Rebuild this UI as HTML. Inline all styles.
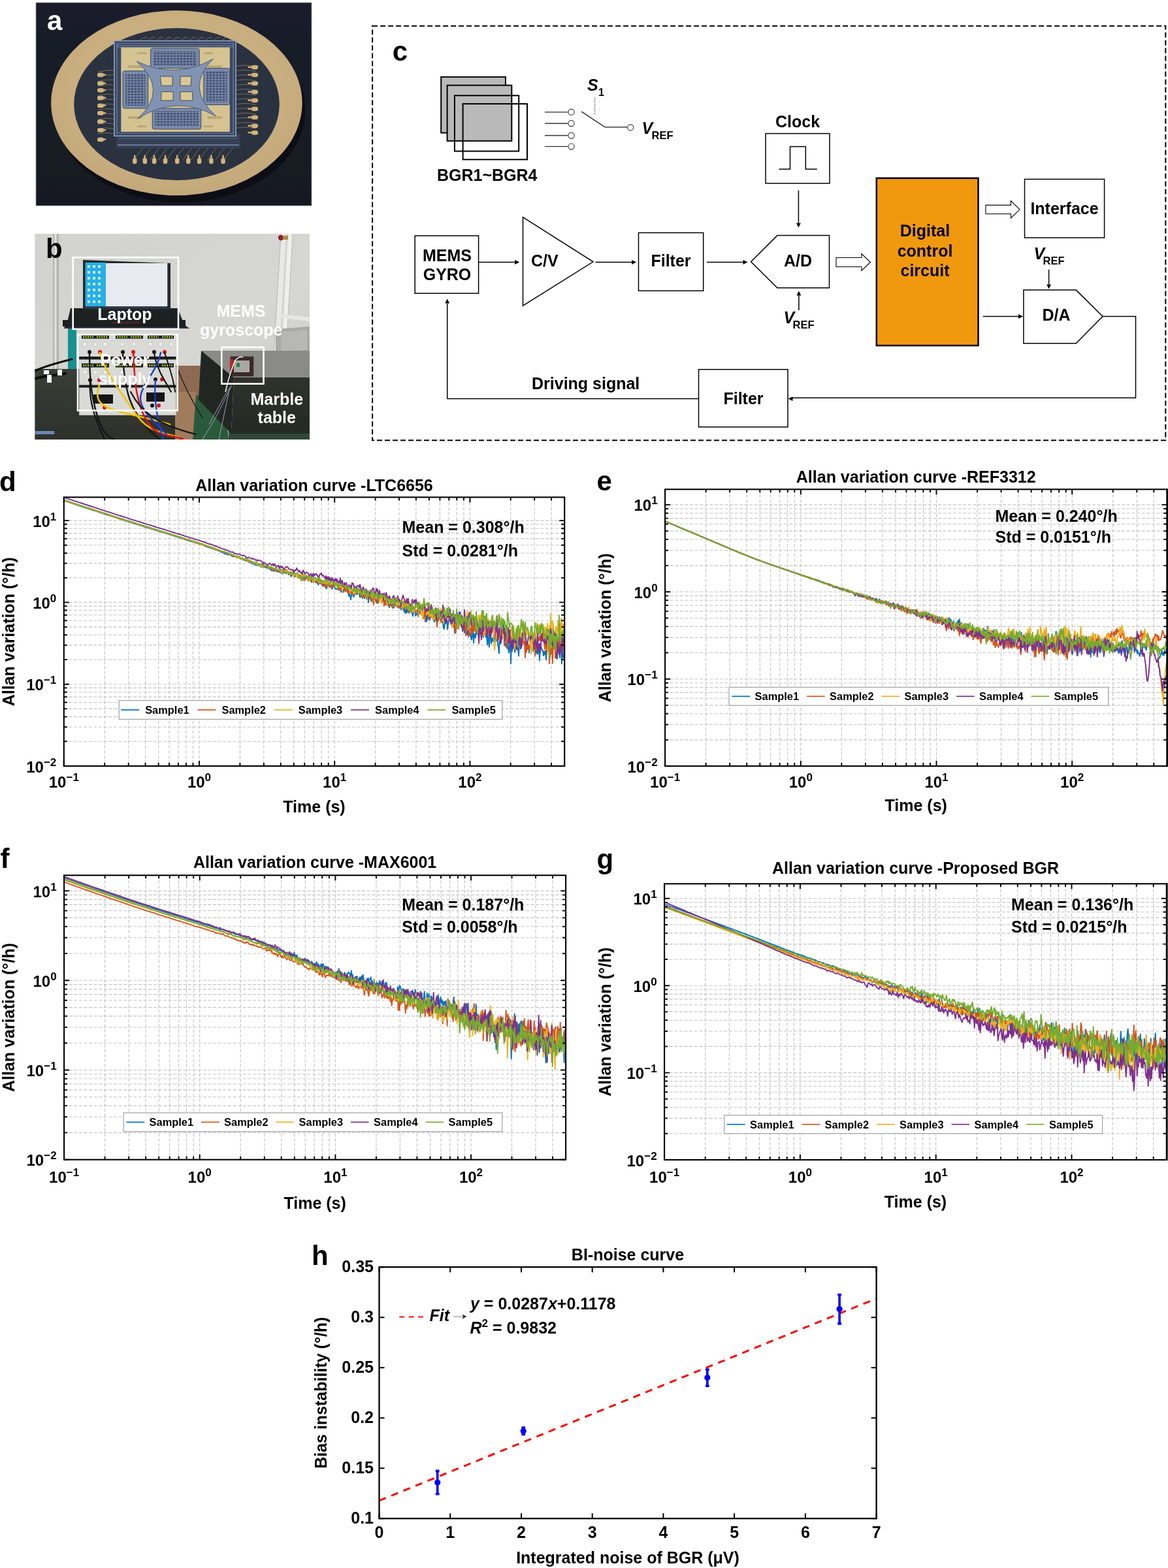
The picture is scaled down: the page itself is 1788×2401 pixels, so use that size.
<!DOCTYPE html>
<html><head><meta charset="utf-8"><title>Figure</title>
<style>html,body{margin:0;padding:0;background:#fff;}svg{display:block;}</style>
</head><body>
<svg width="1788" height="2401" viewBox="0 0 1788 2401" font-family="'Liberation Sans', Arial, Helvetica, sans-serif" font-weight="bold">
<rect width="1788" height="2401" fill="#fff"/>
<defs><clipPath id="clipA"><rect x="55" y="4" width="422" height="311"/></clipPath><clipPath id="clipB"><rect x="53.2" y="357.9" width="420.8" height="315.1"/></clipPath><linearGradient id="bgA" x1="0" y1="0" x2="0" y2="1"><stop offset="0" stop-color="#1a1f2a"/><stop offset="1" stop-color="#151921"/></linearGradient><radialGradient id="ringA" cx="0.5" cy="0.45" r="0.6"><stop offset="0.7" stop-color="#c9ae80"/><stop offset="1" stop-color="#c2a679"/></radialGradient><linearGradient id="wallB" x1="0" y1="0" x2="1" y2="1"><stop offset="0" stop-color="#d2d2ce"/><stop offset="0.6" stop-color="#d6d6d2"/><stop offset="1" stop-color="#cacac6"/></linearGradient><linearGradient id="tableB" x1="0" y1="0" x2="0" y2="1"><stop offset="0" stop-color="#3a3d36"/><stop offset="1" stop-color="#2d312b"/></linearGradient><linearGradient id="marbleF" x1="0" y1="0" x2="0" y2="1"><stop offset="0" stop-color="#2e322d"/><stop offset="1" stop-color="#262a25"/></linearGradient><pattern id="comb" width="5" height="4.2" patternUnits="userSpaceOnUse"><rect width="5" height="4.2" fill="#7788a8"/><rect x="0.6" y="0.6" width="3.6" height="2.6" fill="#3f4e6d"/></pattern><filter id="soft" x="-2%" y="-2%" width="104%" height="104%"><feGaussianBlur stdDeviation="0.55"/></filter></defs>
<g clip-path="url(#clipA)"><g filter="url(#soft)">
<rect x="55" y="4" width="422" height="311" fill="url(#bgA)"/>
<ellipse cx="276" cy="168" rx="191.5" ry="142" fill="#0e1116"/>
<ellipse cx="270.4" cy="157.7" rx="192.2" ry="141.6" fill="url(#ringA)"/>
<ellipse cx="270.5" cy="159.4" rx="157.3" ry="116.5" fill="#2a313f"/>
<g fill="#d4b47c"><rect x="149" y="111.5" width="10" height="6.5" rx="3"/><rect x="156" y="113.3" width="6" height="2.4"/><rect x="149" y="124.5" width="10" height="6.5" rx="3"/><rect x="156" y="126.3" width="6" height="2.4"/><rect x="149" y="135" width="10" height="6.5" rx="3"/><rect x="156" y="136.8" width="6" height="2.4"/><rect x="149" y="146.7" width="10" height="6.5" rx="3"/><rect x="156" y="148.5" width="6" height="2.4"/><rect x="149" y="158.4" width="10" height="6.5" rx="3"/><rect x="156" y="160.20000000000002" width="6" height="2.4"/><rect x="149" y="170.1" width="10" height="6.5" rx="3"/><rect x="156" y="171.9" width="6" height="2.4"/><rect x="149" y="183.1" width="10" height="6.5" rx="3"/><rect x="156" y="184.9" width="6" height="2.4"/><rect x="149" y="196.1" width="10" height="6.5" rx="3"/><rect x="156" y="197.9" width="6" height="2.4"/><rect x="149" y="210.4" width="10" height="6.5" rx="3"/><rect x="156" y="212.20000000000002" width="6" height="2.4"/><rect x="385" y="99.8" width="10" height="6.5" rx="3"/><rect x="379.5" y="101.6" width="6" height="2.4"/><rect x="385" y="111.5" width="10" height="6.5" rx="3"/><rect x="379.5" y="113.3" width="6" height="2.4"/><rect x="385" y="124.5" width="10" height="6.5" rx="3"/><rect x="379.5" y="126.3" width="6" height="2.4"/><rect x="385" y="137.6" width="10" height="6.5" rx="3"/><rect x="379.5" y="139.4" width="6" height="2.4"/><rect x="385" y="150.6" width="10" height="6.5" rx="3"/><rect x="379.5" y="152.4" width="6" height="2.4"/><rect x="385" y="163.6" width="10" height="6.5" rx="3"/><rect x="379.5" y="165.4" width="6" height="2.4"/><rect x="385" y="176.6" width="10" height="6.5" rx="3"/><rect x="379.5" y="178.4" width="6" height="2.4"/><rect x="385" y="189.6" width="10" height="6.5" rx="3"/><rect x="379.5" y="191.4" width="6" height="2.4"/><rect x="385" y="200" width="10" height="6.5" rx="3"/><rect x="379.5" y="201.8" width="6" height="2.4"/><rect x="203.0" y="242" width="6.5" height="9" rx="3"/><rect x="205.0" y="237.5" width="2.4" height="6"/><rect x="218.60000000000002" y="242" width="6.5" height="9" rx="3"/><rect x="220.60000000000002" y="237.5" width="2.4" height="6"/><rect x="232.9" y="242" width="6.5" height="9" rx="3"/><rect x="234.9" y="237.5" width="2.4" height="6"/><rect x="249.8" y="242" width="6.5" height="9" rx="3"/><rect x="251.8" y="237.5" width="2.4" height="6"/><rect x="268.0" y="242" width="6.5" height="9" rx="3"/><rect x="270.0" y="237.5" width="2.4" height="6"/><rect x="285.0" y="242" width="6.5" height="9" rx="3"/><rect x="287.0" y="237.5" width="2.4" height="6"/><rect x="301.90000000000003" y="242" width="6.5" height="9" rx="3"/><rect x="303.90000000000003" y="237.5" width="2.4" height="6"/><rect x="320.1" y="242" width="6.5" height="9" rx="3"/><rect x="322.1" y="237.5" width="2.4" height="6"/><rect x="338.3" y="242" width="6.5" height="9" rx="3"/><rect x="340.3" y="237.5" width="2.4" height="6"/></g>
<path d="M150 110Q165 106 180 108M392 102Q375 98 358 102M150 117.3Q165 113.3 180 115.6M392 109.3Q375 105.3 358 109.3M150 124.6Q165 120.6 180 123.2M392 116.6Q375 112.6 358 116.6M150 131.9Q165 127.9 180 130.8M392 123.9Q375 119.9 358 123.9M150 139.2Q165 135.2 180 138.4M392 131.2Q375 127.2 358 131.2M150 146.5Q165 142.5 180 146M392 138.5Q375 134.5 358 138.5M150 153.8Q165 149.8 180 153.6M392 145.8Q375 141.8 358 145.8M150 161.1Q165 157.1 180 161.2M392 153.1Q375 149.1 358 153.1M150 168.4Q165 164.4 180 168.8M392 160.4Q375 156.4 358 160.4M150 175.7Q165 171.7 180 176.4M392 167.7Q375 163.7 358 167.7M150 183Q165 179 180 184M392 175Q375 171 358 175M150 190.3Q165 186.3 180 191.6M392 182.3Q375 178.3 358 182.3M150 197.6Q165 193.6 180 199.2M392 189.6Q375 185.6 358 189.6M150 204.9Q165 200.9 180 206.8M392 196.9Q375 192.9 358 196.9M205 245Q213 232 225 220M213 64Q219 55 225 58M217.5 245Q225.5 232 237.5 220M225.5 64Q231.5 55 237.5 58M230 245Q238 232 250 220M238 64Q244 55 250 58M242.5 245Q250.5 232 262.5 220M250.5 64Q256.5 55 262.5 58M255 245Q263 232 275 220M263 64Q269 55 275 58M267.5 245Q275.5 232 287.5 220M275.5 64Q281.5 55 287.5 58M280 245Q288 232 300 220M288 64Q294 55 300 58M292.5 245Q300.5 232 312.5 220M300.5 64Q306.5 55 312.5 58M305 245Q313 232 325 220M313 64Q319 55 325 58M317.5 245Q325.5 232 337.5 220M325.5 64Q331.5 55 337.5 58M330 245Q338 232 350 220M338 64Q344 55 350 58M342.5 245Q350.5 232 362.5 220M350.5 64Q356.5 55 362.5 58" stroke="#b89e6a" stroke-width="0.7" fill="none" opacity="0.8"/>
<path d="M177.5 205H367.5L368 227H178Z" fill="#363f54"/>
<path d="M180 222H366" stroke="#6a7a96" stroke-width="2"/><path d="M182 212H364" stroke="#4a5870" stroke-width="1.5"/>
<rect x="174.9" y="62.5" width="186.1" height="145.7" fill="#3a4660" stroke="#8fa3c4" stroke-width="1.6"/>
<path d="M178 66.5H358M178 69.5H358M178 72H358M178 204H358" stroke="#7d90b0" stroke-width="0.8"/><path d="M179 66V205M357 66V205" stroke="#6f82a2" stroke-width="1.2"/>
<rect x="185.3" y="72.6" width="166.5" height="129.2" fill="#d5c492"/>
<g fill="#b9a878"><rect x="196" y="100" width="22" height="4"/><rect x="196" y="178" width="22" height="4"/><rect x="318" y="100" width="22" height="4"/><rect x="318" y="178" width="22" height="4"/><rect x="210" y="80" width="14" height="3"/><rect x="312" y="80" width="14" height="3"/><rect x="210" y="192" width="14" height="3"/><rect x="312" y="192" width="14" height="3"/></g>
<rect x="230.6" y="74" width="74.6" height="30.6" rx="3" fill="#7a8cac" stroke="#3c4760" stroke-width="1"/>
<rect x="234.6" y="78" width="66.6" height="22.6" fill="url(#comb)"/>
<rect x="233.2" y="165.9" width="74.6" height="31.9" rx="3" fill="#7a8cac" stroke="#3c4760" stroke-width="1"/>
<rect x="237.2" y="169.9" width="66.6" height="23.9" fill="url(#comb)"/>
<rect x="188" y="108.6" width="38.6" height="57.3" rx="3" fill="#7a8cac" stroke="#3c4760" stroke-width="1"/>
<rect x="192" y="112.6" width="30.6" height="49.3" fill="url(#comb)"/>
<rect x="311.8" y="104.6" width="40" height="55.9" rx="3" fill="#7a8cac" stroke="#3c4760" stroke-width="1"/>
<rect x="315.8" y="108.6" width="32" height="47.9" fill="url(#comb)"/>
<path d="M209.3 94Q270 122.6 326.5 90Q281.9 134 330.5 177.8Q270 144 210.6 181.8Q259.2 138 209.3 94Z" fill="#8193b2" stroke="#4d5a74" stroke-width="1"/>
<g fill="#d9c894" stroke="#2d3446" stroke-width="0.8"><path d="M245.2 117H264V131.2H247Z"/><path d="M276 117H293.2L292 131.2H276Z"/><path d="M247 140.6H265.2V153.9H246.6Z"/><path d="M276 140.6H294.5L295 153.9H276Z"/></g>
<path d="M185 72L209 94M351 72L326.5 90M185 201L210.6 181.8M351 201L330.5 177.8" stroke="#c9b486" stroke-width="0.8"/>
<circle cx="140" cy="10" r="0" fill="none"/>
</g></g>
<rect x="55" y="4" width="422" height="311" fill="none" stroke="#9a9a9a" stroke-width="0.8"/>
<text x="72" y="46.2" font-size="42" fill="#fff">a</text>
<g clip-path="url(#clipB)"><g filter="url(#soft)">
<rect x="53.2" y="357.9" width="420.8" height="315.1" fill="url(#wallB)"/>
<rect x="81.2" y="357.9" width="9" height="212" fill="#b4b4b2"/><rect x="83.5" y="357.9" width="3" height="212" fill="#e2e2e0"/>
<path d="M430 358L418 560H426L438 358Z" fill="#e9e9e7"/><path d="M441 358L430 560H437L448 358Z" fill="#efefed"/>
<path d="M430 358L418 560" stroke="#b4b4b0" stroke-width="1"/><path d="M448 358L437 560" stroke="#b8b8b4" stroke-width="1"/>
<path d="M423 480L474 486V492L423 486Z" fill="#e6e6e4"/>
<circle cx="430" cy="364" r="4.2" fill="#8a2030"/><rect x="433" y="361" width="8" height="6" fill="#b08a40"/>
<path d="M422 504L474 500V540L422 542Z" fill="#a9a9a5"/><path d="M430 508L470 505V536L430 538Z" fill="#b7b7b3"/>
<rect x="104" y="495" width="13" height="72" fill="#16918f"/>
<path d="M53.2 565H305V673H53.2Z" fill="url(#tableB)"/>
<path d="M268 560H310V640H268Z" fill="#8e6b52"/><path d="M268 600H300V673H268Z" fill="#a07c5c"/>
<path d="M300 605L345 620L350 673H295Z" fill="#2c5a3a"/>
<path d="M350 655H474V673H350Z" fill="#2f4a38"/>
<path d="M308 537H474V578H358Z" fill="#8a8a86"/>
<path d="M308 537L358 578L354 664L304 612Z" fill="#222520"/>
<path d="M358 578H474V664H354Z" fill="url(#marbleF)"/>
<rect x="352.6" y="545.8" width="35.6" height="30.5" fill="#3a2c26"/><rect x="358" y="552" width="24" height="18" fill="#a8a8a4"/>
<rect x="352" y="550" width="5" height="16" fill="#c02020"/><rect x="362" y="556" width="5" height="6" fill="#208040"/>
<path d="M345 600Q352 570 360 552Q366 545 372 547" stroke="#f0f0f0" stroke-width="1.6" fill="none"/>
<path d="M355 590L330 640L310 673M350 595L320 650M352 592L335 673" stroke="#9aa0b8" stroke-width="1" fill="none"/>
<path d="M100 497H282L290 503H98Z" fill="#2a2b2e"/>
<path d="M96 490H284V500H96Z" fill="#1c1d20"/>
<path d="M108 472H272L282 497H102Z" fill="#1f2023"/>
<path d="M172 494H214" stroke="#a02020" stroke-width="1.2"/>
<path d="M127 398L261 403V474H127Z" fill="#26292f"/>
<rect x="130.6" y="402" width="31.3" height="67" fill="#26b0e6"/>
<rect x="161.9" y="403" width="94.4" height="66" fill="#e7ebf1"/>
<rect x="130.6" y="469" width="125.7" height="3" fill="#2e3d58"/>
<g fill="#f4f4f4" opacity="0.8"><rect x="134" y="406" width="4" height="4"/><rect x="142" y="406" width="4" height="4"/><rect x="150" y="406" width="4" height="4"/><rect x="134" y="415" width="4" height="4"/><rect x="142" y="415" width="4" height="4"/><rect x="150" y="415" width="4" height="4"/><rect x="134" y="424" width="4" height="4"/><rect x="142" y="424" width="4" height="4"/><rect x="150" y="424" width="4" height="4"/><rect x="134" y="433" width="4" height="4"/><rect x="142" y="433" width="4" height="4"/><rect x="150" y="433" width="4" height="4"/><rect x="134" y="442" width="4" height="4"/><rect x="142" y="442" width="4" height="4"/><rect x="150" y="442" width="4" height="4"/><rect x="134" y="451" width="4" height="4"/><rect x="142" y="451" width="4" height="4"/><rect x="150" y="451" width="4" height="4"/><rect x="134" y="460" width="4" height="4"/><rect x="142" y="460" width="4" height="4"/><rect x="150" y="460" width="4" height="4"/></g>
<rect x="121.2" y="507.3" width="148.2" height="128.5" fill="#d9d9d5"/>
<rect x="121.2" y="546" width="148.2" height="4.5" fill="#1e1e1e"/><rect x="121.2" y="589.5" width="148.2" height="4" fill="#1e1e1e"/>
<g fill="#141414"><rect x="125" y="513.5" width="42" height="5"/><rect x="177" y="513.5" width="42" height="5"/><rect x="226" y="513.5" width="40" height="5"/><rect x="125" y="556.5" width="42" height="6"/><rect x="177" y="556.5" width="42" height="6"/><rect x="226" y="556.5" width="40" height="6"/><rect x="143" y="604" width="30" height="14"/><rect x="224" y="601" width="28" height="14"/></g>
<g stroke="#a8d82a" stroke-width="2.6" stroke-dasharray="2.2 1.3" fill="none"><path d="M127 516h16"/><path d="M148 516h17"/><path d="M179 516h16"/><path d="M200 516h17"/><path d="M228 516h15"/><path d="M248 516h16"/><path d="M127 559.5h16"/><path d="M148 559.5h17"/><path d="M179 559.5h16"/><path d="M200 559.5h17"/><path d="M228 559.5h15"/><path d="M248 559.5h16"/></g>
<g fill="#f0f0ee" stroke="#b0b0ac" stroke-width="0.6"><circle cx="130" cy="527" r="3.2"/><circle cx="146" cy="527" r="3.2"/><circle cx="161" cy="527" r="3.2"/><circle cx="187" cy="527" r="3.2"/><circle cx="205" cy="527" r="3.2"/><circle cx="230" cy="527" r="3.2"/><circle cx="246" cy="527" r="3.2"/><circle cx="262" cy="527" r="3.2"/><circle cx="130" cy="570" r="3.2"/><circle cx="146" cy="570" r="3.2"/><circle cx="161" cy="570" r="3.2"/><circle cx="187" cy="570" r="3.2"/><circle cx="205" cy="570" r="3.2"/><circle cx="230" cy="570" r="3.2"/><circle cx="246" cy="570" r="3.2"/><circle cx="262" cy="570" r="3.2"/></g>
<g fill="#111"><circle cx="137" cy="539" r="3"/><circle cx="188" cy="539" r="3"/><circle cx="236" cy="539" r="3"/><circle cx="138" cy="582" r="3"/><circle cx="238" cy="581" r="3"/><circle cx="233" cy="621" r="3"/></g>
<g fill="#d01818"><circle cx="153" cy="539" r="3"/><circle cx="204" cy="539" r="3"/><circle cx="252" cy="539" r="3"/><circle cx="152" cy="582" r="3"/><circle cx="248" cy="581" r="3"/><circle cx="243" cy="621" r="3"/><circle cx="160" cy="624" r="3"/></g>
<g fill="none" stroke-linecap="round"><path d="M137 540C137 580 140 610 150 640S170 670 175 673" stroke="#151515" stroke-width="2.4"/><path d="M188 540C190 600 200 630 230 660S265 673 280 673" stroke="#151515" stroke-width="2.4"/><path d="M138 582C135 620 150 650 160 673" stroke="#151515" stroke-width="2.2"/><path d="M236 540C238 560 250 580 262 600" stroke="#151515" stroke-width="2.2"/><path d="M153 540C160 570 185 600 205 630S240 660 275 670" stroke="#f0c400" stroke-width="2.6"/><path d="M152 590C145 610 150 620 175 628S230 640 260 650" stroke="#f0c400" stroke-width="2.6"/><path d="M204 540C206 590 210 620 225 645S260 665 280 672" stroke="#dd1515" stroke-width="2.6"/><path d="M246 540C240 570 215 590 215 610S240 650 255 665" stroke="#1c3cc8" stroke-width="2.4"/><path d="M238 582C235 610 240 640 250 673" stroke="#1c3cc8" stroke-width="2.2"/><path d="M252 540C258 560 265 575 268 600" stroke="#151515" stroke-width="2"/><path d="M200 600C215 630 240 650 300 665" stroke="#151515" stroke-width="2.2"/><path d="M53 568C70 560 90 555 110 550" stroke="#111" stroke-width="3"/><path d="M53 580C70 575 85 575 100 572" stroke="#111" stroke-width="4"/><path d="M270 560Q285 600 310 640" stroke="#222" stroke-width="1.5"/></g>
<rect x="67" y="567" width="8" height="6" fill="#f2f2f2"/><rect x="72" y="574" width="7" height="12" fill="#f2f2f2"/><rect x="88" y="566" width="7" height="9" fill="#f2f2f2"/>
<rect x="53.2" y="660" width="30" height="5" fill="#6a86b8"/>
</g></g>
<g fill="none" stroke="#fff" stroke-width="2.6"><rect x="111.7" y="394.2" width="161.3" height="109.7"/><rect x="119" y="512.3" width="152.6" height="116.3"/><rect x="339.3" y="531.8" width="64.2" height="55.9"/></g>
<text x="191" y="490" font-size="25" text-anchor="middle" fill="#fff">Laptop</text>
<text x="190.9" y="559.6" font-size="25" text-anchor="middle" fill="#fff">Power</text>
<text x="191" y="589.4" font-size="25" text-anchor="middle" fill="#fff">supply</text>
<text x="368.9" y="485.3" font-size="25" text-anchor="middle" fill="#fff">MEMS</text>
<text x="369.2" y="513.9" font-size="25" text-anchor="middle" fill="#fff">gyroscope</text>
<text x="423.8" y="619.5" font-size="25" text-anchor="middle" fill="#fff">Marble</text>
<text x="423.8" y="648.1" font-size="25" text-anchor="middle" fill="#fff">table</text>
<text x="70" y="395" font-size="42">b</text>
<rect x="570.1" y="39.8" width="1214.2" height="634.5" fill="none" stroke="#000" stroke-width="2" stroke-dasharray="8 4"/>
<text x="600.8" y="92.6" font-size="42">c</text>
<rect x="675.2" y="117.8" width="98.7" height="85.6" fill="#b9b9b9" stroke="#000" stroke-width="2"/>
<rect x="684.6" y="130.6" width="98.7" height="85.2" fill="#b9b9b9" stroke="#000" stroke-width="2"/>
<rect x="695.9" y="146.3" width="98.3" height="85.2" fill="none" stroke="#000" stroke-width="2"/>
<rect x="708.6" y="159" width="98.4" height="85.3" fill="none" stroke="#000" stroke-width="2"/>
<text x="669" y="277" font-size="25">BGR1~BGR4</text>
<path d="M834 171.7H869.7" stroke="#333" stroke-width="1.3"/>
<circle cx="874.6" cy="171.7" r="4.6" fill="#fff" stroke="#333" stroke-width="1.1"/>
<path d="M834 189H869.7" stroke="#333" stroke-width="1.3"/>
<circle cx="874.6" cy="189" r="4.6" fill="#fff" stroke="#333" stroke-width="1.1"/>
<path d="M834 207.5H869.7" stroke="#333" stroke-width="1.3"/>
<circle cx="874.6" cy="207.5" r="4.6" fill="#fff" stroke="#333" stroke-width="1.1"/>
<path d="M834 224.3H869.7" stroke="#333" stroke-width="1.3"/>
<circle cx="874.6" cy="224.3" r="4.6" fill="#fff" stroke="#333" stroke-width="1.1"/>
<path d="M890.2 170.9L925.9 194.6H960.5" stroke="#222" stroke-width="1.3" fill="none"/>
<circle cx="965.2" cy="195.2" r="4.6" fill="#fff" stroke="#333" stroke-width="1.1"/>
<path d="M910.6 149.3V175.3" stroke="#555" stroke-width="1" stroke-dasharray="2.2 1.2"/>
<text x="899" y="138.6" font-size="25" font-style="italic">S</text>
<text x="916" y="146.6" font-size="16">1</text>
<text x="982.5" y="204.8" font-size="25" font-style="italic">V</text>
<text x="997.5" y="212.8" font-size="16.5">REF</text>
<text x="1221" y="194.5" font-size="25" text-anchor="middle">Clock</text>
<rect x="1172" y="204.5" width="98" height="76.2" fill="none" stroke="#000" stroke-width="1.5"/>
<path d="M1192.5 259H1209.5V224.5H1233.3V259H1250.8" stroke="#000" stroke-width="1.5" fill="none"/>
<path d="M1222.4 291.5L1222.4 341.6" stroke="#000" stroke-width="1.5" fill="none"/>
<path d="M1222.4 348.6L1219 341.6L1225.8 341.6Z" fill="#000"/>
<rect x="635.2" y="361" width="97.4" height="88.2" fill="none" stroke="#000" stroke-width="1.5"/>
<text x="684.5" y="399.6" font-size="25" text-anchor="middle">MEMS</text>
<text x="684.5" y="429.2" font-size="25" text-anchor="middle">GYRO</text>
<path d="M732.6 401.5L788.1 401.5" stroke="#000" stroke-width="1.5" fill="none"/>
<path d="M795.1 401.5L788.1 404.9L788.1 398.1Z" fill="#000"/>
<path d="M800.5 332.6L908 400.8L800.5 468.2Z" fill="none" stroke="#000" stroke-width="1.5"/>
<text x="813" y="408" font-size="25">C/V</text>
<path d="M911.4 401.5L967.2 401.5" stroke="#000" stroke-width="1.5" fill="none"/>
<path d="M974.2 401.5L967.2 404.9L967.2 398.1Z" fill="#000"/>
<rect x="977.5" y="356.4" width="99.2" height="88.9" fill="none" stroke="#000" stroke-width="1.5"/>
<text x="1027" y="408" font-size="25" text-anchor="middle">Filter</text>
<path d="M1082 401.5L1137.5 401.5" stroke="#000" stroke-width="1.5" fill="none"/>
<path d="M1144.5 401.5L1137.5 404.9L1137.5 398.1Z" fill="#000"/>
<path d="M1149.6 400.8L1189.8 360.6H1269.5V440.7H1189.8Z" fill="none" stroke="#000" stroke-width="1.5"/>
<text x="1221.5" y="408" font-size="25" text-anchor="middle">A/D</text>
<path d="M1222.9 475L1222.9 452.5" stroke="#000" stroke-width="1.5" fill="none"/>
<path d="M1222.9 445.5L1226.3 452.5L1219.5 452.5Z" fill="#000"/>
<text x="1199.5" y="494.9" font-size="25" font-style="italic">V</text>
<text x="1213.5" y="502.7" font-size="16.5">REF</text>
<path d="M1280 394.5H1318.9V388.5L1332.4 401.5L1318.9 414.5V408.5H1280Z" fill="#fff" stroke="#000" stroke-width="1.1"/>
<path d="M1508.9 314.1H1547.5V307.6L1561 320.8L1547.5 334V327.5H1508.9Z" fill="#fff" stroke="#000" stroke-width="1.1"/>
<rect x="1341.8" y="272.8" width="155.7" height="256.3" fill="#f0990f" stroke="#000" stroke-width="2.5"/>
<text x="1416" y="362.4" font-size="25" text-anchor="middle">Digital</text>
<text x="1416" y="392.6" font-size="25" text-anchor="middle">control</text>
<text x="1416" y="422.6" font-size="25" text-anchor="middle">circuit</text>
<rect x="1568.5" y="274.4" width="122.1" height="89.6" fill="none" stroke="#000" stroke-width="1.5"/>
<text x="1629.5" y="328" font-size="25" text-anchor="middle">Interface</text>
<text x="1582.5" y="396.5" font-size="25" font-style="italic">V</text>
<text x="1596.5" y="404.7" font-size="16.5">REF</text>
<path d="M1605.6 412.8L1605.6 435.5" stroke="#000" stroke-width="1.5" fill="none"/>
<path d="M1605.6 442.5L1602.2 435.5L1609 435.5Z" fill="#000"/>
<path d="M1566.9 444.1H1647.3L1688 484.5L1647.3 525.8H1566.9Z" fill="none" stroke="#000" stroke-width="1.5"/>
<text x="1617" y="491" font-size="25" text-anchor="middle">D/A</text>
<path d="M1504.7 484.5L1559 484.5" stroke="#000" stroke-width="1.5" fill="none"/>
<path d="M1566 484.5L1559 487.9L1559 481.1Z" fill="#000"/>
<path d="M1688 484.5H1738.5V609.2H1212" stroke="#000" stroke-width="1.5" fill="none"/>
<path d="M1206.5 610.6L1213.5 607.2L1213.5 614Z" fill="#000"/>
<rect x="1069.5" y="565.7" width="136.5" height="88.1" fill="none" stroke="#000" stroke-width="1.5"/>
<text x="1138" y="618.6" font-size="25" text-anchor="middle">Filter</text>
<path d="M1069.5 610.6H684.7V465" stroke="#000" stroke-width="1.5" fill="none"/>
<path d="M684.7 457.6L681.3 464.6H688.1Z" fill="#000"/>
<text x="814" y="595.8" font-size="25">Driving signal</text>
<clipPath id="clipd"><rect x="97.8" y="761.4" width="766.4" height="411.6"/></clipPath>
<path d="M160.2 761.4V1173M196.7 761.4V1173M222.5 761.4V1173M242.6 761.4V1173M259 761.4V1173M272.9 761.4V1173M284.9 761.4V1173M295.5 761.4V1173M305 761.4V1173M367.4 761.4V1173M403.8 761.4V1173M429.7 761.4V1173M449.8 761.4V1173M466.2 761.4V1173M480.1 761.4V1173M492.1 761.4V1173M502.7 761.4V1173M512.2 761.4V1173M574.6 761.4V1173M611 761.4V1173M636.9 761.4V1173M657 761.4V1173M673.4 761.4V1173M687.3 761.4V1173M699.3 761.4V1173M709.9 761.4V1173M719.4 761.4V1173M781.7 761.4V1173M818.2 761.4V1173M844.1 761.4V1173M97.8 1135.3H864.2M97.8 1113.2H864.2M97.8 1097.6H864.2M97.8 1085.4H864.2M97.8 1075.5H864.2M97.8 1067.1H864.2M97.8 1059.8H864.2M97.8 1053.4H864.2M97.8 1047.7H864.2M97.8 1010H864.2M97.8 987.9H864.2M97.8 972.3H864.2M97.8 960.1H864.2M97.8 950.2H864.2M97.8 941.8H864.2M97.8 934.5H864.2M97.8 928.1H864.2M97.8 922.4H864.2M97.8 884.7H864.2M97.8 862.6H864.2M97.8 847H864.2M97.8 834.8H864.2M97.8 824.9H864.2M97.8 816.5H864.2M97.8 809.2H864.2M97.8 802.8H864.2M97.8 797.1H864.2" stroke="#c4c4c4" stroke-width="1.1" stroke-dasharray="5 2.6" fill="none"/>
<g clip-path="url(#clipd)" fill="none" stroke-width="1.9" stroke-linejoin="round">
<path d="M97.8 766.7L100.8 767.6L103.8 768.6L106.8 769.6L109.8 770.6L112.8 771.6L115.8 772.6L118.8 773.6L121.8 774.6L124.8 775.6L127.8 776.5L130.8 777.5L133.8 778.5L136.8 779.5L139.8 780.5L142.8 781.5L145.8 782.4L148.8 783.4L151.8 784.4L154.8 785.4L157.8 786.3L160.8 787.3L163.8 788.3L166.8 789.3L169.8 790.2L172.8 791.2L175.8 792.2L178.8 793.1L181.8 794.1L184.8 795.1L187.8 796L190.8 797L193.8 798L196.8 798.9L199.8 799.9L202.8 800.9L205.8 801.8L208.8 802.8L211.8 803.7L214.8 804.6L217.8 805.6L220.8 806.5L223.8 807.5L226.8 808.4L229.8 809.3L232.8 810.3L235.8 811.2L238.8 812.1L241.8 813L244.8 814L246.8 814.6L248.8 815.2L250.8 815.8L252.8 816.4L254.8 817.1L256.8 817.7L258.8 818.3L260.8 818.9L262.8 819.5L264.8 820.2L266.8 820.8L268.8 821.5L270.8 822L272.8 822.8L274.8 823.4L276.8 824L278.8 824.5L280.8 825.1L282.8 826.1L284.8 826.7L286.8 827.1L288.8 828.2L290.8 828.5L292.8 829.1L294.8 829.5L296.8 830.2L298.8 831L300.8 831.7L302.8 832.2L304.8 832.5L306.8 833.6L308.8 834.2L310.8 834.8L312.8 835.6L314.8 836.4L316.8 837.5L318.8 837.9L320.8 838.8L322.8 839.1L324.8 839.9L326.8 840.9L328.8 841.3L330.8 842.4L332.8 842.5L334.8 843.5L336.8 844L338.8 845.6L340.8 845.6L342.8 847.4L344.8 848.4L346.8 848.2L348.8 849.3L350.8 849.4L352.8 849.1L354.8 851.5L356.8 852.1L358.8 852.4L360.8 852.9L362.8 853.9L364.8 854.4L366.8 854.4L368.8 855.1L370.2 856.6L371.6 856.3L373 856.8L374.4 858.2L375.8 857.7L377.2 859.1L378.6 858.2L380 859.1L381.4 859.6L382.8 860.6L384.2 860.8L385.6 863.2L387 863L388.4 862.2L389.8 865.2L391.2 862.9L392.6 866L394 864L395.4 866.1L396.8 865.1L398.2 866.2L399.6 868.6L401 866.2L402.4 866.4L403.8 868.1L405.2 868.6L406.6 868.6L408 869.8L409.4 867.9L410.8 870.2L412.2 870.2L413.6 872L415 872.5L416.4 874.1L417.8 871.5L419.2 873.5L420.6 872.5L422 873.8L423.4 875.2L424.8 874.9L426.2 875.6L427.6 875.2L429 876.2L430.4 876.4L431.8 878.4L433.2 877.5L434.6 873.9L436 877.2L437.4 877.9L438.8 875.8L440.2 874.8L441.6 880.1L443 878.5L444.4 880.1L445.8 882.9L447.2 879L448.6 880.7L450 881L451.4 882.9L452.8 880.9L454.2 882.8L455.6 882.2L457 884.5L458.4 885.1L459.8 880.8L461.2 884.6L462.6 883.4L464 884.3L465.4 885.4L466.8 885.8L468.2 884L469.6 886.1L471 886.4L472 886.6L473 885.1L474 886.5L475 887.4L476 889.5L477 891.5L478 886.6L479 886.7L480 888.9L481 887.9L482 888L483 888.6L484 889.1L485 892.6L486 889.3L487 895.7L488 891.2L489 891.8L490 890.9L491 888.7L492 889.5L493 895.6L494 897.6L495 892.3L496 897.3L497 895.3L498 894L499 900.2L500 901.4L501 895.2L502 895.5L503 896.1L504 895.2L505 897.5L506 899.3L507 895.8L508 898.4L509 900.8L510 895.8L511 897.8L512 897.4L513 901.6L514 901L515 902.3L516 902.3L517 899.7L518 903L519 900.5L520 901L521 897.5L522 906.6L523 900.4L524 902.7L525 902.4L526 906.7L527 903.5L528 900.3L529 902.5L530 902.5L531 904.2L532 901.3L533 905L534 912.8L535 908.7L536 913.4L537 918.2L538 910.2L539 905.8L540 909.6L541 913.9L542 913.4L543 907.4L544 909.8L545 909.9L546 910L547 909.7L548 907.7L549 908.5L550 909.7L551 914.4L552 909.9L553 914.1L554 908.8L555 916.2L556 912L557 911.4L558 916.3L559 906.6L560 907.5L561 913.6L562 909.9L563 911.3L564 922.6L565 912.5L566 914.3L567 914.7L568 920.1L569 917.7L570 917.7L571 913.5L572 916L573 916.9L574 911.9L575 918.6L576 917.8L577 923.7L578 911.4L579 913.5L580 913.9L581 915.1L582 917.6L583 918L584 920.6L585 921L586 920.5L587 916.2L588 919.9L589 922.5L590 925.4L591 926.3L592 918.6L593 922.7L594 924.5L595 926.6L596 930.3L597 926L598 922.8L599 927.5L600 926.2L601 925.4L602 923.2L603 930.7L604 924.3L605 927.7L606 921.2L607 929.2L608 924.3L609 921.3L610 928.8L611 930.5L612 927.2L613 928.3L614 933.7L615 927.3L616 921.9L617 931.9L618 932.4L619 937.4L620 931.2L621 939.2L622 938.5L623 927.5L624 937.4L625 928.3L626 926.9L627 932.7L628 932.1L629 926.8L630 936.5L631 939L632 943.5L633 936.3L634 930.6L635 933.2L636 942.7L637 942.2L638 940L639 935.6L640 938L641 935.9L642 935.9L643 939.7L644 939.1L645 938.8L646 941L647 938.8L648 932.9L649 939.1L650 941.5L651 951.7L652 938.9L653 951.9L654 947.7L655 934.2L656 934.6L657 939.2L658 949.5L659 941.5L660 944.3L661 937.9L662 930.9L663 942L664 949L665 952.1L666 945L667 945.7L668 952L669 943.5L670 952.4L671 939.8L672 941.2L673 942.1L674 952.1L675 946.7L676 950.9L677 953.1L678 953.3L679 961L680 963.1L681 949L682 955L683 951.9L684 946.4L685 963.7L686 955.7L687 948.2L688 946.7L689 952L690 943.8L691 949.3L692 960.7L693 959.5L694 948.3L695 951L696 969.3L697 946.5L698 951.1L699 946.6L700 957.9L701 957L702 963.1L703 937L704 953.3L705 941L706 956.4L707 950.6L708 966.9L709 957.6L710 949.8L711 968.7L712 952.7L713 959.3L714 972.2L715 969L716 969.8L717 966.6L718 970.8L719 973.2L720 968.6L721 975.9L722 979.7L723 969.9L724 964.3L725 984.8L726 970.1L727 975L728 976.7L729 960.1L730 970.5L731 954L732 972L733 960.8L734 964.9L735 969.5L736 957.6L737 964.1L738 958.8L739 964.7L740 975.7L741 966.3L742 965.2L743 958.5L744 976.1L745 968.4L746 987.3L747 965.6L748 983.2L749 990.9L750 971.5L751 960.7L752 985.5L753 980.5L754 977L755 982.2L756 968.2L757 981.6L758 981.3L759 968.2L760 981.4L761 970L762 986.2L763 991.2L764 1000.4L765 966L766 985.9L767 979L768 978.8L769 974.1L770 972.4L771 954.9L772 982.2L773 988.9L774 984.8L775 990.8L776 972L777 973.6L778 993.2L779 999.6L780 989.2L781 973.5L782 1016.1L783 979.3L784 994.4L785 972.7L786 993L787 984.5L788 998.9L789 994L790 972.3L791 977.6L792 989.1L793 993.8L794 1004.4L795 986.5L796 980.8L797 979.8L798 978.5L799 988.5L800 975.9L801 975.4L802 964.4L803 960.7L804 980L805 989.1L806 983.2L807 991.1L808 994.4L809 988L810 999.7L811 983.8L812 990.8L813 987.7L814 991.4L815 996.4L816 997.3L817 987.8L818 990.3L819 982.1L820 984.6L821 1000.5L822 985.6L823 1001.6L824 994L825 991L826 1011.4L827 988.6L828 989L829 992.6L830 996.1L831 996.3L832 1004.1L833 997.7L834 1002.3L835 996.3L836 1010.4L837 994.3L838 993.6L839 994.3L840 995.5L841 984.3L842 1006L843 982L844 981.8L845 979.5L846 977.1L847 987.3L848 983.9L849 977.7L850 982.2L851 987.2L852 1008.4L853 988.4L854 983L855 983.5L856 988.9L857 1007L858 980.7L859 989.9L860 1016.4L861 985.9L862 1007.2L863 1006.7L864 1000.9L865 984.2" stroke="#0072BD"/>
<path d="M97.8 766L100.8 767L103.8 768L106.8 769L109.8 770L112.8 771L115.8 772L118.8 773L121.8 773.9L124.8 774.9L127.8 775.9L130.8 776.9L133.8 777.9L136.8 778.9L139.8 779.9L142.8 780.8L145.8 781.8L148.8 782.8L151.8 783.8L154.8 784.7L157.8 785.7L160.8 786.7L163.8 787.7L166.8 788.6L169.8 789.6L172.8 790.6L175.8 791.6L178.8 792.5L181.8 793.5L184.8 794.5L187.8 795.4L190.8 796.4L193.8 797.4L196.8 798.3L199.8 799.3L202.8 800.2L205.8 801.2L208.8 802.1L211.8 803.1L214.8 804L217.8 805L220.8 805.9L223.8 806.9L226.8 807.8L229.8 808.7L232.8 809.6L235.8 810.6L238.8 811.5L241.8 812.4L244.8 813.4L246.8 814L248.8 814.6L250.8 815.2L252.8 815.9L254.8 816.4L256.8 817L258.8 817.7L260.8 818.4L262.8 819L264.8 819.5L266.8 820.1L268.8 820.7L270.8 821.3L272.8 822L274.8 822.6L276.8 823.3L278.8 824.2L280.8 824.6L282.8 825.2L284.8 826L286.8 826.4L288.8 827.3L290.8 828.1L292.8 828.3L294.8 829.1L296.8 829.9L298.8 830.4L300.8 831L302.8 831.8L304.8 833.2L306.8 833.4L308.8 834L310.8 834.9L312.8 835.2L314.8 835.7L316.8 836.8L318.8 837.7L320.8 837.4L322.8 838.7L324.8 839.7L326.8 839.8L328.8 840.4L330.8 841.6L332.8 841.7L334.8 843L336.8 843.9L338.8 844L340.8 844.5L342.8 845.8L344.8 846.1L346.8 847L348.8 846.4L350.8 848.9L352.8 848.5L354.8 850L356.8 850.7L358.8 851L360.8 851.6L362.8 852.1L364.8 853.3L366.8 854.7L368.8 855.5L370.2 855.3L371.6 855.8L373 855.8L374.4 856.9L375.8 856.9L377.2 857L378.6 858.3L380 860.2L381.4 860.4L382.8 861.1L384.2 859.1L385.6 861.6L387 860.4L388.4 861.4L389.8 861.2L391.2 862.4L392.6 863.9L394 864.5L395.4 864.7L396.8 865L398.2 866.1L399.6 865.8L401 864.5L402.4 868.2L403.8 866.2L405.2 867.9L406.6 867.1L408 866.9L409.4 868.4L410.8 868L412.2 871.4L413.6 868.6L415 870.9L416.4 869.9L417.8 870.8L419.2 875.2L420.6 873.1L422 872.3L423.4 871.3L424.8 873.2L426.2 873.6L427.6 876.3L429 872.4L430.4 871.9L431.8 874.2L433.2 874.7L434.6 877.3L436 873.8L437.4 871.8L438.8 874.9L440.2 874.6L441.6 875.9L443 878.9L444.4 875.5L445.8 880.2L447.2 878.7L448.6 878.3L450 877.9L451.4 879.1L452.8 879.5L454.2 882L455.6 883.5L457 881.3L458.4 883.6L459.8 885.5L461.2 886.1L462.6 885L464 888.5L465.4 887.9L466.8 888.8L468.2 885.1L469.6 884.9L471 882.4L472 889.5L473 887.9L474 885L475 887.5L476 888.2L477 884.7L478 888.8L479 890.9L480 891.4L481 887.8L482 888.1L483 892.2L484 891.6L485 888.5L486 888.6L487 891.3L488 888.6L489 888.8L490 894.4L491 890.9L492 889.6L493 892.2L494 896.7L495 892.6L496 891.1L497 890.2L498 899.9L499 889.5L500 898.2L501 893.5L502 892.9L503 893.3L504 894.9L505 898.2L506 893.6L507 897L508 902.1L509 889.2L510 894L511 891.9L512 898.8L513 893.2L514 893L515 893L516 896.5L517 900.1L518 897.5L519 904L520 903.2L521 898.5L522 902.1L523 900L524 900.2L525 895.8L526 897.9L527 902L528 899.9L529 905.9L530 905L531 901.8L532 907.9L533 904.9L534 908.4L535 904.2L536 900.9L537 908L538 905.6L539 909.6L540 910.7L541 911.2L542 903.3L543 901L544 905.7L545 909.4L546 905.1L547 908.2L548 905.4L549 907.2L550 907.6L551 906.9L552 910.6L553 910L554 914.7L555 910.3L556 914.2L557 910.3L558 914.1L559 910.9L560 910.4L561 917.4L562 915.6L563 916.7L564 911.8L565 909.7L566 912.9L567 917.1L568 911.3L569 921.2L570 910.4L571 917.3L572 925.8L573 907.2L574 911.3L575 921.2L576 917.2L577 918.9L578 917.6L579 923.5L580 919.7L581 914.9L582 915.3L583 912L584 915.7L585 908.7L586 920.1L587 917.2L588 927.5L589 925.8L590 916.7L591 925.9L592 920.2L593 922.4L594 927L595 924.3L596 925.9L597 926.8L598 922.9L599 924L600 929.4L601 931.2L602 926.2L603 927.8L604 923.6L605 917.5L606 923.7L607 926.6L608 927.1L609 930.3L610 930.5L611 931.2L612 928.5L613 929L614 924.1L615 928.9L616 927.8L617 933.1L618 920.8L619 925.6L620 921.1L621 926L622 924.5L623 932.9L624 929.4L625 921.5L626 939L627 927.3L628 924.6L629 929.2L630 927.3L631 925L632 934.3L633 929.3L634 936.7L635 936.5L636 937.2L637 935.5L638 934.6L639 933.5L640 944L641 926.6L642 930.5L643 932.7L644 938.5L645 937.1L646 934.1L647 934.8L648 947.3L649 933.7L650 923.8L651 950.2L652 934.6L653 938.1L654 940.8L655 933.6L656 948.5L657 940.8L658 935L659 944L660 945.5L661 941.6L662 944.6L663 933L664 946.7L665 936L666 949.5L667 937.8L668 942.5L669 959.9L670 942.1L671 949.8L672 946L673 935.1L674 952.5L675 953L676 938.2L677 946.3L678 938.8L679 945.7L680 953.7L681 947L682 938.6L683 939.4L684 944.2L685 943.3L686 944.1L687 947.8L688 932.6L689 945L690 955.3L691 951.9L692 945.8L693 948.3L694 955.1L695 960.7L696 955.9L697 969.7L698 966.1L699 949.4L700 957.5L701 951L702 946.1L703 950.8L704 956.1L705 943.4L706 953.9L707 961.9L708 954.2L709 956.2L710 965.7L711 956.7L712 957.7L713 973.1L714 957.5L715 959.6L716 962.9L717 975.8L718 965.6L719 963.5L720 962L721 971.9L722 955.5L723 970.5L724 961L725 949.5L726 966.3L727 965.7L728 954.5L729 968L730 968.5L731 964.1L732 957.1L733 985.6L734 970.3L735 970.7L736 970.9L737 969.2L738 970.3L739 960.8L740 973.5L741 963.8L742 961.7L743 972.5L744 963.6L745 951.2L746 961.6L747 970.7L748 964.2L749 973.3L750 961L751 955.7L752 971.1L753 963.5L754 951.1L755 966.3L756 960.2L757 975.4L758 975.5L759 974.6L760 952.4L761 976.8L762 979L763 979.9L764 976.1L765 969.1L766 973L767 956.8L768 972.1L769 961.3L770 970.9L771 967.4L772 987.5L773 971.8L774 970.3L775 971.8L776 992.9L777 961.7L778 973.8L779 974.5L780 972.1L781 970.7L782 963.7L783 980.9L784 977.5L785 965.7L786 968.6L787 975.9L788 980L789 985L790 978.8L791 970.1L792 992.9L793 967.9L794 972L795 981.7L796 967.6L797 988.6L798 990.8L799 986.9L800 979.5L801 981.5L802 986.3L803 981.6L804 1007.1L805 979.4L806 998.8L807 989.4L808 985.6L809 993L810 995L811 991.2L812 980.8L813 976.3L814 976.8L815 992.4L816 989.7L817 991L818 977.3L819 1004.4L820 972.4L821 989.5L822 993.6L823 982.2L824 975.9L825 980.9L826 973.8L827 980.8L828 970.8L829 970.2L830 981.7L831 968.5L832 980L833 981.8L834 994.2L835 988.5L836 979.5L837 1001.2L838 981.7L839 985.4L840 987.4L841 1016L842 994.2L843 988.2L844 1001.7L845 990.8L846 1015.7L847 981.4L848 993.2L849 978.4L850 1007.1L851 981.7L852 990.6L853 980.6L854 996.6L855 992.1L856 965.2L857 992.8L858 991L859 986.2L860 994.8L861 973.8L862 969.4L863 992.1L864 1003.5L865 974.2" stroke="#D95319"/>
<path d="M97.8 766L100.8 767L103.8 768L106.8 769L109.8 770L112.8 771L115.8 772L118.8 773L121.8 773.9L124.8 774.9L127.8 775.9L130.8 776.9L133.8 777.9L136.8 778.9L139.8 779.8L142.8 780.8L145.8 781.8L148.8 782.8L151.8 783.7L154.8 784.7L157.8 785.7L160.8 786.7L163.8 787.6L166.8 788.6L169.8 789.6L172.8 790.5L175.8 791.5L178.8 792.5L181.8 793.4L184.8 794.4L187.8 795.4L190.8 796.3L193.8 797.3L196.8 798.2L199.8 799.2L202.8 800.2L205.8 801.1L208.8 802L211.8 803L214.8 803.9L217.8 804.9L220.8 805.8L223.8 806.7L226.8 807.6L229.8 808.6L232.8 809.5L235.8 810.4L238.8 811.3L241.8 812.3L244.8 813.2L246.8 813.8L248.8 814.5L250.8 815L252.8 815.7L254.8 816.3L256.8 816.9L258.8 817.6L260.8 818.2L262.8 818.8L264.8 819.5L266.8 820.1L268.8 820.6L270.8 821.3L272.8 821.9L274.8 822.6L276.8 823.2L278.8 823.9L280.8 824.5L282.8 825L284.8 825.7L286.8 826.4L288.8 827.2L290.8 827.6L292.8 828.2L294.8 828.9L296.8 829.7L298.8 830.1L300.8 830.4L302.8 831.6L304.8 832.1L306.8 832.8L308.8 834.3L310.8 834.1L312.8 835L314.8 835.1L316.8 836.2L318.8 837L320.8 837.5L322.8 838.2L324.8 839.2L326.8 839.8L328.8 841.1L330.8 841.4L332.8 841.7L334.8 842L336.8 843.1L338.8 844L340.8 844.3L342.8 845L344.8 845.3L346.8 846.2L348.8 847.4L350.8 847.9L352.8 848.6L354.8 849.3L356.8 850.1L358.8 851.5L360.8 853.2L362.8 853L364.8 854.7L366.8 853.9L368.8 854.7L370.2 856.6L371.6 855.4L373 855.9L374.4 856.9L375.8 856.3L377.2 856.6L378.6 859.4L380 858L381.4 858.9L382.8 859.3L384.2 859.4L385.6 861.2L387 861.6L388.4 862.2L389.8 862.6L391.2 862.4L392.6 864.3L394 864.4L395.4 863.3L396.8 864.4L398.2 864.5L399.6 867.4L401 866.5L402.4 866.5L403.8 866L405.2 866.9L406.6 865.6L408 866.9L409.4 867.2L410.8 867.6L412.2 867.4L413.6 869.1L415 867.7L416.4 868.8L417.8 869.7L419.2 870.4L420.6 870.4L422 870.5L423.4 871.1L424.8 872.4L426.2 872.3L427.6 873.5L429 872.3L430.4 874L431.8 877.4L433.2 872.2L434.6 873.7L436 875.8L437.4 874.4L438.8 876.2L440.2 872.6L441.6 875.7L443 880.2L444.4 877.2L445.8 879.2L447.2 875.7L448.6 880.7L450 883.3L451.4 879.1L452.8 880.5L454.2 881.3L455.6 885.4L457 880.7L458.4 879L459.8 886L461.2 880L462.6 883.2L464 878.1L465.4 881.4L466.8 882.9L468.2 881.1L469.6 882.7L471 885.6L472 883.5L473 886.2L474 889.4L475 881.9L476 886.5L477 887.4L478 885.6L479 890.1L480 889.9L481 888.1L482 888.5L483 887.5L484 886L485 889.5L486 887.7L487 887.8L488 891.8L489 888.8L490 891.7L491 887.3L492 888.6L493 889.4L494 892.9L495 889.4L496 892.1L497 889.4L498 891.9L499 894.5L500 890.9L501 891.5L502 894.6L503 890.4L504 893.4L505 893.4L506 892.4L507 895L508 894.5L509 894.1L510 890.8L511 891.3L512 895.9L513 892.3L514 896.5L515 895.8L516 894.8L517 895.9L518 890.7L519 895.3L520 899.3L521 893L522 897.8L523 898.3L524 907.2L525 896.4L526 897.3L527 897.6L528 897.2L529 895.5L530 899.8L531 897.8L532 902.9L533 902.3L534 898.9L535 900.7L536 906L537 900.8L538 902.4L539 905L540 901.9L541 905.1L542 909.7L543 908.5L544 900.1L545 909.5L546 903.3L547 902.1L548 902L549 908.2L550 905.6L551 904.6L552 903.1L553 907.8L554 909.9L555 903.4L556 903.7L557 906.6L558 910.6L559 907.8L560 908.8L561 906.5L562 913.1L563 907.5L564 908.1L565 911.8L566 907.4L567 908.5L568 910.8L569 908.5L570 915.5L571 910.2L572 908.8L573 909.3L574 907L575 915.3L576 916.8L577 910.4L578 910.3L579 905.9L580 911.8L581 918.5L582 913.4L583 920.5L584 924L585 909.6L586 917.2L587 915.9L588 916.3L589 912.1L590 917.3L591 914.6L592 923.8L593 925.9L594 915L595 914.8L596 918L597 919L598 919.4L599 923.8L600 916.2L601 920.4L602 921.7L603 922.4L604 919.9L605 921.6L606 920.7L607 929.3L608 922L609 916L610 926.7L611 924.7L612 920.2L613 919.3L614 920.1L615 930.5L616 920.6L617 929.2L618 928.4L619 923.2L620 928.1L621 924.5L622 916L623 925.9L624 926L625 933.4L626 931.7L627 933.5L628 930.3L629 933.2L630 931L631 929L632 934L633 937L634 937.3L635 928.2L636 930.3L637 926.2L638 926L639 932.3L640 927.4L641 939L642 921L643 926.8L644 934.6L645 941.6L646 934L647 947.3L648 940.6L649 931.7L650 934.2L651 937.2L652 929.6L653 940.8L654 933.2L655 938.1L656 940.9L657 934.1L658 943.8L659 929.4L660 943.8L661 930.9L662 948.1L663 937.5L664 947.8L665 948.4L666 938.7L667 936.6L668 949.3L669 934.9L670 946.6L671 940.5L672 939L673 937.6L674 953.3L675 932.3L676 938.4L677 944.8L678 949.4L679 954.3L680 951.9L681 939.1L682 944.8L683 950.7L684 946.3L685 933.5L686 945L687 947.2L688 935.9L689 942.2L690 946L691 952.3L692 960.7L693 958.4L694 953.2L695 951L696 946.5L697 944.7L698 945.9L699 945.2L700 954L701 962.8L702 949.3L703 952.9L704 950.6L705 948.1L706 956.9L707 956.7L708 948.9L709 947.5L710 953.7L711 944.7L712 949.5L713 956.3L714 947.7L715 936.1L716 955.7L717 942.7L718 941.4L719 939.9L720 956.7L721 934.5L722 947.5L723 951L724 952L725 947.2L726 952.7L727 956L728 945.4L729 960.9L730 962.8L731 945.8L732 945.6L733 942.2L734 960.6L735 942.5L736 947.9L737 939.5L738 966.6L739 953.7L740 959.3L741 973.7L742 965.5L743 949.4L744 962.4L745 964.3L746 949.3L747 948.1L748 948.4L749 965.4L750 958.5L751 950.3L752 966.8L753 969L754 955.1L755 950.2L756 977.5L757 995.4L758 984.4L759 980.6L760 971.4L761 964.6L762 971.3L763 977.4L764 968.3L765 980.2L766 969.8L767 975.9L768 945.3L769 960.2L770 975.4L771 976.3L772 969.4L773 982.1L774 971.6L775 971.5L776 956L777 968.9L778 974.1L779 982L780 982.1L781 971.2L782 973.5L783 961.8L784 978.4L785 962.4L786 969.4L787 971.8L788 994.2L789 986.2L790 965.6L791 960.1L792 970L793 964.9L794 975.9L795 975.7L796 979.3L797 964L798 969.5L799 974.7L800 975.7L801 967.5L802 969.2L803 980.6L804 956.8L805 969.8L806 972.6L807 960.7L808 965.3L809 975.8L810 971L811 987.9L812 983.2L813 1001L814 965.4L815 996.7L816 969.6L817 984.1L818 985.3L819 975.8L820 970.1L821 965.5L822 954L823 964.4L824 958.4L825 970.9L826 956.6L827 959.8L828 965L829 960.1L830 959.4L831 957.4L832 956.7L833 967.6L834 972.5L835 960.1L836 986.6L837 975L838 954.6L839 996.8L840 973L841 957.8L842 980.6L843 939.7L844 991L845 951.4L846 952L847 959.4L848 971.3L849 966.4L850 978.6L851 959.7L852 976.2L853 964L854 950.3L855 969.6L856 960.6L857 955.2L858 971.7L859 947L860 953.9L861 972.9L862 955.6L863 962.3L864 959.9L865 951.6" stroke="#EDB120"/>
<path d="M97.8 761.6L100.8 762.6L103.8 763.6L106.8 764.6L109.8 765.6L112.8 766.6L115.8 767.6L118.8 768.6L121.8 769.6L124.8 770.5L127.8 771.5L130.8 772.5L133.8 773.5L136.8 774.5L139.8 775.5L142.8 776.4L145.8 777.4L148.8 778.4L151.8 779.4L154.8 780.3L157.8 781.3L160.8 782.3L163.8 783.3L166.8 784.2L169.8 785.2L172.8 786.2L175.8 787.1L178.8 788.1L181.8 789.1L184.8 790L187.8 791L190.8 791.9L193.8 792.9L196.8 793.9L199.8 794.8L202.8 795.8L205.8 796.7L208.8 797.7L211.8 798.6L214.8 799.5L217.8 800.5L220.8 801.4L223.8 802.3L226.8 803.3L229.8 804.2L232.8 805.1L235.8 806L238.8 807L241.8 807.9L244.8 808.8L246.8 809.4L248.8 810L250.8 810.6L252.8 811.3L254.8 811.9L256.8 812.6L258.8 813.2L260.8 813.7L262.8 814.4L264.8 815L266.8 815.6L268.8 816.3L270.8 816.9L272.8 817.5L274.8 818.1L276.8 818.7L278.8 819.3L280.8 820L282.8 820.8L284.8 821.3L286.8 822.1L288.8 822.4L290.8 823.6L292.8 823.9L294.8 824.1L296.8 825.2L298.8 826L300.8 826.4L302.8 826.7L304.8 827.7L306.8 828.2L308.8 828.9L310.8 829.7L312.8 829.5L314.8 830.9L316.8 831.8L318.8 832.5L320.8 832.9L322.8 833.5L324.8 834L326.8 834.9L328.8 836.2L330.8 836.1L332.8 837.2L334.8 837.9L336.8 839.2L338.8 839.6L340.8 840.4L342.8 840.8L344.8 842.3L346.8 842.2L348.8 842.9L350.8 844.4L352.8 844.8L354.8 845.6L356.8 845.2L358.8 848L360.8 847.1L362.8 848.8L364.8 848.6L366.8 848.4L368.8 850.1L370.2 850.1L371.6 851.4L373 850.1L374.4 851.4L375.8 851.8L377.2 854.3L378.6 854.5L380 853.1L381.4 854.3L382.8 854.6L384.2 854.4L385.6 856.2L387 854.9L388.4 856L389.8 856.2L391.2 857.8L392.6 857.2L394 858.8L395.4 857.7L396.8 857.9L398.2 858.4L399.6 859.2L401 859.6L402.4 864L403.8 860.8L405.2 862.6L406.6 862.8L408 863.7L409.4 865.5L410.8 864.5L412.2 863.2L413.6 862.5L415 865L416.4 865.7L417.8 863.3L419.2 866.7L420.6 863.7L422 866.6L423.4 868.5L424.8 866.5L426.2 866L427.6 870.6L429 866.6L430.4 869.2L431.8 867L433.2 869.8L434.6 872.2L436 869.1L437.4 868.9L438.8 867.6L440.2 868.4L441.6 870L443 871.5L444.4 872.1L445.8 871.8L447.2 873.1L448.6 872.5L450 877.6L451.4 872.8L452.8 873.6L454.2 869.8L455.6 872.8L457 875.1L458.4 873.3L459.8 877L461.2 876L462.6 879.2L464 873.2L465.4 875.1L466.8 879.2L468.2 877.3L469.6 876.2L471 877.5L472 878.1L473 881.1L474 880.9L475 879.5L476 878.3L477 882.1L478 883L479 878.4L480 882.9L481 878.8L482 880.6L483 879.7L484 878.4L485 880.7L486 880.8L487 884.7L488 884.1L489 880.9L490 879L491 879.2L492 877.4L493 881.5L494 882L495 880.8L496 883.1L497 883.7L498 886.5L499 881.9L500 887L501 883.5L502 888.8L503 883.2L504 888.6L505 884.5L506 890.8L507 887.9L508 884.2L509 889L510 886.7L511 888.1L512 893.3L513 886.1L514 886.1L515 890.7L516 886.8L517 891.1L518 892.4L519 890L520 892.4L521 885.3L522 895.3L523 889.2L524 889.1L525 898L526 898.2L527 892.3L528 895.8L529 893.9L530 892.2L531 896.1L532 898.4L533 904L534 895.4L535 899.6L536 896.3L537 896.7L538 901.6L539 892.3L540 893.6L541 894L542 900.3L543 898.1L544 899L545 898.9L546 901.6L547 896.6L548 897.1L549 896.7L550 899.7L551 895L552 898.7L553 909.7L554 903L555 901.4L556 898.8L557 902.9L558 903.1L559 905.2L560 901.7L561 906.3L562 908L563 909.4L564 905.5L565 909.1L566 912.9L567 903.9L568 907.6L569 903.1L570 902.8L571 900.4L572 901.4L573 907.6L574 906.5L575 911.4L576 901.2L577 905.1L578 902.3L579 908.5L580 916.4L581 904.1L582 909.7L583 910.3L584 911L585 909.2L586 909.6L587 918.2L588 908.1L589 914.4L590 914.7L591 907.5L592 910.8L593 915.8L594 922.7L595 913.9L596 912.7L597 914.9L598 920.4L599 918.4L600 920.8L601 914.5L602 912.7L603 912.3L604 919.9L605 916.2L606 915.8L607 921.2L608 920.3L609 912.5L610 920.2L611 917.7L612 922.8L613 919.8L614 928.1L615 919.5L616 914.8L617 911.4L618 915.5L619 918L620 920.7L621 923.7L622 921.1L623 917.5L624 924.1L625 916.5L626 925.9L627 930.5L628 926.8L629 930.8L630 929.7L631 918L632 924.5L633 923L634 919.2L635 918.7L636 926.9L637 918.2L638 922.5L639 924.6L640 923.4L641 934.5L642 931.8L643 929L644 926.9L645 933.3L646 933.1L647 928.9L648 927.5L649 930.9L650 928.9L651 937.4L652 936.4L653 932.3L654 934.8L655 935.3L656 923.7L657 933.2L658 938.9L659 931.5L660 926L661 935.6L662 930.4L663 939.8L664 940.6L665 942.8L666 940.2L667 930.9L668 948.9L669 933L670 948.2L671 942.2L672 935.3L673 935.4L674 936.5L675 949.4L676 936.4L677 946.7L678 926.8L679 943.9L680 942.4L681 952.3L682 947.5L683 953.3L684 937.9L685 944.9L686 939L687 946.4L688 944.3L689 932.8L690 948L691 955.2L692 940L693 952.6L694 948.5L695 940.4L696 952.9L697 941.6L698 952.4L699 937.5L700 937.8L701 948.5L702 945.1L703 949.7L704 942.3L705 937.8L706 959.2L707 942.9L708 960.5L709 956.3L710 963.6L711 934L712 947.3L713 946.8L714 955.9L715 944.4L716 971.2L717 952.9L718 938L719 956.1L720 952L721 946.7L722 957.7L723 949.6L724 943L725 949.3L726 949.8L727 958.2L728 955.1L729 958.9L730 949.7L731 955.3L732 962.8L733 983.8L734 954.7L735 954.3L736 969.1L737 979.5L738 970L739 950L740 966.6L741 960.5L742 955.3L743 949.4L744 961.3L745 964L746 970L747 951.8L748 955.7L749 963.9L750 976.5L751 969.4L752 956.1L753 968.7L754 953.4L755 957.6L756 957.7L757 953.9L758 954.7L759 968.6L760 964.2L761 943.3L762 979.6L763 974L764 961.4L765 972.7L766 979.6L767 984.4L768 964.7L769 960.8L770 958.2L771 970.2L772 961.9L773 981.7L774 967.8L775 975.6L776 966.2L777 962.2L778 961.4L779 984.1L780 964.8L781 982.8L782 990.4L783 982.1L784 997.2L785 981.4L786 979.2L787 984.1L788 977.1L789 984.4L790 979.8L791 994.7L792 978L793 987.8L794 983.2L795 978.6L796 974.8L797 993.6L798 991.7L799 976.9L800 969.2L801 970.4L802 966.8L803 964.5L804 972.2L805 977L806 988.1L807 986.7L808 981.1L809 973.6L810 973.9L811 976.3L812 979.1L813 973.1L814 977.6L815 977.5L816 977.8L817 987L818 993.5L819 979.2L820 981.3L821 988.7L822 992.3L823 969.3L824 997.4L825 991.1L826 985.5L827 999.5L828 985.2L829 970.8L830 978.5L831 981.1L832 981.2L833 984.6L834 976.3L835 984.9L836 986.7L837 980.6L838 973.6L839 978.8L840 976.2L841 1004.4L842 972L843 962.7L844 971.3L845 985.2L846 989.3L847 975.5L848 987.2L849 969.5L850 982.4L851 970.9L852 970.9L853 1008.3L854 985.2L855 995.5L856 1002.3L857 992.5L858 987.7L859 977L860 1003.7L861 979.1L862 971.4L863 983.3L864 982.8L865 986.3" stroke="#7E2F8E"/>
<path d="M97.8 765.4L100.8 766.4L103.8 767.4L106.8 768.4L109.8 769.4L112.8 770.4L115.8 771.3L118.8 772.3L121.8 773.3L124.8 774.3L127.8 775.3L130.8 776.3L133.8 777.3L136.8 778.2L139.8 779.2L142.8 780.2L145.8 781.2L148.8 782.1L151.8 783.1L154.8 784.1L157.8 785.1L160.8 786L163.8 787L166.8 788L169.8 788.9L172.8 789.9L175.8 790.9L178.8 791.8L181.8 792.8L184.8 793.8L187.8 794.7L190.8 795.7L193.8 796.7L196.8 797.6L199.8 798.6L202.8 799.5L205.8 800.5L208.8 801.4L211.8 802.4L214.8 803.3L217.8 804.2L220.8 805.2L223.8 806.1L226.8 807L229.8 807.9L232.8 808.9L235.8 809.8L238.8 810.7L241.8 811.6L244.8 812.6L246.8 813.2L248.8 813.8L250.8 814.4L252.8 815.1L254.8 815.7L256.8 816.3L258.8 816.9L260.8 817.6L262.8 818.2L264.8 818.7L266.8 819.4L268.8 820.1L270.8 820.6L272.8 821.3L274.8 821.8L276.8 822.5L278.8 823.3L280.8 823.9L282.8 824.5L284.8 825.4L286.8 826L288.8 826.3L290.8 827.4L292.8 827.5L294.8 828.2L296.8 828.9L298.8 829.4L300.8 830.1L302.8 830.5L304.8 831.5L306.8 832.1L308.8 832.8L310.8 833L312.8 833.9L314.8 835.2L316.8 835.7L318.8 836.5L320.8 836.9L322.8 837.5L324.8 837.6L326.8 839.7L328.8 839.4L330.8 840.3L332.8 841.6L334.8 842.1L336.8 843L338.8 843.4L340.8 843.7L342.8 845.7L344.8 845L346.8 846.5L348.8 846.4L350.8 847.7L352.8 848L354.8 849.1L356.8 849.5L358.8 850.7L360.8 851.9L362.8 851.6L364.8 852.2L366.8 852L368.8 855.6L370.2 854.8L371.6 854.5L373 856.7L374.4 856.2L375.8 855L377.2 855.8L378.6 858L380 856.9L381.4 857.7L382.8 858.7L384.2 859.6L385.6 860.2L387 861.6L388.4 861.5L389.8 860.7L391.2 861.5L392.6 860.5L394 862.8L395.4 865.6L396.8 863.9L398.2 863.7L399.6 864.1L401 864.8L402.4 866.3L403.8 864.4L405.2 867L406.6 865.8L408 867.1L409.4 868.4L410.8 865.7L412.2 870.9L413.6 869.2L415 868.2L416.4 869.9L417.8 869.3L419.2 870.8L420.6 871.6L422 868.6L423.4 871.6L424.8 871.8L426.2 873.5L427.6 873.4L429 871.9L430.4 872.5L431.8 873.7L433.2 875.2L434.6 873.4L436 877.6L437.4 875.6L438.8 875.9L440.2 877.6L441.6 876.4L443 878.4L444.4 879.3L445.8 875.7L447.2 877.7L448.6 877.3L450 879.4L451.4 878.2L452.8 878.7L454.2 878.2L455.6 876.7L457 881.3L458.4 880.8L459.8 881.8L461.2 889.5L462.6 885.3L464 882.3L465.4 881.5L466.8 884.2L468.2 881.4L469.6 881.7L471 885.5L472 882.5L473 882.3L474 884.7L475 887.8L476 883L477 886.1L478 886.8L479 885.9L480 887.6L481 884.5L482 885.2L483 884.4L484 885.7L485 889L486 888L487 886.5L488 889.7L489 883.6L490 890.2L491 891.4L492 887.9L493 888.8L494 890.5L495 891.1L496 889.6L497 888.7L498 888.8L499 891.1L500 889.4L501 888.5L502 888.6L503 898.6L504 892.7L505 892.6L506 891.3L507 890.7L508 889.9L509 891.4L510 894L511 894.5L512 891.4L513 897.4L514 895.2L515 892.3L516 894.9L517 901.5L518 894.8L519 897.1L520 896.6L521 894.1L522 895.6L523 897.5L524 894.7L525 896L526 897.3L527 897.4L528 898.1L529 900.1L530 900.6L531 899.1L532 902L533 903.1L534 896.4L535 901L536 900.9L537 901.8L538 901.7L539 902L540 902.1L541 905.3L542 900.4L543 905.3L544 900.4L545 909.6L546 906.6L547 900.2L548 903.2L549 905L550 901.8L551 907L552 903.8L553 912.7L554 907.3L555 908.7L556 905.3L557 904.5L558 910.1L559 902.5L560 909.3L561 915L562 916.7L563 903.8L564 909L565 911.4L566 911.9L567 913.3L568 905.2L569 909.7L570 904.3L571 911L572 920.2L573 909L574 913.5L575 913.1L576 907.5L577 913.7L578 909.3L579 913.3L580 916.7L581 912.1L582 916.2L583 909.6L584 910.2L585 913L586 911.2L587 911.6L588 915.1L589 911.6L590 916.4L591 914.1L592 921L593 917.1L594 916.6L595 922.2L596 921.3L597 922.4L598 918L599 924.2L600 919.5L601 915.8L602 920L603 928.6L604 920.4L605 916.8L606 921.8L607 916.2L608 917.9L609 918.7L610 921.8L611 923.6L612 922.8L613 921.5L614 919.7L615 920.1L616 923.3L617 921.9L618 921.2L619 931.8L620 928.6L621 930L622 928L623 928.9L624 929.1L625 932.4L626 925.2L627 927.1L628 937.4L629 929.1L630 935.9L631 923.3L632 933.5L633 933.3L634 930.5L635 931.5L636 930.4L637 923.1L638 928.9L639 926.4L640 925.5L641 936.5L642 923.5L643 927.9L644 926.2L645 934.8L646 925.1L647 926.2L648 930.8L649 916.5L650 924.4L651 928.8L652 927L653 924L654 923.3L655 926.3L656 923.8L657 923.2L658 939.2L659 935.7L660 940.1L661 935.3L662 930.1L663 935.1L664 945.6L665 940.4L666 932.1L667 939.4L668 935.2L669 932.3L670 946.6L671 931.3L672 935.4L673 936.1L674 947.3L675 946.5L676 945.1L677 939L678 939.4L679 938.9L680 930L681 933.3L682 946.2L683 945.9L684 931.2L685 942.6L686 931.6L687 929.7L688 942.6L689 940.8L690 938.8L691 946.4L692 947.6L693 943.4L694 935.3L695 944L696 942.3L697 944.6L698 952.2L699 932.7L700 961.6L701 949.2L702 941.7L703 957.9L704 943.6L705 939.9L706 955.1L707 946.5L708 957.3L709 945.3L710 949.1L711 950L712 944.4L713 951.8L714 946.5L715 950.9L716 964.4L717 950.2L718 946.6L719 961L720 937.2L721 944.8L722 942.2L723 952.6L724 943.7L725 942.1L726 947.5L727 944.5L728 965.6L729 936.8L730 958.5L731 969.9L732 959.4L733 959.1L734 947.5L735 960.5L736 949.3L737 960.9L738 934.6L739 947.1L740 935.8L741 960.3L742 943.7L743 957.2L744 941.5L745 939.6L746 960.8L747 955.8L748 956L749 959.2L750 950.7L751 953.4L752 959.4L753 944.4L754 942.3L755 962.9L756 956L757 950.6L758 953.8L759 959.3L760 945.2L761 945.8L762 948.6L763 958.3L764 940.8L765 944.2L766 963.8L767 959.9L768 946.7L769 963.2L770 948.3L771 949L772 956.1L773 951.1L774 967.2L775 957.9L776 976.4L777 937.4L778 946.5L779 951.1L780 960.8L781 955.9L782 954L783 955.8L784 955.8L785 972.7L786 958.5L787 968.7L788 977.8L789 980.1L790 966.6L791 963.5L792 988.4L793 957.7L794 957.9L795 971.4L796 968.6L797 960.6L798 948.4L799 958.9L800 965.9L801 951.1L802 978.8L803 957.9L804 952.8L805 963.2L806 961.3L807 964.7L808 962.8L809 967.4L810 977.5L811 970.9L812 970L813 960.1L814 958.8L815 970L816 981.6L817 979.6L818 970.7L819 953.3L820 959.4L821 961.3L822 969.8L823 956.4L824 964.9L825 970.8L826 970.8L827 956.9L828 971.8L829 954.2L830 957.4L831 967.7L832 961.1L833 970.3L834 978L835 971.3L836 977.6L837 962.9L838 967.8L839 964.5L840 963.8L841 1006.5L842 969.8L843 992.4L844 971.2L845 982.6L846 972.5L847 962.3L848 993.5L849 973.4L850 976.3L851 996.7L852 970.2L853 975.1L854 979.8L855 980L856 942.1L857 971.3L858 985L859 974.1L860 967.5L861 968.1L862 965.5L863 976.9L864 961.4L865 972.5" stroke="#77AC30"/>
</g>
<path d="M97.8 1173v-8M97.8 761.4v8M160.2 1173v-5M160.2 761.4v5M196.7 1173v-5M196.7 761.4v5M222.5 1173v-5M222.5 761.4v5M242.6 1173v-5M242.6 761.4v5M259 1173v-5M259 761.4v5M272.9 1173v-5M272.9 761.4v5M284.9 1173v-5M284.9 761.4v5M295.5 1173v-5M295.5 761.4v5M305 1173v-8M305 761.4v8M367.4 1173v-5M367.4 761.4v5M403.8 1173v-5M403.8 761.4v5M429.7 1173v-5M429.7 761.4v5M449.8 1173v-5M449.8 761.4v5M466.2 1173v-5M466.2 761.4v5M480.1 1173v-5M480.1 761.4v5M492.1 1173v-5M492.1 761.4v5M502.7 1173v-5M502.7 761.4v5M512.2 1173v-8M512.2 761.4v8M574.6 1173v-5M574.6 761.4v5M611 1173v-5M611 761.4v5M636.9 1173v-5M636.9 761.4v5M657 1173v-5M657 761.4v5M673.4 1173v-5M673.4 761.4v5M687.3 1173v-5M687.3 761.4v5M699.3 1173v-5M699.3 761.4v5M709.9 1173v-5M709.9 761.4v5M719.4 1173v-8M719.4 761.4v8M781.7 1173v-5M781.7 761.4v5M818.2 1173v-5M818.2 761.4v5M844.1 1173v-5M844.1 761.4v5M864.2 1173v-5M864.2 761.4v5M97.8 1173h8M864.2 1173h-8M97.8 1135.3h5M864.2 1135.3h-5M97.8 1113.2h5M864.2 1113.2h-5M97.8 1097.6h5M864.2 1097.6h-5M97.8 1085.4h5M864.2 1085.4h-5M97.8 1075.5h5M864.2 1075.5h-5M97.8 1067.1h5M864.2 1067.1h-5M97.8 1059.8h5M864.2 1059.8h-5M97.8 1053.4h5M864.2 1053.4h-5M97.8 1047.7h8M864.2 1047.7h-8M97.8 1010h5M864.2 1010h-5M97.8 987.9h5M864.2 987.9h-5M97.8 972.3h5M864.2 972.3h-5M97.8 960.1h5M864.2 960.1h-5M97.8 950.2h5M864.2 950.2h-5M97.8 941.8h5M864.2 941.8h-5M97.8 934.5h5M864.2 934.5h-5M97.8 928.1h5M864.2 928.1h-5M97.8 922.4h8M864.2 922.4h-8M97.8 884.7h5M864.2 884.7h-5M97.8 862.6h5M864.2 862.6h-5M97.8 847h5M864.2 847h-5M97.8 834.8h5M864.2 834.8h-5M97.8 824.9h5M864.2 824.9h-5M97.8 816.5h5M864.2 816.5h-5M97.8 809.2h5M864.2 809.2h-5M97.8 802.8h5M864.2 802.8h-5M97.8 797.1h8M864.2 797.1h-8" stroke="#000" stroke-width="1.9" fill="none"/>
<rect x="97.8" y="761.4" width="766.4" height="411.6" fill="none" stroke="#000" stroke-width="2.1"/>
<text x="97.8" y="1205.7" font-size="24" text-anchor="middle">10<tspan font-size="17" dy="-10">−1</tspan></text>
<text x="305" y="1205.7" font-size="24" text-anchor="middle">10<tspan font-size="17" dy="-10">0</tspan></text>
<text x="512.2" y="1205.7" font-size="24" text-anchor="middle">10<tspan font-size="17" dy="-10">1</tspan></text>
<text x="719.4" y="1205.7" font-size="24" text-anchor="middle">10<tspan font-size="17" dy="-10">2</tspan></text>
<text x="86.3" y="1182.5" font-size="24" text-anchor="end">10<tspan font-size="17" dy="-10">−2</tspan></text>
<text x="86.3" y="1057.2" font-size="24" text-anchor="end">10<tspan font-size="17" dy="-10">−1</tspan></text>
<text x="86.3" y="931.9" font-size="24" text-anchor="end">10<tspan font-size="17" dy="-10">0</tspan></text>
<text x="86.3" y="806.6" font-size="24" text-anchor="end">10<tspan font-size="17" dy="-10">1</tspan></text>
<text x="481" y="752" font-size="25" text-anchor="middle">Allan variation curve -LTC6656</text>
<text x="481" y="1243.7" font-size="25" text-anchor="middle">Time (s)</text>
<text transform="translate(21.8 967.2) rotate(-90)" font-size="25" text-anchor="middle">Allan variation (°/h)</text>
<text x="615.5" y="816.2" font-size="25">Mean = 0.308°/h</text>
<text x="615.5" y="851.9" font-size="25">Std = 0.0281°/h</text>
<rect x="182.2" y="1072.6" width="586.6" height="28.8" fill="#fff" stroke="#a0a0a0" stroke-width="1.2"/>
<path d="M185.2 1087h28" stroke="#0072BD" stroke-width="1.7"/>
<text x="222.2" y="1092.8" font-size="16.4">Sample1</text>
<path d="M302.5 1087h28" stroke="#D95319" stroke-width="1.7"/>
<text x="339.5" y="1092.8" font-size="16.4">Sample2</text>
<path d="M419.8 1087h28" stroke="#EDB120" stroke-width="1.7"/>
<text x="456.8" y="1092.8" font-size="16.4">Sample3</text>
<path d="M537.1 1087h28" stroke="#7E2F8E" stroke-width="1.7"/>
<text x="574.1" y="1092.8" font-size="16.4">Sample4</text>
<path d="M654.4 1087h28" stroke="#77AC30" stroke-width="1.7"/>
<text x="691.4" y="1092.8" font-size="16.4">Sample5</text>
<text x="-1" y="752" font-size="42">d</text>
<clipPath id="clipe"><rect x="1018.1" y="749.3" width="768.3" height="423.8"/></clipPath>
<path d="M1080.6 749.3V1173.1M1117.2 749.3V1173.1M1143.2 749.3V1173.1M1163.3 749.3V1173.1M1179.7 749.3V1173.1M1193.6 749.3V1173.1M1205.7 749.3V1173.1M1216.3 749.3V1173.1M1225.8 749.3V1173.1M1288.3 749.3V1173.1M1324.9 749.3V1173.1M1350.9 749.3V1173.1M1371 749.3V1173.1M1387.4 749.3V1173.1M1401.3 749.3V1173.1M1413.4 749.3V1173.1M1424 749.3V1173.1M1433.5 749.3V1173.1M1496 749.3V1173.1M1532.6 749.3V1173.1M1558.6 749.3V1173.1M1578.7 749.3V1173.1M1595.1 749.3V1173.1M1609 749.3V1173.1M1621.1 749.3V1173.1M1631.7 749.3V1173.1M1641.2 749.3V1173.1M1703.7 749.3V1173.1M1740.3 749.3V1173.1M1766.3 749.3V1173.1M1018.1 1132.9H1786.4M1018.1 1109.5H1786.4M1018.1 1092.8H1786.4M1018.1 1079.9H1786.4M1018.1 1069.3H1786.4M1018.1 1060.4H1786.4M1018.1 1052.6H1786.4M1018.1 1045.8H1786.4M1018.1 1039.7H1786.4M1018.1 999.5H1786.4M1018.1 976.1H1786.4M1018.1 959.4H1786.4M1018.1 946.5H1786.4M1018.1 935.9H1786.4M1018.1 927H1786.4M1018.1 919.2H1786.4M1018.1 912.4H1786.4M1018.1 906.3H1786.4M1018.1 866.1H1786.4M1018.1 842.7H1786.4M1018.1 826H1786.4M1018.1 813.1H1786.4M1018.1 802.5H1786.4M1018.1 793.6H1786.4M1018.1 785.8H1786.4M1018.1 779H1786.4M1018.1 772.9H1786.4" stroke="#c4c4c4" stroke-width="1.1" stroke-dasharray="5 2.6" fill="none"/>
<g clip-path="url(#clipe)" fill="none" stroke-width="1.9" stroke-linejoin="round">
<path d="M1018.1 798.1L1021.1 799.4L1024.1 800.7L1027.1 802L1030.1 803.2L1033.1 804.5L1036.1 805.8L1039.1 807.1L1042.1 808.3L1045.1 809.6L1048.1 810.9L1051.1 812.1L1054.1 813.4L1057.1 814.7L1060.1 815.9L1063.1 817.2L1066.1 818.5L1069.1 819.7L1072.1 821L1075.1 822.2L1078.1 823.5L1081.1 824.8L1084.1 826L1087.1 827.3L1090.1 828.5L1093.1 829.8L1096.1 831.1L1099.1 832.4L1102.1 833.6L1105.1 834.9L1108.1 836.2L1111.1 837.5L1114.1 838.7L1117.1 840L1120.1 841.3L1123.1 842.5L1126.1 843.8L1129.1 845L1132.1 846.3L1135.1 847.5L1138.1 848.7L1141.1 849.9L1144.1 851.1L1147.1 852.3L1150.1 853.5L1153.1 854.7L1156.1 855.8L1159.1 857L1162.1 858.1L1165.1 859.2L1167.1 859.9L1169.1 860.7L1171.1 861.4L1173.1 862.1L1175.1 862.9L1177.1 863.5L1179.1 864.2L1181.1 865L1183.1 865.6L1185.1 866.3L1187.1 866.9L1189.1 867.6L1191.1 868.3L1193.1 869.1L1195.1 869.9L1197.1 870.5L1199.1 871.1L1201.1 871.8L1203.1 872.5L1205.1 873L1207.1 873.7L1209.1 874.4L1211.1 875.1L1213.1 875.8L1215.1 876.6L1217.1 877.1L1219.1 878.3L1221.1 878.3L1223.1 879.6L1225.1 879.7L1227.1 880.6L1229.1 881L1231.1 882L1233.1 883L1235.1 883L1237.1 883.9L1239.1 884.7L1241.1 885.5L1243.1 885.9L1245.1 886.7L1247.1 887.6L1249.1 889.1L1251.1 889.2L1253.1 889.5L1255.1 889.5L1257.1 890.8L1259.1 891.7L1261.1 891.9L1263.1 893.1L1265.1 893.7L1267.1 894.2L1269.1 895.9L1271.1 895.1L1273.1 896L1275.1 897.2L1277.1 898.7L1279.1 898.4L1281.1 898.4L1283.1 900.4L1285.1 901.4L1287.1 900.9L1289.1 903.3L1290.5 904.4L1291.9 903.4L1293.3 904.1L1294.7 904.2L1296.1 904.8L1297.5 904.5L1298.9 905.5L1300.3 906.4L1301.7 906.8L1303.1 906.5L1304.5 906.7L1305.9 907.3L1307.3 907.8L1308.7 912.5L1310.1 910.1L1311.5 909.6L1312.9 909.5L1314.3 912.1L1315.7 909.3L1317.1 911L1318.5 912.6L1319.9 912.2L1321.3 913.2L1322.7 914.1L1324.1 912.9L1325.5 914.4L1326.9 916.3L1328.3 915.6L1329.7 915.5L1331.1 917.6L1332.5 915.2L1333.9 919L1335.3 915.6L1336.7 916.8L1338.1 919.4L1339.5 917.6L1340.9 916.3L1342.3 918.3L1343.7 920.6L1345.1 919.1L1346.5 917.3L1347.9 923.5L1349.3 920.6L1350.7 921.8L1352.1 922.2L1353.5 922.8L1354.9 922.5L1356.3 920.4L1357.7 921.4L1359.1 925.2L1360.5 921.7L1361.9 928L1363.3 925L1364.7 926.3L1366.1 924.8L1367.5 926.2L1368.9 925.1L1370.3 927.3L1371.7 925.9L1373.1 927.5L1374.5 924.8L1375.9 930.9L1377.3 927.5L1378.7 929.3L1380.1 930.2L1381.5 932.2L1382.9 930.3L1384.3 935.2L1385.7 935.5L1387.1 931.5L1388.5 937.9L1389.9 931.9L1391.3 935.9L1392.7 934.7L1393.7 934.8L1394.7 933.8L1395.7 935.5L1396.7 936.4L1397.7 936.6L1398.7 934.9L1399.7 935.2L1400.7 935.2L1401.7 937.2L1402.7 938.8L1403.7 943.6L1404.7 938.2L1405.7 938.3L1406.7 941.5L1407.7 938.9L1408.7 938.1L1409.7 940.9L1410.7 939L1411.7 940.7L1412.7 946.4L1413.7 942.4L1414.7 942L1415.7 939.5L1416.7 943.2L1417.7 941.9L1418.7 943.5L1419.7 940.8L1420.7 940.8L1421.7 939.1L1422.7 940.1L1423.7 942.4L1424.7 943L1425.7 944.1L1426.7 944.6L1427.7 941.3L1428.7 953L1429.7 945.7L1430.7 944.6L1431.7 942.9L1432.7 949.6L1433.7 945.3L1434.7 944L1435.7 947.6L1436.7 952.8L1437.7 948.2L1438.7 952L1439.7 947.4L1440.7 952.7L1441.7 945.5L1442.7 949.7L1443.7 952.7L1444.7 951.6L1445.7 953.8L1446.7 949.4L1447.7 947.1L1448.7 952.5L1449.7 949.7L1450.7 955.8L1451.7 951.6L1452.7 945.8L1453.7 957.2L1454.7 948.5L1455.7 948.6L1456.7 959.1L1457.7 957.7L1458.7 956.6L1459.7 951L1460.7 956.6L1461.7 956.8L1462.7 955L1463.7 956.7L1464.7 955.5L1465.7 956L1466.7 950.2L1467.7 956.2L1468.7 948.3L1469.7 955.6L1470.7 958.4L1471.7 953.9L1472.7 955.2L1473.7 965.6L1474.7 957.9L1475.7 965.2L1476.7 963.9L1477.7 958.5L1478.7 964.9L1479.7 960.4L1480.7 963.2L1481.7 955.4L1482.7 962.2L1483.7 966.9L1484.7 966.9L1485.7 966.7L1486.7 963.2L1487.7 964.6L1488.7 962L1489.7 965.2L1490.7 965.4L1491.7 964.7L1492.7 966.4L1493.7 965L1494.7 963.5L1495.7 963.6L1496.7 968.7L1497.7 974.2L1498.7 969.7L1499.7 964.9L1500.7 977.9L1501.7 968.8L1502.7 965.6L1503.7 970.6L1504.7 973.8L1505.7 962.3L1506.7 964.3L1507.7 971.4L1508.7 965.5L1509.7 965.6L1510.7 976L1511.7 959.3L1512.7 973.8L1513.7 970L1514.7 974.3L1515.7 968.7L1516.7 976.1L1517.7 969.7L1518.7 965.5L1519.7 969.3L1520.7 971.8L1521.7 964.4L1522.7 975.6L1523.7 966.7L1524.7 972L1525.7 969.2L1526.7 969.9L1527.7 969.7L1528.7 970.8L1529.7 975.4L1530.7 974.9L1531.7 970.2L1532.7 972.7L1533.7 978.5L1534.7 975.7L1535.7 975.8L1536.7 972.4L1537.7 972L1538.7 973.4L1539.7 978.2L1540.7 974.2L1541.7 981.8L1542.7 990.3L1543.7 972.8L1544.7 982.6L1545.7 978.7L1546.7 981.1L1547.7 971.5L1548.7 982.5L1549.7 973.9L1550.7 978.4L1551.7 983.2L1552.7 985.5L1553.7 973.5L1554.7 974.2L1555.7 972.9L1556.7 968.5L1557.7 977.2L1558.7 977.9L1559.7 980.8L1560.7 979.7L1561.7 982.6L1562.7 986.1L1563.7 969L1564.7 990.7L1565.7 975.1L1566.7 972.9L1567.7 973.7L1568.7 981.1L1569.7 976.3L1570.7 979.3L1571.7 984.8L1572.7 977.8L1573.7 980.2L1574.7 981.2L1575.7 973.7L1576.7 985.6L1577.7 975.8L1578.7 983L1579.7 976.1L1580.7 978L1581.7 977L1582.7 986.3L1583.7 985.6L1584.7 987L1585.7 980.1L1586.7 977L1587.7 975L1588.7 985.1L1589.7 980.2L1590.7 992.9L1591.7 997.3L1592.7 986.6L1593.7 985.6L1594.7 993.8L1595.7 996.5L1596.7 979.1L1597.7 988.9L1598.7 995.6L1599.7 966.3L1600.7 979.4L1601.7 983L1602.7 976.2L1603.7 987.2L1604.7 970.8L1605.7 994.2L1606.7 993L1607.7 983.8L1608.7 989.4L1609.7 974.1L1610.7 995.7L1611.7 987.2L1612.7 978.5L1613.7 976.1L1614.7 973.8L1615.7 978.4L1616.7 966.9L1617.7 985.3L1618.7 980.6L1619.7 976.7L1620.7 985.5L1621.7 986.3L1622.7 988.8L1623.7 991.3L1624.7 995.6L1625.7 990.6L1626.7 998.6L1627.7 982.7L1628.7 997.4L1629.7 969.6L1630.7 970.8L1631.7 974.3L1632.7 983.6L1633.7 987.8L1634.7 976.5L1635.7 984.3L1636.7 981.9L1637.7 990.6L1638.7 977.2L1639.7 991.2L1640.7 985.2L1641.7 1001.9L1642.7 994.2L1643.7 985.7L1644.7 992L1645.7 990.6L1646.7 980.1L1647.7 984.6L1648.7 975.7L1649.7 1003.9L1650.7 980.5L1651.7 981.4L1652.7 998.1L1653.7 996.3L1654.7 979.8L1655.7 994.4L1656.7 991.5L1657.7 982.9L1658.7 989.4L1659.7 982.6L1660.7 991.2L1661.7 980.6L1662.7 974.7L1663.7 979.2L1664.7 999.3L1665.7 980.3L1666.7 986.2L1667.7 995.9L1668.7 983.1L1669.7 1006L1670.7 983.6L1671.7 999.3L1672.7 985.4L1673.7 993.5L1674.7 1001.7L1675.7 990.8L1676.7 988.7L1677.7 986.5L1678.7 983.2L1679.7 994.7L1680.7 986.7L1681.7 986.7L1682.7 993.7L1683.7 998.9L1684.7 998.6L1685.7 987.3L1686.7 985L1687.7 992.4L1688.7 994.2L1689.7 978.8L1690.7 991.9L1691.7 980L1692.7 984L1693.7 989.2L1694.7 980.1L1695.7 984.6L1696.7 980.6L1697.7 980L1698.7 992.2L1699.7 987.7L1700.7 988.1L1701.7 995.8L1702.7 998L1703.7 987.1L1704.7 994.4L1705.7 992.1L1706.7 993.3L1707.7 992.5L1708.7 995.6L1709.7 991.5L1710.7 991L1711.7 997L1712.7 1000.5L1713.7 992.2L1714.7 998.6L1715.7 993.5L1716.7 985L1717.7 981.3L1718.7 989.9L1719.7 997.9L1720.7 991.1L1721.7 1005.6L1722.7 997.9L1723.7 987.9L1724.7 990L1725.7 999.4L1726.7 1001.4L1727.7 990.6L1728.7 993.7L1729.7 995.5L1730.7 990.1L1731.7 992.8L1732.7 996.8L1733.7 981.8L1734.7 984.9L1735.7 985.4L1736.7 988.7L1737.7 985.9L1738.7 995.8L1739.7 994.3L1740.7 1000.4L1741.7 996.1L1742.7 1001.1L1743.7 1000.7L1744.7 1004.8L1745.7 998.6L1746.7 988.5L1747.7 978.1L1748.7 993L1749.7 991.5L1750.7 985.9L1751.7 986.3L1752.7 992.3L1753.7 989.3L1754.7 995.6L1755.7 987.6L1756.7 981.8L1757.7 980L1758.7 988.9L1759.7 992.5L1760.7 992.3L1761.7 991.2L1762.7 992.3L1763.7 994.9L1764.7 988.3L1765.7 984.8L1766.7 990.6L1767.7 993.4L1768.7 986.7L1769.7 989.1L1770.7 990.1L1771.7 996.9L1772.7 1003.7L1773.7 1005.2L1774.7 1008L1775.7 1006.4L1776.7 1002.8L1777.7 1000.2L1778.7 993.3L1779.7 1002.9L1780.7 999.9L1781.7 1003.6L1782.7 996.5L1783.7 999.5L1784.7 1000.2L1785.7 993.1L1786.7 992.1" stroke="#0072BD"/>
<path d="M1018.1 798.1L1021.1 799.4L1024.1 800.7L1027.1 802L1030.1 803.2L1033.1 804.5L1036.1 805.8L1039.1 807.1L1042.1 808.3L1045.1 809.6L1048.1 810.9L1051.1 812.1L1054.1 813.4L1057.1 814.7L1060.1 815.9L1063.1 817.2L1066.1 818.5L1069.1 819.7L1072.1 821L1075.1 822.2L1078.1 823.5L1081.1 824.8L1084.1 826L1087.1 827.3L1090.1 828.5L1093.1 829.8L1096.1 831.1L1099.1 832.4L1102.1 833.6L1105.1 834.9L1108.1 836.2L1111.1 837.5L1114.1 838.7L1117.1 840L1120.1 841.3L1123.1 842.5L1126.1 843.8L1129.1 845L1132.1 846.3L1135.1 847.5L1138.1 848.7L1141.1 849.9L1144.1 851.1L1147.1 852.3L1150.1 853.5L1153.1 854.7L1156.1 855.8L1159.1 857L1162.1 858.1L1165.1 859.2L1167.1 859.9L1169.1 860.7L1171.1 861.4L1173.1 862.2L1175.1 862.8L1177.1 863.5L1179.1 864.3L1181.1 864.9L1183.1 865.7L1185.1 866.5L1187.1 867L1189.1 867.7L1191.1 868.3L1193.1 869.1L1195.1 869.6L1197.1 870.3L1199.1 871L1201.1 871.7L1203.1 872.4L1205.1 873.2L1207.1 873.7L1209.1 874.3L1211.1 875.1L1213.1 875.9L1215.1 876.9L1217.1 877.1L1219.1 877.8L1221.1 878.9L1223.1 879.2L1225.1 879.7L1227.1 880.7L1229.1 881.2L1231.1 881.9L1233.1 883.3L1235.1 883.5L1237.1 883.8L1239.1 884.2L1241.1 884.7L1243.1 886.6L1245.1 886.6L1247.1 887.1L1249.1 887.7L1251.1 888.3L1253.1 890.2L1255.1 890.7L1257.1 891.7L1259.1 891.5L1261.1 893.3L1263.1 892.6L1265.1 893.4L1267.1 894.3L1269.1 896.6L1271.1 896.3L1273.1 896L1275.1 898.2L1277.1 898.1L1279.1 898.7L1281.1 898.8L1283.1 899.9L1285.1 900.5L1287.1 901.7L1289.1 901.9L1290.5 902.5L1291.9 902.3L1293.3 903.6L1294.7 903.2L1296.1 906.1L1297.5 903.9L1298.9 905.3L1300.3 904.6L1301.7 905.7L1303.1 905.6L1304.5 905.7L1305.9 908.2L1307.3 908L1308.7 908.8L1310.1 908.8L1311.5 911.3L1312.9 910L1314.3 910.4L1315.7 911.4L1317.1 910.9L1318.5 913L1319.9 910.2L1321.3 911.8L1322.7 911L1324.1 914.9L1325.5 915.9L1326.9 914.6L1328.3 917.9L1329.7 915.8L1331.1 917.7L1332.5 917.7L1333.9 917.4L1335.3 917.9L1336.7 915.9L1338.1 917.6L1339.5 920.7L1340.9 917.7L1342.3 921.7L1343.7 919.7L1345.1 922.5L1346.5 922.2L1347.9 919.3L1349.3 922.5L1350.7 923.1L1352.1 923.3L1353.5 923.2L1354.9 920.8L1356.3 925.7L1357.7 926.3L1359.1 923.4L1360.5 927.9L1361.9 925.9L1363.3 923.9L1364.7 926.4L1366.1 928L1367.5 929L1368.9 929.8L1370.3 929.2L1371.7 927.6L1373.1 925.6L1374.5 926.1L1375.9 929.4L1377.3 930.3L1378.7 928.3L1380.1 935.2L1381.5 933.1L1382.9 933.9L1384.3 936.6L1385.7 936.8L1387.1 933.9L1388.5 939.4L1389.9 938.1L1391.3 938L1392.7 936.5L1393.7 940.3L1394.7 934.5L1395.7 937.6L1396.7 937.6L1397.7 938.1L1398.7 939L1399.7 939.9L1400.7 935L1401.7 937.2L1402.7 938.3L1403.7 936.3L1404.7 941L1405.7 938.4L1406.7 940.6L1407.7 944.2L1408.7 940.8L1409.7 947.2L1410.7 941.6L1411.7 945.4L1412.7 941.5L1413.7 938.9L1414.7 940.7L1415.7 944.2L1416.7 943.2L1417.7 945.3L1418.7 948.8L1419.7 949.2L1420.7 945.6L1421.7 943.9L1422.7 950.2L1423.7 945L1424.7 943.9L1425.7 945.9L1426.7 950.5L1427.7 945.6L1428.7 952.4L1429.7 946.9L1430.7 944.3L1431.7 954.5L1432.7 947.2L1433.7 947.3L1434.7 947.9L1435.7 951.6L1436.7 950.5L1437.7 954.5L1438.7 950.2L1439.7 950.1L1440.7 954.7L1441.7 956.3L1442.7 955.1L1443.7 953.7L1444.7 953.5L1445.7 954.2L1446.7 954.2L1447.7 959.9L1448.7 965.9L1449.7 955.1L1450.7 953.3L1451.7 962.8L1452.7 960.6L1453.7 957.7L1454.7 956.3L1455.7 957.4L1456.7 955.7L1457.7 959.5L1458.7 958.2L1459.7 958.7L1460.7 962.6L1461.7 958.3L1462.7 960.6L1463.7 959.8L1464.7 964.3L1465.7 959.6L1466.7 966.7L1467.7 961.5L1468.7 973.3L1469.7 967.4L1470.7 961.4L1471.7 966L1472.7 964L1473.7 971.5L1474.7 960.4L1475.7 963.9L1476.7 966.8L1477.7 966.2L1478.7 967.3L1479.7 964.6L1480.7 968.8L1481.7 975.6L1482.7 970.1L1483.7 964.8L1484.7 967.9L1485.7 972.8L1486.7 969.8L1487.7 972L1488.7 970.4L1489.7 979.4L1490.7 976.4L1491.7 970.9L1492.7 975.7L1493.7 974.6L1494.7 969.9L1495.7 978.5L1496.7 975.7L1497.7 978.3L1498.7 977.8L1499.7 975.1L1500.7 981.7L1501.7 985L1502.7 970.3L1503.7 976.1L1504.7 971.2L1505.7 974.5L1506.7 974.3L1507.7 972.6L1508.7 972.9L1509.7 982L1510.7 971.7L1511.7 981.7L1512.7 976.5L1513.7 968.2L1514.7 978.7L1515.7 973.3L1516.7 982.3L1517.7 978.6L1518.7 981.3L1519.7 980.3L1520.7 987L1521.7 987.7L1522.7 981.5L1523.7 991.4L1524.7 988L1525.7 981.2L1526.7 987.8L1527.7 989.7L1528.7 991.1L1529.7 984.2L1530.7 986.9L1531.7 983.8L1532.7 985.2L1533.7 975.1L1534.7 984.5L1535.7 992.3L1536.7 980.4L1537.7 981.4L1538.7 981.1L1539.7 991.7L1540.7 977.5L1541.7 982.9L1542.7 983.2L1543.7 992.7L1544.7 981.6L1545.7 984.9L1546.7 978.5L1547.7 987.5L1548.7 992.5L1549.7 984.2L1550.7 990.5L1551.7 982.3L1552.7 990.9L1553.7 985.2L1554.7 986.4L1555.7 986.2L1556.7 990.4L1557.7 993.4L1558.7 989.4L1559.7 993L1560.7 987.9L1561.7 990L1562.7 1002.1L1563.7 987L1564.7 979.1L1565.7 984.9L1566.7 984.2L1567.7 985.7L1568.7 991.8L1569.7 997.7L1570.7 983.8L1571.7 981.9L1572.7 983.8L1573.7 984L1574.7 983.9L1575.7 986.1L1576.7 984.3L1577.7 986.2L1578.7 985L1579.7 994.3L1580.7 992.4L1581.7 984.6L1582.7 990.3L1583.7 1005.4L1584.7 987.2L1585.7 1005.5L1586.7 978.1L1587.7 985.6L1588.7 986.6L1589.7 996.5L1590.7 1000.7L1591.7 993.8L1592.7 991.7L1593.7 997.1L1594.7 989.3L1595.7 985.9L1596.7 987.1L1597.7 1000.2L1598.7 1010.3L1599.7 993.8L1600.7 999L1601.7 990.6L1602.7 983L1603.7 983.1L1604.7 991.7L1605.7 987L1606.7 984L1607.7 993.9L1608.7 992.2L1609.7 987.9L1610.7 992.8L1611.7 996.3L1612.7 998.5L1613.7 992.7L1614.7 997.9L1615.7 988L1616.7 995.8L1617.7 984.1L1618.7 985.4L1619.7 1002.5L1620.7 985.5L1621.7 994.7L1622.7 981.5L1623.7 985.3L1624.7 987.9L1625.7 983L1626.7 992.4L1627.7 987.3L1628.7 988.9L1629.7 994.9L1630.7 993.5L1631.7 1006L1632.7 996L1633.7 1009.6L1634.7 995L1635.7 994L1636.7 990.1L1637.7 996.5L1638.7 971.5L1639.7 991.1L1640.7 987.7L1641.7 994.1L1642.7 978.6L1643.7 991.3L1644.7 982.4L1645.7 997.5L1646.7 988.9L1647.7 993.8L1648.7 984L1649.7 989.9L1650.7 991.8L1651.7 980.1L1652.7 991.5L1653.7 989.4L1654.7 977.3L1655.7 997.5L1656.7 979.1L1657.7 988.3L1658.7 993.8L1659.7 986.8L1660.7 986L1661.7 995L1662.7 991.7L1663.7 984.5L1664.7 982.4L1665.7 984.2L1666.7 986.7L1667.7 985.9L1668.7 982.5L1669.7 974.8L1670.7 976.9L1671.7 980.2L1672.7 975.4L1673.7 984.7L1674.7 984.9L1675.7 984.3L1676.7 971.7L1677.7 995L1678.7 980.8L1679.7 981L1680.7 983.7L1681.7 973.3L1682.7 979.5L1683.7 981.5L1684.7 990.3L1685.7 982.2L1686.7 986.6L1687.7 984.3L1688.7 983.8L1689.7 987.3L1690.7 981.4L1691.7 976.3L1692.7 977.2L1693.7 978.7L1694.7 987.7L1695.7 971L1696.7 969.6L1697.7 974.4L1698.7 975.9L1699.7 970.6L1700.7 975.8L1701.7 967L1702.7 973.9L1703.7 972.3L1704.7 967.7L1705.7 974.8L1706.7 968L1707.7 965.3L1708.7 972.2L1709.7 962.1L1710.7 968.2L1711.7 964.8L1712.7 967.3L1713.7 971L1714.7 971.8L1715.7 977.1L1716.7 972.2L1717.7 972.6L1718.7 964.5L1719.7 969.1L1720.7 981.9L1721.7 975.1L1722.7 978.2L1723.7 981.1L1724.7 977.5L1725.7 976.2L1726.7 981.6L1727.7 980.6L1728.7 978.5L1729.7 982.2L1730.7 975.7L1731.7 975.6L1732.7 978.3L1733.7 980.3L1734.7 977.3L1735.7 976.9L1736.7 979.6L1737.7 984.8L1738.7 978.4L1739.7 979.4L1740.7 976.5L1741.7 972.8L1742.7 978.4L1743.7 973L1744.7 973.6L1745.7 975.3L1746.7 966L1747.7 969.7L1748.7 979.8L1749.7 970.4L1750.7 973.5L1751.7 967L1752.7 971.1L1753.7 973.8L1754.7 974.5L1755.7 974.2L1756.7 975.1L1757.7 976.2L1758.7 977L1759.7 977.1L1760.7 986.1L1761.7 984.1L1762.7 985.6L1763.7 985.8L1764.7 978.5L1765.7 982.7L1766.7 976.1L1767.7 976.4L1768.7 970.7L1769.7 974.4L1770.7 972.8L1771.7 972.2L1772.7 980.8L1773.7 974.5L1774.7 980.4L1775.7 979.7L1776.7 979.3L1777.7 974.9L1778.7 972L1779.7 965.5L1780.7 968.6L1781.7 971.7L1782.7 974.2L1783.7 973.5L1784.7 973.2L1785.7 977.9L1786.7 980.6" stroke="#D95319"/>
<path d="M1018.1 798.1L1021.1 799.4L1024.1 800.7L1027.1 802L1030.1 803.2L1033.1 804.5L1036.1 805.8L1039.1 807.1L1042.1 808.3L1045.1 809.6L1048.1 810.9L1051.1 812.1L1054.1 813.4L1057.1 814.7L1060.1 815.9L1063.1 817.2L1066.1 818.5L1069.1 819.7L1072.1 821L1075.1 822.2L1078.1 823.5L1081.1 824.8L1084.1 826L1087.1 827.3L1090.1 828.5L1093.1 829.8L1096.1 831.1L1099.1 832.4L1102.1 833.6L1105.1 834.9L1108.1 836.2L1111.1 837.5L1114.1 838.7L1117.1 840L1120.1 841.3L1123.1 842.5L1126.1 843.8L1129.1 845L1132.1 846.3L1135.1 847.5L1138.1 848.7L1141.1 849.9L1144.1 851.1L1147.1 852.3L1150.1 853.5L1153.1 854.7L1156.1 855.8L1159.1 857L1162.1 858.1L1165.1 859.2L1167.1 859.9L1169.1 860.7L1171.1 861.4L1173.1 862.1L1175.1 862.9L1177.1 863.5L1179.1 864.3L1181.1 864.9L1183.1 865.6L1185.1 866.3L1187.1 867L1189.1 867.7L1191.1 868.5L1193.1 869.1L1195.1 869.7L1197.1 870.5L1199.1 871.1L1201.1 872L1203.1 872.3L1205.1 873.2L1207.1 873.9L1209.1 874.5L1211.1 875.3L1213.1 875.9L1215.1 876.3L1217.1 877.1L1219.1 877.6L1221.1 878.3L1223.1 879.6L1225.1 880L1227.1 880.4L1229.1 880.9L1231.1 882.6L1233.1 883.4L1235.1 883.4L1237.1 884.4L1239.1 885.3L1241.1 885.4L1243.1 886.5L1245.1 887.8L1247.1 887.5L1249.1 888.1L1251.1 888.6L1253.1 889.3L1255.1 890.4L1257.1 891.5L1259.1 892.5L1261.1 893.7L1263.1 893.6L1265.1 893.4L1267.1 894L1269.1 893.8L1271.1 895.6L1273.1 897.4L1275.1 896.4L1277.1 897L1279.1 899.2L1281.1 900.3L1283.1 899.7L1285.1 900.1L1287.1 902.2L1289.1 902.2L1290.5 903.1L1291.9 903.9L1293.3 904.5L1294.7 903.6L1296.1 904.5L1297.5 905.2L1298.9 907.4L1300.3 903.8L1301.7 906.4L1303.1 906L1304.5 907.5L1305.9 906.6L1307.3 909.1L1308.7 907.9L1310.1 908.6L1311.5 908L1312.9 910.5L1314.3 910.6L1315.7 910.9L1317.1 909.4L1318.5 914L1319.9 912.5L1321.3 914.1L1322.7 913.2L1324.1 913L1325.5 913.7L1326.9 914L1328.3 914.4L1329.7 916.1L1331.1 916.2L1332.5 918.8L1333.9 917.4L1335.3 918.5L1336.7 918.3L1338.1 917.6L1339.5 918.6L1340.9 919L1342.3 918.6L1343.7 924.2L1345.1 919.9L1346.5 920.7L1347.9 921L1349.3 923.6L1350.7 920.9L1352.1 920.5L1353.5 921.1L1354.9 923.2L1356.3 922.6L1357.7 922.9L1359.1 922.3L1360.5 924L1361.9 926.4L1363.3 927L1364.7 927.2L1366.1 927.5L1367.5 929.4L1368.9 927.6L1370.3 931L1371.7 931.6L1373.1 929.2L1374.5 931L1375.9 929.9L1377.3 934L1378.7 927.8L1380.1 929.6L1381.5 930.4L1382.9 930.2L1384.3 931.6L1385.7 934.5L1387.1 929.4L1388.5 934.3L1389.9 931.3L1391.3 929.9L1392.7 935.4L1393.7 934.3L1394.7 937.1L1395.7 933.3L1396.7 936.5L1397.7 938.7L1398.7 933.7L1399.7 934.9L1400.7 939.5L1401.7 935L1402.7 937.4L1403.7 932.6L1404.7 935.2L1405.7 940.7L1406.7 940L1407.7 941.5L1408.7 938.6L1409.7 938.6L1410.7 937.1L1411.7 938.8L1412.7 943.3L1413.7 941.8L1414.7 936.7L1415.7 937.7L1416.7 941.4L1417.7 942L1418.7 942.8L1419.7 942.8L1420.7 948.2L1421.7 941.5L1422.7 945.7L1423.7 943.5L1424.7 951.5L1425.7 943.4L1426.7 940.9L1427.7 950.9L1428.7 940.8L1429.7 943.5L1430.7 947.3L1431.7 950.5L1432.7 943.2L1433.7 945.7L1434.7 945L1435.7 947.6L1436.7 949.7L1437.7 945.7L1438.7 952L1439.7 947.5L1440.7 955.6L1441.7 953L1442.7 954.1L1443.7 945L1444.7 953.7L1445.7 951.9L1446.7 947.2L1447.7 949.6L1448.7 945.6L1449.7 947.2L1450.7 950.6L1451.7 950.1L1452.7 957.9L1453.7 954.4L1454.7 952.8L1455.7 953.2L1456.7 958.8L1457.7 958.6L1458.7 959.3L1459.7 953.8L1460.7 955.7L1461.7 957.8L1462.7 957.3L1463.7 955.2L1464.7 958.7L1465.7 957.4L1466.7 963.3L1467.7 955.3L1468.7 955L1469.7 957.3L1470.7 957.4L1471.7 958L1472.7 953L1473.7 958.4L1474.7 964L1475.7 962.6L1476.7 956L1477.7 955L1478.7 956.3L1479.7 956.6L1480.7 959.1L1481.7 966.2L1482.7 963.4L1483.7 968.2L1484.7 962.7L1485.7 967.4L1486.7 962.1L1487.7 963.9L1488.7 972.1L1489.7 961.6L1490.7 961.7L1491.7 970.4L1492.7 964L1493.7 961.8L1494.7 965.4L1495.7 961L1496.7 963L1497.7 960L1498.7 963.5L1499.7 965.5L1500.7 963.4L1501.7 962.8L1502.7 964.9L1503.7 968.3L1504.7 970.3L1505.7 968.8L1506.7 970.4L1507.7 967.5L1508.7 967.6L1509.7 968.5L1510.7 967.7L1511.7 966.6L1512.7 961L1513.7 962.1L1514.7 969.4L1515.7 964.9L1516.7 968.2L1517.7 967.3L1518.7 968.5L1519.7 970.9L1520.7 974.9L1521.7 980.7L1522.7 967.4L1523.7 963.8L1524.7 973.7L1525.7 967L1526.7 971.2L1527.7 968L1528.7 973.5L1529.7 970.7L1530.7 970.5L1531.7 983.6L1532.7 970.3L1533.7 972.5L1534.7 985.9L1535.7 969.7L1536.7 972.8L1537.7 971.4L1538.7 970L1539.7 973.3L1540.7 976.7L1541.7 973.1L1542.7 973.6L1543.7 962L1544.7 964.2L1545.7 975.3L1546.7 974.2L1547.7 969.5L1548.7 967.8L1549.7 974.7L1550.7 977.2L1551.7 963L1552.7 968.1L1553.7 983.5L1554.7 985.5L1555.7 980.1L1556.7 974L1557.7 972.6L1558.7 977.4L1559.7 985.8L1560.7 974.8L1561.7 973.3L1562.7 976.6L1563.7 980L1564.7 973.6L1565.7 976.3L1566.7 982.5L1567.7 973.7L1568.7 982.9L1569.7 969.1L1570.7 971.4L1571.7 979.8L1572.7 970.4L1573.7 963.2L1574.7 983.8L1575.7 969.5L1576.7 960.3L1577.7 981.8L1578.7 973.5L1579.7 983.6L1580.7 974.1L1581.7 990.9L1582.7 985.1L1583.7 977.3L1584.7 973L1585.7 972.7L1586.7 973.8L1587.7 970.5L1588.7 973.4L1589.7 973.2L1590.7 985.3L1591.7 979.3L1592.7 958.9L1593.7 964L1594.7 972.1L1595.7 971.8L1596.7 969.2L1597.7 977.9L1598.7 962.1L1599.7 977L1600.7 974.3L1601.7 960L1602.7 991.2L1603.7 972.8L1604.7 990.1L1605.7 982.2L1606.7 978.2L1607.7 980.5L1608.7 976.3L1609.7 983.6L1610.7 978.4L1611.7 987.3L1612.7 980.5L1613.7 988.3L1614.7 972.4L1615.7 987.2L1616.7 972.2L1617.7 980L1618.7 978.9L1619.7 968.5L1620.7 974.8L1621.7 991.4L1622.7 973.5L1623.7 1001.4L1624.7 975.9L1625.7 979.7L1626.7 985.6L1627.7 971.6L1628.7 973.9L1629.7 958.9L1630.7 976.1L1631.7 960.5L1632.7 963.9L1633.7 977L1634.7 978L1635.7 962.9L1636.7 973.1L1637.7 971.9L1638.7 976.3L1639.7 985.7L1640.7 980.3L1641.7 986.2L1642.7 991.2L1643.7 980.6L1644.7 966.2L1645.7 966.4L1646.7 976.7L1647.7 975.3L1648.7 973.4L1649.7 968.9L1650.7 976L1651.7 981.9L1652.7 980.9L1653.7 969.7L1654.7 959.4L1655.7 980.8L1656.7 993.3L1657.7 972.8L1658.7 980.7L1659.7 980.4L1660.7 974.1L1661.7 980.8L1662.7 990L1663.7 993.1L1664.7 977L1665.7 984.9L1666.7 974L1667.7 985.1L1668.7 977.3L1669.7 984.6L1670.7 975.4L1671.7 975.7L1672.7 970.5L1673.7 969L1674.7 980.6L1675.7 988L1676.7 973L1677.7 981L1678.7 978.1L1679.7 976.4L1680.7 971.4L1681.7 973.7L1682.7 975.2L1683.7 974.8L1684.7 984.3L1685.7 983.4L1686.7 981.5L1687.7 982.6L1688.7 985.7L1689.7 985.7L1690.7 986.2L1691.7 986.5L1692.7 989.9L1693.7 973L1694.7 971.2L1695.7 977.3L1696.7 970.9L1697.7 973.3L1698.7 976.7L1699.7 988.5L1700.7 986.3L1701.7 982.9L1702.7 972L1703.7 981L1704.7 977.7L1705.7 981.6L1706.7 979.2L1707.7 976.6L1708.7 989.1L1709.7 992.8L1710.7 974.7L1711.7 974.2L1712.7 973.9L1713.7 963.8L1714.7 960.7L1715.7 972.1L1716.7 961.7L1717.7 957.6L1718.7 967.6L1719.7 969.5L1720.7 968.5L1721.7 977.2L1722.7 984.4L1723.7 983L1724.7 985.9L1725.7 977.6L1726.7 988.2L1727.7 976.7L1728.7 988.4L1729.7 980.8L1730.7 988.4L1731.7 983.6L1732.7 979.6L1733.7 980.5L1734.7 980.8L1735.7 986.2L1736.7 985.5L1737.7 985.8L1738.7 985.6L1739.7 990.2L1740.7 983.8L1741.7 984.9L1742.7 979.4L1743.7 978.9L1744.7 976.8L1745.7 982.5L1746.7 981.5L1747.7 985.3L1748.7 979.8L1749.7 977.8L1750.7 972.4L1751.7 979.9L1752.7 962.8L1753.7 975.3L1754.7 971.5L1755.7 973.7L1756.7 990.4L1757.7 982.1L1758.7 977.4L1759.7 994.1L1760.7 981.4L1761.7 989L1762.7 988.3L1763.7 987.2L1764.7 997.8L1765.7 989.7L1766.7 992.5L1767.7 991.2L1768.7 984.4L1769.7 975.3L1770.7 987.5L1771.7 991.4L1772.7 1001.3L1773.7 1013.7L1774.7 1019.9L1775.7 1026.4L1776.7 1041.6L1777.7 1049.6L1778.7 1062.6L1779.7 1060.1L1780.7 1078.2L1781.7 1063.6L1782.7 1047.4L1783.7 1029.2L1784.7 1022.1L1785.7 1016L1786.7 1008.6" stroke="#EDB120"/>
<path d="M1018.1 798.1L1021.1 799.4L1024.1 800.7L1027.1 802L1030.1 803.2L1033.1 804.5L1036.1 805.8L1039.1 807.1L1042.1 808.3L1045.1 809.6L1048.1 810.9L1051.1 812.1L1054.1 813.4L1057.1 814.7L1060.1 815.9L1063.1 817.2L1066.1 818.5L1069.1 819.7L1072.1 821L1075.1 822.2L1078.1 823.5L1081.1 824.8L1084.1 826L1087.1 827.3L1090.1 828.5L1093.1 829.8L1096.1 831.1L1099.1 832.4L1102.1 833.6L1105.1 834.9L1108.1 836.2L1111.1 837.5L1114.1 838.7L1117.1 840L1120.1 841.3L1123.1 842.5L1126.1 843.8L1129.1 845L1132.1 846.3L1135.1 847.5L1138.1 848.7L1141.1 849.9L1144.1 851.1L1147.1 852.3L1150.1 853.5L1153.1 854.7L1156.1 855.8L1159.1 857L1162.1 858.1L1165.1 859.2L1167.1 859.9L1169.1 860.7L1171.1 861.4L1173.1 862.1L1175.1 862.8L1177.1 863.5L1179.1 864.2L1181.1 864.9L1183.1 865.6L1185.1 866.3L1187.1 867L1189.1 867.7L1191.1 868.3L1193.1 869.1L1195.1 869.6L1197.1 870.5L1199.1 871.1L1201.1 871.9L1203.1 872.5L1205.1 873L1207.1 873.7L1209.1 874.5L1211.1 875.4L1213.1 875.8L1215.1 876.4L1217.1 877L1219.1 877.5L1221.1 878.5L1223.1 879.7L1225.1 879.9L1227.1 881.1L1229.1 881.6L1231.1 881.6L1233.1 882.4L1235.1 883.5L1237.1 884.2L1239.1 884.8L1241.1 886.2L1243.1 885.9L1245.1 886.9L1247.1 886.6L1249.1 888.4L1251.1 888.1L1253.1 889.6L1255.1 889.6L1257.1 891.3L1259.1 891.2L1261.1 892.5L1263.1 893.5L1265.1 893.8L1267.1 894.2L1269.1 895L1271.1 895L1273.1 896L1275.1 899L1277.1 898L1279.1 899.9L1281.1 899.3L1283.1 899.3L1285.1 901.5L1287.1 902L1289.1 901.5L1290.5 902.4L1291.9 901.5L1293.3 902.9L1294.7 903.2L1296.1 902.7L1297.5 904.8L1298.9 904.8L1300.3 906.4L1301.7 905.8L1303.1 905.9L1304.5 906.2L1305.9 907.9L1307.3 909L1308.7 909.3L1310.1 910.4L1311.5 909L1312.9 908.3L1314.3 913L1315.7 913.4L1317.1 909.9L1318.5 913.8L1319.9 911.9L1321.3 914.3L1322.7 912.3L1324.1 912.7L1325.5 913.7L1326.9 913.4L1328.3 914.7L1329.7 914.5L1331.1 913.4L1332.5 914.8L1333.9 917.7L1335.3 918.4L1336.7 918L1338.1 918.4L1339.5 918.2L1340.9 919.6L1342.3 918.2L1343.7 919.5L1345.1 919.7L1346.5 920.8L1347.9 920.6L1349.3 924.2L1350.7 920.3L1352.1 922.6L1353.5 922.9L1354.9 923L1356.3 922.5L1357.7 923.1L1359.1 923.9L1360.5 924.6L1361.9 927.8L1363.3 924.4L1364.7 926L1366.1 926.8L1367.5 923L1368.9 932.3L1370.3 928.9L1371.7 927.4L1373.1 928L1374.5 927.4L1375.9 932.5L1377.3 931.8L1378.7 928.6L1380.1 930.9L1381.5 927.7L1382.9 931.1L1384.3 931.6L1385.7 931.3L1387.1 933L1388.5 932.5L1389.9 935L1391.3 934L1392.7 935.7L1393.7 934.2L1394.7 938.4L1395.7 938.5L1396.7 933.9L1397.7 935.1L1398.7 939L1399.7 937.8L1400.7 940.6L1401.7 933.8L1402.7 942.8L1403.7 935.5L1404.7 942.4L1405.7 940.4L1406.7 943L1407.7 944L1408.7 941L1409.7 940.9L1410.7 943L1411.7 944.5L1412.7 937.2L1413.7 938.8L1414.7 942L1415.7 943.6L1416.7 942.6L1417.7 943.5L1418.7 941.4L1419.7 947.6L1420.7 945.2L1421.7 948L1422.7 943L1423.7 942.1L1424.7 946.8L1425.7 945.4L1426.7 943.3L1427.7 947.8L1428.7 950.3L1429.7 945.5L1430.7 947.3L1431.7 949.4L1432.7 945.1L1433.7 947.9L1434.7 954.3L1435.7 947.9L1436.7 949.4L1437.7 944.8L1438.7 950.1L1439.7 951L1440.7 949.6L1441.7 950.6L1442.7 956.6L1443.7 952.2L1444.7 954.4L1445.7 950.4L1446.7 948.7L1447.7 960.2L1448.7 960.1L1449.7 959.4L1450.7 958L1451.7 957.4L1452.7 954.7L1453.7 952.3L1454.7 961.1L1455.7 963L1456.7 964.6L1457.7 954.6L1458.7 953.9L1459.7 964L1460.7 965.7L1461.7 960.6L1462.7 958.9L1463.7 959.6L1464.7 961.8L1465.7 959.8L1466.7 960.4L1467.7 963.4L1468.7 955.7L1469.7 962.2L1470.7 967.2L1471.7 965L1472.7 969.8L1473.7 964.1L1474.7 961.4L1475.7 971L1476.7 963.6L1477.7 961.8L1478.7 968.3L1479.7 974.5L1480.7 972.6L1481.7 969.4L1482.7 972.4L1483.7 971.6L1484.7 967.3L1485.7 967.6L1486.7 965.8L1487.7 974.3L1488.7 963.5L1489.7 966.9L1490.7 968L1491.7 974.5L1492.7 966L1493.7 974L1494.7 966.3L1495.7 968.9L1496.7 976.9L1497.7 974.9L1498.7 966.4L1499.7 970L1500.7 974.7L1501.7 973.5L1502.7 973.6L1503.7 977.9L1504.7 975L1505.7 977.2L1506.7 976L1507.7 972.1L1508.7 978.6L1509.7 971.2L1510.7 973.4L1511.7 970.7L1512.7 969.8L1513.7 968L1514.7 970.3L1515.7 970.1L1516.7 974.4L1517.7 972.2L1518.7 980.3L1519.7 977.8L1520.7 974L1521.7 977.4L1522.7 975.2L1523.7 982.7L1524.7 971.8L1525.7 981.5L1526.7 977.7L1527.7 979.8L1528.7 975.2L1529.7 980.4L1530.7 983.5L1531.7 988.6L1532.7 980.1L1533.7 985.9L1534.7 977.4L1535.7 973.9L1536.7 993.6L1537.7 988.5L1538.7 980L1539.7 976L1540.7 980.2L1541.7 980.1L1542.7 979.5L1543.7 979.9L1544.7 975.6L1545.7 981L1546.7 991.4L1547.7 986.1L1548.7 981.5L1549.7 987L1550.7 983.5L1551.7 985.5L1552.7 987L1553.7 979.7L1554.7 985.7L1555.7 990.1L1556.7 987.4L1557.7 982.7L1558.7 972.4L1559.7 982.3L1560.7 976.4L1561.7 981.6L1562.7 998.2L1563.7 981.3L1564.7 988.4L1565.7 991.6L1566.7 989.8L1567.7 973.4L1568.7 994.7L1569.7 989.1L1570.7 979.5L1571.7 982.8L1572.7 998.8L1573.7 987.3L1574.7 990L1575.7 987L1576.7 980.7L1577.7 988.2L1578.7 985.8L1579.7 974.8L1580.7 996.9L1581.7 986.6L1582.7 982.2L1583.7 995L1584.7 990.6L1585.7 996L1586.7 984.8L1587.7 989.5L1588.7 979.1L1589.7 977.2L1590.7 983.5L1591.7 987.6L1592.7 984.1L1593.7 986.2L1594.7 996.7L1595.7 980.3L1596.7 985.5L1597.7 981.9L1598.7 998.1L1599.7 981.7L1600.7 974.1L1601.7 984.4L1602.7 1001.5L1603.7 990.3L1604.7 991.4L1605.7 989.5L1606.7 992L1607.7 985.7L1608.7 990.8L1609.7 983.8L1610.7 990.2L1611.7 984.8L1612.7 981.1L1613.7 993.9L1614.7 986.7L1615.7 997.5L1616.7 990.7L1617.7 986.6L1618.7 974.5L1619.7 988L1620.7 974L1621.7 994.6L1622.7 984.7L1623.7 979.3L1624.7 982.6L1625.7 997.1L1626.7 1000.3L1627.7 985.7L1628.7 1002.8L1629.7 989.4L1630.7 997.7L1631.7 993.2L1632.7 976.6L1633.7 979.1L1634.7 981.8L1635.7 997.9L1636.7 984.2L1637.7 986.3L1638.7 987.8L1639.7 978.5L1640.7 1000.8L1641.7 983.2L1642.7 983.6L1643.7 990.5L1644.7 973.5L1645.7 995.7L1646.7 985.6L1647.7 985.3L1648.7 1003.4L1649.7 996.1L1650.7 991.4L1651.7 977.8L1652.7 976.2L1653.7 978.3L1654.7 981L1655.7 1002.4L1656.7 984.7L1657.7 992.6L1658.7 983.1L1659.7 983.5L1660.7 978.7L1661.7 988.4L1662.7 987.5L1663.7 1000.4L1664.7 991.8L1665.7 1002.3L1666.7 987.7L1667.7 1001.4L1668.7 992.2L1669.7 994.4L1670.7 990L1671.7 984.5L1672.7 993.8L1673.7 992.2L1674.7 1003.2L1675.7 988.6L1676.7 999.1L1677.7 986.9L1678.7 978.9L1679.7 1005.8L1680.7 996.2L1681.7 992.1L1682.7 985.6L1683.7 994.3L1684.7 988.2L1685.7 993.2L1686.7 984.6L1687.7 994.2L1688.7 982.7L1689.7 1005.2L1690.7 998.7L1691.7 978.9L1692.7 986.2L1693.7 992.8L1694.7 979.4L1695.7 986.2L1696.7 986.8L1697.7 993.5L1698.7 987.2L1699.7 985.4L1700.7 994.5L1701.7 983.4L1702.7 988.6L1703.7 985.4L1704.7 987.6L1705.7 997.2L1706.7 997.5L1707.7 993.9L1708.7 991.9L1709.7 996.2L1710.7 993.9L1711.7 989.4L1712.7 988.3L1713.7 984.9L1714.7 989.6L1715.7 997.3L1716.7 1003.3L1717.7 991.5L1718.7 994.3L1719.7 991.7L1720.7 990.3L1721.7 998.5L1722.7 996.8L1723.7 1012.3L1724.7 1005.1L1725.7 1008.2L1726.7 995.1L1727.7 996.3L1728.7 993.9L1729.7 987.8L1730.7 982.5L1731.7 987.3L1732.7 985.5L1733.7 988.2L1734.7 979.1L1735.7 988.7L1736.7 998.2L1737.7 984.9L1738.7 976.1L1739.7 987.2L1740.7 966.9L1741.7 977.2L1742.7 971.8L1743.7 978.1L1744.7 979.2L1745.7 988.1L1746.7 992.1L1747.7 1002L1748.7 992.3L1749.7 1005L1750.7 1000.4L1751.7 1001.6L1752.7 1010.7L1753.7 1017.3L1754.7 1029.2L1755.7 1041L1756.7 1043.1L1757.7 1037.9L1758.7 1030.2L1759.7 1015.7L1760.7 999.8L1761.7 989.3L1762.7 984.8L1763.7 986.9L1764.7 994.6L1765.7 996.1L1766.7 1002.2L1767.7 1002L1768.7 1008.2L1769.7 1009.7L1770.7 1013.9L1771.7 1013.6L1772.7 1007.6L1773.7 1021.6L1774.7 1022.5L1775.7 1033.6L1776.7 1036.5L1777.7 1039.7L1778.7 1048.9L1779.7 1058.5L1780.7 1043.4L1781.7 1042.8L1782.7 1051.3L1783.7 1042.6L1784.7 1036.1L1785.7 1036.8L1786.7 1013.4" stroke="#7E2F8E"/>
<path d="M1018.1 798.1L1021.1 799.4L1024.1 800.7L1027.1 802L1030.1 803.2L1033.1 804.5L1036.1 805.8L1039.1 807.1L1042.1 808.3L1045.1 809.6L1048.1 810.9L1051.1 812.1L1054.1 813.4L1057.1 814.7L1060.1 815.9L1063.1 817.2L1066.1 818.5L1069.1 819.7L1072.1 821L1075.1 822.2L1078.1 823.5L1081.1 824.8L1084.1 826L1087.1 827.3L1090.1 828.5L1093.1 829.8L1096.1 831.1L1099.1 832.4L1102.1 833.6L1105.1 834.9L1108.1 836.2L1111.1 837.5L1114.1 838.7L1117.1 840L1120.1 841.3L1123.1 842.5L1126.1 843.8L1129.1 845L1132.1 846.3L1135.1 847.5L1138.1 848.7L1141.1 849.9L1144.1 851.1L1147.1 852.3L1150.1 853.5L1153.1 854.7L1156.1 855.8L1159.1 857L1162.1 858.1L1165.1 859.2L1167.1 859.9L1169.1 860.7L1171.1 861.4L1173.1 862.1L1175.1 862.9L1177.1 863.5L1179.1 864.2L1181.1 864.9L1183.1 865.6L1185.1 866.3L1187.1 866.9L1189.1 867.7L1191.1 868.5L1193.1 869L1195.1 869.6L1197.1 870.5L1199.1 871.2L1201.1 871.8L1203.1 872.5L1205.1 873.2L1207.1 873.7L1209.1 874.8L1211.1 874.8L1213.1 875.6L1215.1 876.7L1217.1 876.9L1219.1 877.7L1221.1 878.3L1223.1 879.7L1225.1 879.7L1227.1 880.8L1229.1 882.2L1231.1 881.9L1233.1 882.9L1235.1 883.8L1237.1 884.1L1239.1 885.5L1241.1 885.2L1243.1 886.2L1245.1 887L1247.1 887.1L1249.1 888.3L1251.1 889.2L1253.1 890L1255.1 890.2L1257.1 890.4L1259.1 892L1261.1 893L1263.1 892.6L1265.1 893.7L1267.1 894.4L1269.1 893.9L1271.1 896.5L1273.1 896.3L1275.1 898.4L1277.1 898L1279.1 898.1L1281.1 898.4L1283.1 900.9L1285.1 899.9L1287.1 900.5L1289.1 901.7L1290.5 900.3L1291.9 902.4L1293.3 903.6L1294.7 902.8L1296.1 905.4L1297.5 902.8L1298.9 903.8L1300.3 905.7L1301.7 905.4L1303.1 906L1304.5 905.2L1305.9 907.9L1307.3 908.9L1308.7 910L1310.1 908.2L1311.5 910.2L1312.9 909L1314.3 908.9L1315.7 910.5L1317.1 911.6L1318.5 909.6L1319.9 911.5L1321.3 911.4L1322.7 911.1L1324.1 914.6L1325.5 914.7L1326.9 911.1L1328.3 914.6L1329.7 916.5L1331.1 915.8L1332.5 916.9L1333.9 918.7L1335.3 918.2L1336.7 918.2L1338.1 918.7L1339.5 918.3L1340.9 922.1L1342.3 921.8L1343.7 918.4L1345.1 920.7L1346.5 918.8L1347.9 920.7L1349.3 924.4L1350.7 921.4L1352.1 924.5L1353.5 922.5L1354.9 921.5L1356.3 920.5L1357.7 924.4L1359.1 923.5L1360.5 924.5L1361.9 924.1L1363.3 931.5L1364.7 927.2L1366.1 926.2L1367.5 926.1L1368.9 928.8L1370.3 925.9L1371.7 926L1373.1 928.6L1374.5 929.8L1375.9 930.6L1377.3 929.7L1378.7 927.9L1380.1 927.5L1381.5 932L1382.9 933.6L1384.3 933.6L1385.7 929.7L1387.1 931.5L1388.5 931.8L1389.9 932.3L1391.3 933.6L1392.7 935.9L1393.7 939.1L1394.7 938.3L1395.7 936.3L1396.7 935.4L1397.7 937.2L1398.7 937.5L1399.7 933.7L1400.7 938.3L1401.7 936.8L1402.7 938.5L1403.7 940.3L1404.7 942.5L1405.7 940.3L1406.7 941.8L1407.7 938.4L1408.7 944.4L1409.7 942.7L1410.7 940.1L1411.7 941.3L1412.7 938.9L1413.7 937.1L1414.7 943.3L1415.7 939.5L1416.7 941.6L1417.7 936.2L1418.7 940.7L1419.7 940L1420.7 937.8L1421.7 943.5L1422.7 942.7L1423.7 942.1L1424.7 944.2L1425.7 940.7L1426.7 942.2L1427.7 942.3L1428.7 945.4L1429.7 947.2L1430.7 947.7L1431.7 948L1432.7 952.3L1433.7 945.8L1434.7 944.4L1435.7 946.4L1436.7 948.1L1437.7 946.9L1438.7 947.2L1439.7 947.8L1440.7 944.6L1441.7 952.8L1442.7 948.9L1443.7 948.1L1444.7 949.8L1445.7 951.1L1446.7 954.4L1447.7 953.3L1448.7 949.7L1449.7 948L1450.7 954.7L1451.7 951.3L1452.7 951.4L1453.7 950.1L1454.7 952.7L1455.7 952.6L1456.7 952L1457.7 959.7L1458.7 955.9L1459.7 963.2L1460.7 964.2L1461.7 959.4L1462.7 961.7L1463.7 953.8L1464.7 952.7L1465.7 957.7L1466.7 958.1L1467.7 959.5L1468.7 960.3L1469.7 958.9L1470.7 958L1471.7 960.9L1472.7 962.3L1473.7 961.5L1474.7 957L1475.7 961.3L1476.7 954.9L1477.7 960.7L1478.7 955.3L1479.7 964.9L1480.7 962.8L1481.7 958.2L1482.7 958.3L1483.7 960.8L1484.7 953.7L1485.7 960.9L1486.7 960.7L1487.7 964.5L1488.7 956.6L1489.7 959.8L1490.7 961.8L1491.7 971L1492.7 962.3L1493.7 965.8L1494.7 962.3L1495.7 960.6L1496.7 967.8L1497.7 963.9L1498.7 961.7L1499.7 964.2L1500.7 966L1501.7 969.4L1502.7 967.8L1503.7 971.6L1504.7 962.7L1505.7 966.8L1506.7 973.8L1507.7 968.2L1508.7 975.1L1509.7 985.7L1510.7 965.3L1511.7 966.4L1512.7 979.4L1513.7 975.7L1514.7 970.7L1515.7 972.6L1516.7 974.2L1517.7 972L1518.7 970.6L1519.7 972.8L1520.7 969.5L1521.7 971.8L1522.7 974.7L1523.7 970.4L1524.7 979.5L1525.7 964.3L1526.7 980.3L1527.7 971.8L1528.7 970.6L1529.7 970.9L1530.7 972.1L1531.7 968L1532.7 979.8L1533.7 973.9L1534.7 973.4L1535.7 977.6L1536.7 978.7L1537.7 969.4L1538.7 978.8L1539.7 976.5L1540.7 974.6L1541.7 974.1L1542.7 972.5L1543.7 975.1L1544.7 972.5L1545.7 973.6L1546.7 971.5L1547.7 966.7L1548.7 978L1549.7 964.8L1550.7 976.3L1551.7 971.7L1552.7 975.2L1553.7 977.9L1554.7 987.9L1555.7 966.4L1556.7 978.5L1557.7 978.7L1558.7 968.7L1559.7 974.7L1560.7 966.1L1561.7 967.7L1562.7 973.3L1563.7 976.4L1564.7 974.4L1565.7 987.7L1566.7 977.9L1567.7 977.9L1568.7 981.6L1569.7 976.5L1570.7 987.5L1571.7 971.8L1572.7 969.5L1573.7 986L1574.7 976.6L1575.7 969.6L1576.7 976.6L1577.7 986.8L1578.7 986.5L1579.7 974.2L1580.7 968.5L1581.7 986.6L1582.7 977.6L1583.7 982.6L1584.7 978L1585.7 973.4L1586.7 975.2L1587.7 980.7L1588.7 964.2L1589.7 979.5L1590.7 980.9L1591.7 973.4L1592.7 979.9L1593.7 980.9L1594.7 973L1595.7 987.2L1596.7 975.1L1597.7 974.9L1598.7 979.1L1599.7 986.3L1600.7 986L1601.7 1000.5L1602.7 987.3L1603.7 983.7L1604.7 978.9L1605.7 981.9L1606.7 984.3L1607.7 986.7L1608.7 979.2L1609.7 977.6L1610.7 970.9L1611.7 979.1L1612.7 984.2L1613.7 982.3L1614.7 986.7L1615.7 985.5L1616.7 1001.2L1617.7 994.2L1618.7 988.3L1619.7 973.2L1620.7 975L1621.7 972.2L1622.7 964.6L1623.7 979.3L1624.7 962.5L1625.7 967L1626.7 976L1627.7 962.5L1628.7 986.2L1629.7 986.2L1630.7 980.5L1631.7 977.2L1632.7 981.7L1633.7 998.1L1634.7 983.6L1635.7 982.4L1636.7 966.3L1637.7 974.5L1638.7 983.3L1639.7 993.7L1640.7 983.4L1641.7 995.8L1642.7 985L1643.7 983L1644.7 987.1L1645.7 981.5L1646.7 985.5L1647.7 987.1L1648.7 971.8L1649.7 976.5L1650.7 981.4L1651.7 984.6L1652.7 978L1653.7 977.1L1654.7 976.8L1655.7 974.2L1656.7 982L1657.7 995.4L1658.7 974.7L1659.7 980.7L1660.7 981.9L1661.7 976.3L1662.7 993.1L1663.7 982.9L1664.7 984.8L1665.7 976.3L1666.7 995.1L1667.7 991L1668.7 981.2L1669.7 986L1670.7 991.7L1671.7 977.8L1672.7 997.2L1673.7 984.7L1674.7 988.1L1675.7 982.7L1676.7 986.1L1677.7 989L1678.7 982L1679.7 992.2L1680.7 981.8L1681.7 987.5L1682.7 981.2L1683.7 988.3L1684.7 988.9L1685.7 982.2L1686.7 978.3L1687.7 997.3L1688.7 985.2L1689.7 984.3L1690.7 996.9L1691.7 995.2L1692.7 988.7L1693.7 996.7L1694.7 995.5L1695.7 984L1696.7 995L1697.7 993L1698.7 1000.1L1699.7 994.3L1700.7 995.9L1701.7 983.5L1702.7 986.6L1703.7 999.2L1704.7 986.9L1705.7 991.5L1706.7 994.3L1707.7 988.5L1708.7 987.3L1709.7 989.4L1710.7 992L1711.7 987.2L1712.7 983.2L1713.7 986.1L1714.7 989.4L1715.7 983.5L1716.7 993.2L1717.7 985.5L1718.7 990.7L1719.7 986.8L1720.7 991.3L1721.7 985.2L1722.7 987.7L1723.7 990.5L1724.7 981.1L1725.7 981.8L1726.7 980.9L1727.7 986.6L1728.7 997L1729.7 999.3L1730.7 1009.3L1731.7 1000.4L1732.7 985.5L1733.7 979.4L1734.7 977.7L1735.7 977L1736.7 976.3L1737.7 979.4L1738.7 992.5L1739.7 990.7L1740.7 982.9L1741.7 982.3L1742.7 984.7L1743.7 986.3L1744.7 986.4L1745.7 987.1L1746.7 988.9L1747.7 993.3L1748.7 984.4L1749.7 988.7L1750.7 990.3L1751.7 985.1L1752.7 988.2L1753.7 990.2L1754.7 980.1L1755.7 983.4L1756.7 969.8L1757.7 972.6L1758.7 978L1759.7 981.5L1760.7 985.5L1761.7 998.5L1762.7 1004.3L1763.7 993.1L1764.7 998L1765.7 990.4L1766.7 995.7L1767.7 989.8L1768.7 993.6L1769.7 990L1770.7 995L1771.7 997.6L1772.7 989.8L1773.7 993.5L1774.7 1002.3L1775.7 993.7L1776.7 996L1777.7 997.3L1778.7 994.9L1779.7 994.2L1780.7 991.1L1781.7 992.8L1782.7 995.4L1783.7 988.3L1784.7 982.3L1785.7 990.8L1786.7 984.7" stroke="#77AC30"/>
</g>
<path d="M1018.1 1173.1v-8M1018.1 749.3v8M1080.6 1173.1v-5M1080.6 749.3v5M1117.2 1173.1v-5M1117.2 749.3v5M1143.2 1173.1v-5M1143.2 749.3v5M1163.3 1173.1v-5M1163.3 749.3v5M1179.7 1173.1v-5M1179.7 749.3v5M1193.6 1173.1v-5M1193.6 749.3v5M1205.7 1173.1v-5M1205.7 749.3v5M1216.3 1173.1v-5M1216.3 749.3v5M1225.8 1173.1v-8M1225.8 749.3v8M1288.3 1173.1v-5M1288.3 749.3v5M1324.9 1173.1v-5M1324.9 749.3v5M1350.9 1173.1v-5M1350.9 749.3v5M1371 1173.1v-5M1371 749.3v5M1387.4 1173.1v-5M1387.4 749.3v5M1401.3 1173.1v-5M1401.3 749.3v5M1413.4 1173.1v-5M1413.4 749.3v5M1424 1173.1v-5M1424 749.3v5M1433.5 1173.1v-8M1433.5 749.3v8M1496 1173.1v-5M1496 749.3v5M1532.6 1173.1v-5M1532.6 749.3v5M1558.6 1173.1v-5M1558.6 749.3v5M1578.7 1173.1v-5M1578.7 749.3v5M1595.1 1173.1v-5M1595.1 749.3v5M1609 1173.1v-5M1609 749.3v5M1621.1 1173.1v-5M1621.1 749.3v5M1631.7 1173.1v-5M1631.7 749.3v5M1641.2 1173.1v-8M1641.2 749.3v8M1703.7 1173.1v-5M1703.7 749.3v5M1740.3 1173.1v-5M1740.3 749.3v5M1766.3 1173.1v-5M1766.3 749.3v5M1786.4 1173.1v-5M1786.4 749.3v5M1018.1 1173.1h8M1786.4 1173.1h-8M1018.1 1132.9h5M1786.4 1132.9h-5M1018.1 1109.5h5M1786.4 1109.5h-5M1018.1 1092.8h5M1786.4 1092.8h-5M1018.1 1079.9h5M1786.4 1079.9h-5M1018.1 1069.3h5M1786.4 1069.3h-5M1018.1 1060.4h5M1786.4 1060.4h-5M1018.1 1052.6h5M1786.4 1052.6h-5M1018.1 1045.8h5M1786.4 1045.8h-5M1018.1 1039.7h8M1786.4 1039.7h-8M1018.1 999.5h5M1786.4 999.5h-5M1018.1 976.1h5M1786.4 976.1h-5M1018.1 959.4h5M1786.4 959.4h-5M1018.1 946.5h5M1786.4 946.5h-5M1018.1 935.9h5M1786.4 935.9h-5M1018.1 927h5M1786.4 927h-5M1018.1 919.2h5M1786.4 919.2h-5M1018.1 912.4h5M1786.4 912.4h-5M1018.1 906.3h8M1786.4 906.3h-8M1018.1 866.1h5M1786.4 866.1h-5M1018.1 842.7h5M1786.4 842.7h-5M1018.1 826h5M1786.4 826h-5M1018.1 813.1h5M1786.4 813.1h-5M1018.1 802.5h5M1786.4 802.5h-5M1018.1 793.6h5M1786.4 793.6h-5M1018.1 785.8h5M1786.4 785.8h-5M1018.1 779h5M1786.4 779h-5M1018.1 772.9h8M1786.4 772.9h-8" stroke="#000" stroke-width="1.9" fill="none"/>
<rect x="1018.1" y="749.3" width="768.3" height="423.8" fill="none" stroke="#000" stroke-width="2.1"/>
<path d="M1787 748.3V1174.1" stroke="#000" stroke-width="2.4"/>
<text x="1018.1" y="1205.6" font-size="24" text-anchor="middle">10<tspan font-size="17" dy="-10">−1</tspan></text>
<text x="1225.8" y="1205.6" font-size="24" text-anchor="middle">10<tspan font-size="17" dy="-10">0</tspan></text>
<text x="1433.5" y="1205.6" font-size="24" text-anchor="middle">10<tspan font-size="17" dy="-10">1</tspan></text>
<text x="1641.2" y="1205.6" font-size="24" text-anchor="middle">10<tspan font-size="17" dy="-10">2</tspan></text>
<text x="1006.6" y="1182.6" font-size="24" text-anchor="end">10<tspan font-size="17" dy="-10">−2</tspan></text>
<text x="1006.6" y="1049.2" font-size="24" text-anchor="end">10<tspan font-size="17" dy="-10">−1</tspan></text>
<text x="1006.6" y="915.8" font-size="24" text-anchor="end">10<tspan font-size="17" dy="-10">0</tspan></text>
<text x="1006.6" y="782.4" font-size="24" text-anchor="end">10<tspan font-size="17" dy="-10">1</tspan></text>
<text x="1402.2" y="739.2" font-size="25" text-anchor="middle">Allan variation curve -REF3312</text>
<text x="1402.2" y="1241.5" font-size="25" text-anchor="middle">Time (s)</text>
<text transform="translate(935.3 961.2) rotate(-90)" font-size="25" text-anchor="middle">Allan variation (°/h)</text>
<text x="1523.5" y="798.8" font-size="25">Mean = 0.240°/h</text>
<text x="1523.5" y="830.5" font-size="25">Std = 0.0151°/h</text>
<rect x="1116.1" y="1052.4" width="580.6" height="27.8" fill="#fff" stroke="#a0a0a0" stroke-width="1.2"/>
<path d="M1120.6 1066.3h27.5" stroke="#0072BD" stroke-width="1.7"/>
<text x="1155.6" y="1072.1" font-size="16.4">Sample1</text>
<path d="M1235.1 1066.3h27.5" stroke="#D95319" stroke-width="1.7"/>
<text x="1270.1" y="1072.1" font-size="16.4">Sample2</text>
<path d="M1349.6 1066.3h27.5" stroke="#EDB120" stroke-width="1.7"/>
<text x="1384.6" y="1072.1" font-size="16.4">Sample3</text>
<path d="M1464.1 1066.3h27.5" stroke="#7E2F8E" stroke-width="1.7"/>
<text x="1499.1" y="1072.1" font-size="16.4">Sample4</text>
<path d="M1578.6 1066.3h27.5" stroke="#77AC30" stroke-width="1.7"/>
<text x="1613.6" y="1072.1" font-size="16.4">Sample5</text>
<text x="913.6" y="751.3" font-size="42">e</text>
<clipPath id="clipf"><rect x="98.1" y="1340.3" width="768" height="435.4"/></clipPath>
<path d="M160.6 1340.3V1775.7M197.2 1340.3V1775.7M223.1 1340.3V1775.7M243.2 1340.3V1775.7M259.7 1340.3V1775.7M273.6 1340.3V1775.7M285.6 1340.3V1775.7M296.2 1340.3V1775.7M305.7 1340.3V1775.7M368.2 1340.3V1775.7M404.8 1340.3V1775.7M430.7 1340.3V1775.7M450.8 1340.3V1775.7M467.3 1340.3V1775.7M481.2 1340.3V1775.7M493.2 1340.3V1775.7M503.9 1340.3V1775.7M513.4 1340.3V1775.7M575.9 1340.3V1775.7M612.4 1340.3V1775.7M638.4 1340.3V1775.7M658.5 1340.3V1775.7M674.9 1340.3V1775.7M688.8 1340.3V1775.7M700.9 1340.3V1775.7M711.5 1340.3V1775.7M721 1340.3V1775.7M783.5 1340.3V1775.7M820 1340.3V1775.7M846 1340.3V1775.7M98.1 1734.4H866.1M98.1 1710.2H866.1M98.1 1693.1H866.1M98.1 1679.8H866.1M98.1 1668.9H866.1M98.1 1659.8H866.1M98.1 1651.8H866.1M98.1 1644.8H866.1M98.1 1638.5H866.1M98.1 1597.2H866.1M98.1 1573H866.1M98.1 1555.9H866.1M98.1 1542.6H866.1M98.1 1531.7H866.1M98.1 1522.6H866.1M98.1 1514.6H866.1M98.1 1507.6H866.1M98.1 1501.3H866.1M98.1 1460H866.1M98.1 1435.8H866.1M98.1 1418.7H866.1M98.1 1405.4H866.1M98.1 1394.5H866.1M98.1 1385.4H866.1M98.1 1377.4H866.1M98.1 1370.4H866.1M98.1 1364.1H866.1" stroke="#c4c4c4" stroke-width="1.1" stroke-dasharray="5 2.6" fill="none"/>
<g clip-path="url(#clipf)" fill="none" stroke-width="1.9" stroke-linejoin="round">
<path d="M98.1 1344.4L101.1 1345.5L104.1 1346.5L107.1 1347.6L110.1 1348.7L113.1 1349.8L116.1 1350.8L119.1 1351.9L122.1 1353L125.1 1354L128.1 1355.1L131.1 1356.2L134.1 1357.2L137.1 1358.3L140.1 1359.3L143.1 1360.4L146.1 1361.4L149.1 1362.4L152.1 1363.5L155.1 1364.5L158.1 1365.5L161.1 1366.6L164.1 1367.6L167.1 1368.6L170.1 1369.6L173.1 1370.7L176.1 1371.7L179.1 1372.7L182.1 1373.7L185.1 1374.7L188.1 1375.7L191.1 1376.7L194.1 1377.7L197.1 1378.7L200.1 1379.7L203.1 1380.7L206.1 1381.7L209.1 1382.7L212.1 1383.7L215.1 1384.7L218.1 1385.7L221.1 1386.6L224.1 1387.6L227.1 1388.6L230.1 1389.6L233.1 1390.5L236.1 1391.5L239.1 1392.5L242.1 1393.4L245.1 1394.4L247.1 1395L249.1 1395.6L251.1 1396.3L253.1 1396.9L255.1 1397.6L257.1 1398.1L259.1 1398.8L261.1 1399.4L263.1 1399.9L265.1 1400.6L267.1 1401.2L269.1 1401.7L271.1 1402.3L273.1 1402.8L275.1 1403.9L277.1 1404.2L279.1 1404.9L281.1 1405.7L283.1 1406.1L285.1 1407L287.1 1407.9L289.1 1408.2L291.1 1408.7L293.1 1408.8L295.1 1409.9L297.1 1410.5L299.1 1411.3L301.1 1411.5L303.1 1412.1L305.1 1412.7L307.1 1413.9L309.1 1414.4L311.1 1415.6L313.1 1415.3L315.1 1416.6L317.1 1417.7L319.1 1416.8L321.1 1417.7L323.1 1418.3L325.1 1419L327.1 1420.2L329.1 1420L331.1 1421.6L333.1 1420.9L335.1 1422.2L337.1 1424L339.1 1423.2L341.1 1423.2L343.1 1424.9L345.1 1424.7L347.1 1425.9L349.1 1426.7L351.1 1428.6L353.1 1426.7L355.1 1428.4L357.1 1428.4L359.1 1430.2L361.1 1430.6L363.1 1429.8L365.1 1431.6L367.1 1432.3L369.1 1433.8L370.5 1433L371.9 1433.2L373.3 1434.9L374.7 1435.2L376.1 1436.8L377.5 1435L378.9 1437.3L380.3 1437.2L381.7 1435.9L383.1 1437.9L384.5 1439.6L385.9 1439.3L387.3 1439L388.7 1437.3L390.1 1439.2L391.5 1440.3L392.9 1439.9L394.3 1440.1L395.7 1443.2L397.1 1441.5L398.5 1442.7L399.9 1443.6L401.3 1447.8L402.7 1444.8L404.1 1444L405.5 1446.5L406.9 1444L408.3 1447.1L409.7 1449.2L411.1 1447.3L412.5 1447.9L413.9 1447.4L415.3 1449.1L416.7 1447.3L418.1 1450.4L419.5 1449.8L420.9 1452.8L422.3 1452.9L423.7 1452L425.1 1454.4L426.5 1454.8L427.9 1455.1L429.3 1455L430.7 1454.9L432.1 1455.4L433.5 1455.5L434.9 1457.3L436.3 1459.2L437.7 1461.9L439.1 1459.9L440.5 1461.6L441.9 1464.5L443.3 1458.3L444.7 1465.8L446.1 1461.4L447.5 1461.3L448.9 1463.2L450.3 1458.4L451.7 1464L453.1 1466.7L454.5 1462.3L455.9 1468.5L457.3 1470.9L458.7 1470.6L460.1 1470.3L461.5 1469.4L462.9 1469.7L464.3 1475.1L465.7 1471L467.1 1467.5L468.5 1474.3L469.9 1472.9L471.3 1471.3L472.7 1470.5L473.7 1475.1L474.7 1476.4L475.7 1476.9L476.7 1472.1L477.7 1472.8L478.7 1481.1L479.7 1481.4L480.7 1479.1L481.7 1480.1L482.7 1475.3L483.7 1476.3L484.7 1473L485.7 1476.3L486.7 1478.5L487.7 1476.4L488.7 1481.9L489.7 1483.2L490.7 1478.6L491.7 1476.1L492.7 1483.1L493.7 1476.1L494.7 1476.5L495.7 1480.7L496.7 1479.5L497.7 1481.5L498.7 1481L499.7 1479.9L500.7 1485.1L501.7 1480.7L502.7 1481.9L503.7 1482.7L504.7 1492.4L505.7 1493.1L506.7 1486.1L507.7 1490.6L508.7 1491.5L509.7 1492L510.7 1494.2L511.7 1490.8L512.7 1492.4L513.7 1492.2L514.7 1488.6L515.7 1494L516.7 1486.9L517.7 1497.8L518.7 1483.2L519.7 1495L520.7 1488.7L521.7 1488.2L522.7 1491.3L523.7 1489.7L524.7 1492.7L525.7 1499.2L526.7 1491.7L527.7 1489.2L528.7 1494.2L529.7 1498.1L530.7 1493.7L531.7 1490.4L532.7 1490.6L533.7 1488.6L534.7 1490.5L535.7 1490.9L536.7 1500.5L537.7 1486.3L538.7 1493.7L539.7 1492.4L540.7 1497.9L541.7 1498.7L542.7 1499.3L543.7 1495.6L544.7 1496.5L545.7 1499.5L546.7 1495L547.7 1502.7L548.7 1499L549.7 1502.3L550.7 1496.1L551.7 1500.1L552.7 1497L553.7 1494.4L554.7 1509.1L555.7 1492.6L556.7 1498.8L557.7 1501.5L558.7 1509.3L559.7 1503.1L560.7 1513.1L561.7 1503.2L562.7 1504.7L563.7 1497.6L564.7 1505.3L565.7 1499.7L566.7 1499.2L567.7 1496.2L568.7 1505.4L569.7 1502L570.7 1512.6L571.7 1511L572.7 1507.3L573.7 1506.3L574.7 1512.2L575.7 1508.5L576.7 1504.2L577.7 1509.7L578.7 1508.8L579.7 1512.8L580.7 1503.3L581.7 1502L582.7 1508.5L583.7 1510.2L584.7 1503.3L585.7 1508.5L586.7 1514.7L587.7 1519.2L588.7 1516.3L589.7 1505.1L590.7 1518.2L591.7 1504.1L592.7 1517L593.7 1518.9L594.7 1512.5L595.7 1519.3L596.7 1515.8L597.7 1522.4L598.7 1522.9L599.7 1519.8L600.7 1515L601.7 1520.7L602.7 1529.5L603.7 1517.5L604.7 1521.4L605.7 1522.4L606.7 1523.9L607.7 1532.6L608.7 1511.1L609.7 1520.1L610.7 1513.9L611.7 1509.3L612.7 1510.2L613.7 1514.7L614.7 1516.3L615.7 1515.9L616.7 1514.1L617.7 1516.8L618.7 1523.4L619.7 1519.2L620.7 1520L621.7 1518.6L622.7 1520.9L623.7 1515.3L624.7 1521.7L625.7 1519.4L626.7 1524.8L627.7 1529.6L628.7 1532.5L629.7 1527L630.7 1522.1L631.7 1516.8L632.7 1522.6L633.7 1524.6L634.7 1524.7L635.7 1515.4L636.7 1523.4L637.7 1529.4L638.7 1523.7L639.7 1538.2L640.7 1529.1L641.7 1530.2L642.7 1530.7L643.7 1537.9L644.7 1524.3L645.7 1520.6L646.7 1539.9L647.7 1530.1L648.7 1527.3L649.7 1518.2L650.7 1534.4L651.7 1538.8L652.7 1532.2L653.7 1520.8L654.7 1532.1L655.7 1530.8L656.7 1521.6L657.7 1548.3L658.7 1548.3L659.7 1525.5L660.7 1525.9L661.7 1541.8L662.7 1528.5L663.7 1532.7L664.7 1533.2L665.7 1542.6L666.7 1540.9L667.7 1544.6L668.7 1536.4L669.7 1537.3L670.7 1523.4L671.7 1529.7L672.7 1547.3L673.7 1532.4L674.7 1526.9L675.7 1535.7L676.7 1531.3L677.7 1539.1L678.7 1534L679.7 1546.9L680.7 1534L681.7 1552.4L682.7 1532.5L683.7 1555.9L684.7 1562.5L685.7 1540.8L686.7 1546.5L687.7 1544.1L688.7 1541.2L689.7 1543.7L690.7 1550.8L691.7 1540.1L692.7 1538.5L693.7 1537.2L694.7 1526.8L695.7 1549.5L696.7 1543.8L697.7 1542.1L698.7 1552.2L699.7 1560.9L700.7 1555.5L701.7 1542.1L702.7 1552.9L703.7 1545.6L704.7 1557.8L705.7 1547.6L706.7 1558.9L707.7 1561.4L708.7 1552.4L709.7 1552.9L710.7 1541.1L711.7 1568.9L712.7 1546.8L713.7 1536.8L714.7 1537.9L715.7 1553L716.7 1557.3L717.7 1557L718.7 1551.2L719.7 1554.3L720.7 1555L721.7 1553.9L722.7 1570.7L723.7 1570.3L724.7 1570.2L725.7 1570.7L726.7 1557L727.7 1554.8L728.7 1537.7L729.7 1558L730.7 1564.8L731.7 1553.3L732.7 1574.3L733.7 1561.3L734.7 1554.2L735.7 1554.7L736.7 1557.2L737.7 1564.7L738.7 1575.7L739.7 1562.7L740.7 1568.5L741.7 1555.3L742.7 1564.2L743.7 1557.7L744.7 1583.3L745.7 1553.5L746.7 1573.1L747.7 1581.8L748.7 1579.9L749.7 1571.3L750.7 1553.1L751.7 1558.2L752.7 1581.4L753.7 1565.4L754.7 1567.8L755.7 1587.6L756.7 1580.7L757.7 1595.9L758.7 1581.3L759.7 1606.7L760.7 1582.4L761.7 1585.1L762.7 1584L763.7 1585L764.7 1561.8L765.7 1578.6L766.7 1570.2L767.7 1562.8L768.7 1558.7L769.7 1558.3L770.7 1570.7L771.7 1576.7L772.7 1571.8L773.7 1568.4L774.7 1563.8L775.7 1567.8L776.7 1558.2L777.7 1574.4L778.7 1557.1L779.7 1567.6L780.7 1586.7L781.7 1572.2L782.7 1621.3L783.7 1567.5L784.7 1577.2L785.7 1576.5L786.7 1602.8L787.7 1552.3L788.7 1581.6L789.7 1579.4L790.7 1564.9L791.7 1578.9L792.7 1587.5L793.7 1568.6L794.7 1589L795.7 1566.9L796.7 1573L797.7 1563.2L798.7 1592.9L799.7 1565.2L800.7 1577.9L801.7 1563.6L802.7 1596.8L803.7 1570.9L804.7 1584.4L805.7 1583.5L806.7 1600.7L807.7 1583.4L808.7 1580.8L809.7 1598L810.7 1602.1L811.7 1597.7L812.7 1573.5L813.7 1588.9L814.7 1581.6L815.7 1588.6L816.7 1590.5L817.7 1589.7L818.7 1597.9L819.7 1580L820.7 1592.1L821.7 1593L822.7 1615.4L823.7 1593.5L824.7 1605.4L825.7 1601.3L826.7 1581.1L827.7 1604.6L828.7 1590.4L829.7 1579.7L830.7 1574.4L831.7 1595.3L832.7 1587.7L833.7 1591.3L834.7 1612.2L835.7 1627.2L836.7 1624.4L837.7 1591.2L838.7 1595.3L839.7 1613.1L840.7 1602L841.7 1597.4L842.7 1596.1L843.7 1591.6L844.7 1568.9L845.7 1604.6L846.7 1595L847.7 1610L848.7 1610.8L849.7 1615.9L850.7 1607.5L851.7 1611.3L852.7 1598.2L853.7 1597.1L854.7 1609.2L855.7 1575.4L856.7 1611.2L857.7 1592.2L858.7 1574.8L859.7 1609.8L860.7 1588.2L861.7 1588.2L862.7 1599.4L863.7 1626.9L864.7 1585L865.7 1597.8L866.7 1606.2" stroke="#0072BD"/>
<path d="M98.1 1350.5L101.1 1351.6L104.1 1352.7L107.1 1353.8L110.1 1354.9L113.1 1356L116.1 1357.1L119.1 1358.1L122.1 1359.2L125.1 1360.3L128.1 1361.4L131.1 1362.4L134.1 1363.5L137.1 1364.6L140.1 1365.6L143.1 1366.7L146.1 1367.7L149.1 1368.8L152.1 1369.8L155.1 1370.9L158.1 1371.9L161.1 1372.9L164.1 1374L167.1 1375L170.1 1376.1L173.1 1377.1L176.1 1378.1L179.1 1379.1L182.1 1380.2L185.1 1381.2L188.1 1382.2L191.1 1383.2L194.1 1384.2L197.1 1385.3L200.1 1386.3L203.1 1387.3L206.1 1388.3L209.1 1389.3L212.1 1390.3L215.1 1391.3L218.1 1392.3L221.1 1393.3L224.1 1394.3L227.1 1395.3L230.1 1396.3L233.1 1397.2L236.1 1398.2L239.1 1399.2L242.1 1400.2L245.1 1401.2L247.1 1401.8L249.1 1402.4L251.1 1403.1L253.1 1403.7L255.1 1404.3L257.1 1405L259.1 1405.7L261.1 1406.2L263.1 1406.9L265.1 1407.7L267.1 1408.2L269.1 1408.6L271.1 1409.4L273.1 1409.8L275.1 1410.4L277.1 1411.2L279.1 1411.7L281.1 1412.6L283.1 1413.1L285.1 1413.8L287.1 1414.2L289.1 1415.2L291.1 1415.6L293.1 1416.2L295.1 1416.8L297.1 1418.1L299.1 1418.6L301.1 1419L303.1 1419.4L305.1 1419.9L307.1 1420.5L309.1 1420.7L311.1 1421.6L313.1 1422.3L315.1 1423.3L317.1 1423.5L319.1 1424.1L321.1 1424.8L323.1 1425.7L325.1 1426.1L327.1 1426.3L329.1 1427.9L331.1 1429.2L333.1 1428.3L335.1 1428.9L337.1 1429.9L339.1 1430.7L341.1 1429.7L343.1 1432L345.1 1433.2L347.1 1433.4L349.1 1433.6L351.1 1435.1L353.1 1435.7L355.1 1436.1L357.1 1437.3L359.1 1437.7L361.1 1438.5L363.1 1440L365.1 1439.7L367.1 1441.4L369.1 1440.4L370.5 1442.3L371.9 1442.1L373.3 1444L374.7 1443.1L376.1 1444.2L377.5 1442L378.9 1443.6L380.3 1443.3L381.7 1446L383.1 1446.1L384.5 1445.6L385.9 1447.6L387.3 1445.8L388.7 1447.9L390.1 1447.9L391.5 1448.2L392.9 1449.1L394.3 1448.6L395.7 1450.7L397.1 1450L398.5 1449.7L399.9 1451.2L401.3 1451.8L402.7 1452.7L404.1 1452.5L405.5 1452.1L406.9 1453.6L408.3 1456.2L409.7 1454L411.1 1455L412.5 1454.8L413.9 1456.1L415.3 1455.1L416.7 1459.9L418.1 1460.5L419.5 1458.9L420.9 1462.1L422.3 1460.4L423.7 1461.2L425.1 1465L426.5 1460.8L427.9 1460.3L429.3 1462.6L430.7 1466.3L432.1 1463.1L433.5 1466.8L434.9 1465.4L436.3 1464.8L437.7 1467.3L439.1 1469.6L440.5 1466.9L441.9 1467.4L443.3 1470L444.7 1470.8L446.1 1468.6L447.5 1470.9L448.9 1472.4L450.3 1473.2L451.7 1471.9L453.1 1472.4L454.5 1473.4L455.9 1476.9L457.3 1475.2L458.7 1476.7L460.1 1475.9L461.5 1474.9L462.9 1476.2L464.3 1477.7L465.7 1479.5L467.1 1481.3L468.5 1480.4L469.9 1482.9L471.3 1483.1L472.7 1485L473.7 1483.3L474.7 1483.6L475.7 1479.7L476.7 1482.5L477.7 1484.8L478.7 1482.3L479.7 1485.3L480.7 1482.1L481.7 1483L482.7 1479.1L483.7 1489L484.7 1487.1L485.7 1488.1L486.7 1488.1L487.7 1488L488.7 1492.8L489.7 1492.3L490.7 1489.5L491.7 1488L492.7 1493.8L493.7 1495.6L494.7 1489.2L495.7 1490.8L496.7 1491.1L497.7 1497.2L498.7 1495.1L499.7 1493.9L500.7 1493L501.7 1494.1L502.7 1493.5L503.7 1490.5L504.7 1494.1L505.7 1494.5L506.7 1494.3L507.7 1495.1L508.7 1494L509.7 1495.8L510.7 1497.2L511.7 1492.8L512.7 1496.1L513.7 1498.4L514.7 1494.4L515.7 1499.9L516.7 1498.6L517.7 1499.3L518.7 1501.3L519.7 1500.8L520.7 1499.3L521.7 1504.6L522.7 1501.2L523.7 1499.5L524.7 1499.7L525.7 1499.8L526.7 1494.6L527.7 1499.3L528.7 1501.9L529.7 1502L530.7 1501.9L531.7 1500.9L532.7 1503.7L533.7 1498.9L534.7 1507.7L535.7 1502.5L536.7 1503.5L537.7 1509.9L538.7 1504.6L539.7 1505.5L540.7 1510.2L541.7 1501.7L542.7 1507.1L543.7 1510.9L544.7 1511.7L545.7 1512.6L546.7 1508.5L547.7 1508.5L548.7 1513.8L549.7 1512L550.7 1510.8L551.7 1510.2L552.7 1511L553.7 1513.4L554.7 1509.9L555.7 1510L556.7 1513.8L557.7 1523.9L558.7 1516.1L559.7 1513.8L560.7 1515.9L561.7 1514.4L562.7 1514.6L563.7 1521L564.7 1525.3L565.7 1512.3L566.7 1516.9L567.7 1513.5L568.7 1516.6L569.7 1516.3L570.7 1511.2L571.7 1521.6L572.7 1516.5L573.7 1521.3L574.7 1516L575.7 1514.7L576.7 1514.4L577.7 1516.7L578.7 1524.3L579.7 1517.8L580.7 1516.3L581.7 1516.7L582.7 1513.4L583.7 1520L584.7 1527.7L585.7 1525.8L586.7 1523L587.7 1519.1L588.7 1528.2L589.7 1519L590.7 1520.3L591.7 1527.8L592.7 1522L593.7 1529.4L594.7 1526.5L595.7 1528.7L596.7 1526.6L597.7 1533.9L598.7 1526.2L599.7 1539.9L600.7 1530.7L601.7 1531.2L602.7 1521.5L603.7 1525.4L604.7 1530.2L605.7 1532.6L606.7 1528.4L607.7 1533.1L608.7 1521.5L609.7 1547.2L610.7 1532.4L611.7 1546.9L612.7 1529.1L613.7 1537.9L614.7 1526L615.7 1535.7L616.7 1527.6L617.7 1531.7L618.7 1527.7L619.7 1533.4L620.7 1551.5L621.7 1539.2L622.7 1544.7L623.7 1531.7L624.7 1534L625.7 1537L626.7 1535.4L627.7 1536.7L628.7 1540.8L629.7 1527.5L630.7 1535L631.7 1536.9L632.7 1544.9L633.7 1540.1L634.7 1536.9L635.7 1538.7L636.7 1540.9L637.7 1538.2L638.7 1545L639.7 1537.6L640.7 1547.6L641.7 1543.3L642.7 1543.2L643.7 1534.8L644.7 1538L645.7 1541.8L646.7 1551.7L647.7 1548.2L648.7 1542.3L649.7 1540.2L650.7 1556.7L651.7 1549L652.7 1544.8L653.7 1543.2L654.7 1545L655.7 1541.6L656.7 1556.2L657.7 1537.8L658.7 1555.4L659.7 1547.3L660.7 1544.7L661.7 1540.6L662.7 1541.4L663.7 1540.9L664.7 1538.1L665.7 1546.6L666.7 1541.6L667.7 1538.2L668.7 1554.7L669.7 1561.6L670.7 1560.3L671.7 1545.2L672.7 1546.6L673.7 1557L674.7 1552.4L675.7 1550.4L676.7 1546.2L677.7 1567.4L678.7 1556.6L679.7 1554.2L680.7 1549.9L681.7 1550.9L682.7 1553.2L683.7 1547.9L684.7 1570.7L685.7 1529.1L686.7 1543.6L687.7 1543.7L688.7 1555.9L689.7 1548.5L690.7 1538.5L691.7 1540.6L692.7 1552.5L693.7 1564L694.7 1551.8L695.7 1555.1L696.7 1545.6L697.7 1562.2L698.7 1551.9L699.7 1547.9L700.7 1554L701.7 1542.4L702.7 1560.7L703.7 1562.1L704.7 1554.4L705.7 1545.6L706.7 1555L707.7 1558.4L708.7 1548L709.7 1553.5L710.7 1561.3L711.7 1556L712.7 1559.8L713.7 1552.9L714.7 1556L715.7 1564.4L716.7 1560.2L717.7 1558.6L718.7 1551L719.7 1550.6L720.7 1562L721.7 1555.6L722.7 1551.1L723.7 1544.4L724.7 1550.6L725.7 1536.7L726.7 1552.6L727.7 1547.8L728.7 1558.9L729.7 1568L730.7 1557.9L731.7 1555.6L732.7 1556.9L733.7 1557.7L734.7 1561.6L735.7 1566.1L736.7 1559.5L737.7 1551.4L738.7 1546.9L739.7 1593.3L740.7 1552.3L741.7 1550.7L742.7 1552L743.7 1562.4L744.7 1560.9L745.7 1571.7L746.7 1565.9L747.7 1557.7L748.7 1573.1L749.7 1567.8L750.7 1556L751.7 1575L752.7 1559.9L753.7 1580.6L754.7 1562.4L755.7 1565.5L756.7 1574.3L757.7 1580.2L758.7 1575.2L759.7 1597.3L760.7 1574L761.7 1567.9L762.7 1557.7L763.7 1577L764.7 1573.7L765.7 1558.6L766.7 1556.2L767.7 1580.4L768.7 1564L769.7 1562.4L770.7 1567.9L771.7 1584.5L772.7 1583L773.7 1564.6L774.7 1547.2L775.7 1572.9L776.7 1555.7L777.7 1553.2L778.7 1588.8L779.7 1581.7L780.7 1560.5L781.7 1567.6L782.7 1574L783.7 1582.1L784.7 1578.2L785.7 1594.4L786.7 1562.4L787.7 1602L788.7 1609.9L789.7 1584.8L790.7 1571.3L791.7 1591.2L792.7 1584.9L793.7 1596.7L794.7 1584.1L795.7 1596.1L796.7 1595.8L797.7 1601.7L798.7 1589.9L799.7 1564.2L800.7 1583.2L801.7 1580.3L802.7 1559.8L803.7 1589.2L804.7 1592.5L805.7 1572.4L806.7 1591.3L807.7 1570.3L808.7 1561.6L809.7 1588L810.7 1582.9L811.7 1562.3L812.7 1595.6L813.7 1592.4L814.7 1581.5L815.7 1586.7L816.7 1591.9L817.7 1563.5L818.7 1585.7L819.7 1574.2L820.7 1582.9L821.7 1581.4L822.7 1597.6L823.7 1572.1L824.7 1587.4L825.7 1568.3L826.7 1593.9L827.7 1582.8L828.7 1569.6L829.7 1571.8L830.7 1581.1L831.7 1575.2L832.7 1591.5L833.7 1575.6L834.7 1611.6L835.7 1576.8L836.7 1566.2L837.7 1572.3L838.7 1574.4L839.7 1589.4L840.7 1579.3L841.7 1588.7L842.7 1583.8L843.7 1583.6L844.7 1626.3L845.7 1574.8L846.7 1580.4L847.7 1576.7L848.7 1596.2L849.7 1574.2L850.7 1572.6L851.7 1602.8L852.7 1594.8L853.7 1571.6L854.7 1582.4L855.7 1576.7L856.7 1587.2L857.7 1565.8L858.7 1605.9L859.7 1598.7L860.7 1592.7L861.7 1596.5L862.7 1585.5L863.7 1578.4L864.7 1596.3L865.7 1577.2L866.7 1569.8" stroke="#D95319"/>
<path d="M98.1 1345.7L101.1 1346.8L104.1 1347.9L107.1 1349L110.1 1350.1L113.1 1351.2L116.1 1352.3L119.1 1353.3L122.1 1354.4L125.1 1355.5L128.1 1356.6L131.1 1357.6L134.1 1358.7L137.1 1359.7L140.1 1360.8L143.1 1361.9L146.1 1362.9L149.1 1364L152.1 1365L155.1 1366.1L158.1 1367.1L161.1 1368.1L164.1 1369.2L167.1 1370.2L170.1 1371.3L173.1 1372.3L176.1 1373.3L179.1 1374.3L182.1 1375.4L185.1 1376.4L188.1 1377.4L191.1 1378.4L194.1 1379.4L197.1 1380.4L200.1 1381.5L203.1 1382.5L206.1 1383.5L209.1 1384.5L212.1 1385.5L215.1 1386.5L218.1 1387.5L221.1 1388.5L224.1 1389.5L227.1 1390.5L230.1 1391.4L233.1 1392.4L236.1 1393.4L239.1 1394.4L242.1 1395.4L245.1 1396.4L247.1 1397L249.1 1397.7L251.1 1398.3L253.1 1398.9L255.1 1399.5L257.1 1400.2L259.1 1400.8L261.1 1401.4L263.1 1402.1L265.1 1402.6L267.1 1403.2L269.1 1403.9L271.1 1404.5L273.1 1405.1L275.1 1405.7L277.1 1406.3L279.1 1406.9L281.1 1407.5L283.1 1408.3L285.1 1408.9L287.1 1409.7L289.1 1410.1L291.1 1410.6L293.1 1411.1L295.1 1411.9L297.1 1412.6L299.1 1413.4L301.1 1413.8L303.1 1414.8L305.1 1415.1L307.1 1415.8L309.1 1416.7L311.1 1416.9L313.1 1417.7L315.1 1418.1L317.1 1419L319.1 1419.3L321.1 1419.6L323.1 1420.7L325.1 1421.1L327.1 1422.4L329.1 1422.9L331.1 1424.4L333.1 1424.1L335.1 1425.3L337.1 1425.3L339.1 1427.1L341.1 1427.1L343.1 1427.2L345.1 1427.6L347.1 1429.4L349.1 1429.2L351.1 1428.1L353.1 1429.7L355.1 1430.8L357.1 1433.8L359.1 1433.3L361.1 1433L363.1 1433.9L365.1 1434.5L367.1 1434.8L369.1 1436.1L370.5 1436L371.9 1438.6L373.3 1435.5L374.7 1437.9L376.1 1438.6L377.5 1437.1L378.9 1438.1L380.3 1438.2L381.7 1440.1L383.1 1439.7L384.5 1439.9L385.9 1442.4L387.3 1442.1L388.7 1442.9L390.1 1443.7L391.5 1444.8L392.9 1446.1L394.3 1444.6L395.7 1445.1L397.1 1444.4L398.5 1445.8L399.9 1446.9L401.3 1448.4L402.7 1446.9L404.1 1448L405.5 1446L406.9 1446.4L408.3 1447.9L409.7 1451.8L411.1 1453.4L412.5 1452.3L413.9 1454.1L415.3 1451.6L416.7 1453.8L418.1 1455.2L419.5 1455L420.9 1453.8L422.3 1457.5L423.7 1455.6L425.1 1459.1L426.5 1457.5L427.9 1458.7L429.3 1457.4L430.7 1458.2L432.1 1457.3L433.5 1458.8L434.9 1461.9L436.3 1464.2L437.7 1464.1L439.1 1464.1L440.5 1464.4L441.9 1466.1L443.3 1463.4L444.7 1464.4L446.1 1467.3L447.5 1468.4L448.9 1468.3L450.3 1468.3L451.7 1468.7L453.1 1472.9L454.5 1470.7L455.9 1474.9L457.3 1471.1L458.7 1470.7L460.1 1475.2L461.5 1472.7L462.9 1474.8L464.3 1475.3L465.7 1470L467.1 1472.4L468.5 1473.6L469.9 1476.4L471.3 1475.2L472.7 1477.5L473.7 1477L474.7 1481.3L475.7 1479.9L476.7 1481.4L477.7 1484.6L478.7 1477.6L479.7 1479.9L480.7 1484.2L481.7 1486.5L482.7 1484.7L483.7 1485.1L484.7 1484.3L485.7 1486.6L486.7 1484.5L487.7 1482L488.7 1481.7L489.7 1489.1L490.7 1484.2L491.7 1487.9L492.7 1489L493.7 1487.6L494.7 1489.4L495.7 1486.3L496.7 1486.8L497.7 1489.7L498.7 1490.8L499.7 1484.3L500.7 1483.8L501.7 1487.1L502.7 1488.4L503.7 1485.7L504.7 1485.1L505.7 1491.1L506.7 1486L507.7 1491.8L508.7 1489.4L509.7 1494.5L510.7 1493.2L511.7 1495.3L512.7 1493.8L513.7 1491.1L514.7 1496.5L515.7 1494L516.7 1491.2L517.7 1494L518.7 1487L519.7 1497.8L520.7 1486.6L521.7 1496.4L522.7 1492.2L523.7 1491.2L524.7 1494.9L525.7 1502L526.7 1498.7L527.7 1497.8L528.7 1496.9L529.7 1495.8L530.7 1495.2L531.7 1493.9L532.7 1501.4L533.7 1494.9L534.7 1504.4L535.7 1497.9L536.7 1503.2L537.7 1507.1L538.7 1498.7L539.7 1502.4L540.7 1499.8L541.7 1509.2L542.7 1507.7L543.7 1503L544.7 1504.9L545.7 1502L546.7 1505.1L547.7 1504.6L548.7 1508.7L549.7 1500.7L550.7 1506.7L551.7 1510.6L552.7 1503.6L553.7 1504.2L554.7 1504.9L555.7 1504.8L556.7 1507.6L557.7 1507.2L558.7 1517.3L559.7 1515.6L560.7 1515.2L561.7 1509.6L562.7 1506.8L563.7 1511.9L564.7 1512.3L565.7 1507.1L566.7 1512.8L567.7 1509.3L568.7 1510.5L569.7 1518.5L570.7 1511.4L571.7 1512L572.7 1518.3L573.7 1518L574.7 1519.3L575.7 1508.5L576.7 1506.1L577.7 1511.8L578.7 1509.3L579.7 1522.4L580.7 1511.1L581.7 1509.1L582.7 1510.2L583.7 1520.6L584.7 1511.1L585.7 1515.2L586.7 1509.9L587.7 1517.1L588.7 1513.8L589.7 1517.1L590.7 1512.8L591.7 1516L592.7 1511.8L593.7 1513.8L594.7 1516L595.7 1518L596.7 1519.2L597.7 1517.1L598.7 1513.6L599.7 1516L600.7 1515.7L601.7 1517.9L602.7 1519.3L603.7 1524L604.7 1532.3L605.7 1520.7L606.7 1521.9L607.7 1530.7L608.7 1517.5L609.7 1533.2L610.7 1522.6L611.7 1526L612.7 1525.5L613.7 1521.1L614.7 1521.1L615.7 1524.3L616.7 1530.2L617.7 1531.2L618.7 1523.6L619.7 1518.4L620.7 1523.1L621.7 1528.6L622.7 1527.4L623.7 1525.8L624.7 1520.7L625.7 1533.6L626.7 1525.7L627.7 1528.9L628.7 1536.6L629.7 1539.8L630.7 1528L631.7 1532.8L632.7 1535L633.7 1531.7L634.7 1525.8L635.7 1529.5L636.7 1521.6L637.7 1532.2L638.7 1536.8L639.7 1533.2L640.7 1539.4L641.7 1535.8L642.7 1527.3L643.7 1525.3L644.7 1532.3L645.7 1536.3L646.7 1545.4L647.7 1547.1L648.7 1538.2L649.7 1538.8L650.7 1542.8L651.7 1540.2L652.7 1526.6L653.7 1528.5L654.7 1533.2L655.7 1532.6L656.7 1527.7L657.7 1534.6L658.7 1537.2L659.7 1552.1L660.7 1554.1L661.7 1556.2L662.7 1559L663.7 1542.1L664.7 1540.9L665.7 1550.9L666.7 1542.7L667.7 1544.2L668.7 1549.1L669.7 1561.6L670.7 1541.6L671.7 1542.3L672.7 1555.7L673.7 1538.4L674.7 1550L675.7 1556L676.7 1552L677.7 1563.5L678.7 1550.5L679.7 1560.9L680.7 1539.5L681.7 1544.5L682.7 1558.4L683.7 1542.3L684.7 1561L685.7 1544.9L686.7 1542.7L687.7 1545.5L688.7 1556.4L689.7 1548.2L690.7 1549.8L691.7 1548.8L692.7 1539.6L693.7 1538.7L694.7 1540L695.7 1557.6L696.7 1558.8L697.7 1551.1L698.7 1546.8L699.7 1567.8L700.7 1552.4L701.7 1532.1L702.7 1557.2L703.7 1553.5L704.7 1555.2L705.7 1546.9L706.7 1553.4L707.7 1557.6L708.7 1570.5L709.7 1551.3L710.7 1556.4L711.7 1563.2L712.7 1556.2L713.7 1549.9L714.7 1571.1L715.7 1571.9L716.7 1566.7L717.7 1565.5L718.7 1588.5L719.7 1562.6L720.7 1546.7L721.7 1559L722.7 1546.5L723.7 1586L724.7 1556.4L725.7 1544.1L726.7 1543.5L727.7 1563.4L728.7 1568.1L729.7 1556.6L730.7 1574.6L731.7 1565.6L732.7 1581L733.7 1561.4L734.7 1562.5L735.7 1548.1L736.7 1559.7L737.7 1571.4L738.7 1566L739.7 1581.9L740.7 1567.5L741.7 1571.2L742.7 1565.4L743.7 1560.8L744.7 1594L745.7 1566.2L746.7 1561.7L747.7 1583.1L748.7 1549.1L749.7 1575L750.7 1540.1L751.7 1554.7L752.7 1552.3L753.7 1559.9L754.7 1554L755.7 1579.1L756.7 1577.4L757.7 1593.3L758.7 1562.3L759.7 1577.3L760.7 1559.9L761.7 1561.4L762.7 1585.9L763.7 1561.6L764.7 1567L765.7 1568.4L766.7 1566.4L767.7 1572.3L768.7 1572.6L769.7 1562.3L770.7 1586.6L771.7 1589.5L772.7 1584.3L773.7 1564.5L774.7 1580.8L775.7 1557.9L776.7 1619.9L777.7 1588.4L778.7 1584.3L779.7 1574.7L780.7 1562.5L781.7 1577.5L782.7 1587.7L783.7 1565L784.7 1557.8L785.7 1609.4L786.7 1571.7L787.7 1577.6L788.7 1594.5L789.7 1591.6L790.7 1583.3L791.7 1586L792.7 1589L793.7 1600.6L794.7 1581.9L795.7 1594.1L796.7 1585L797.7 1593.9L798.7 1583.2L799.7 1575.8L800.7 1579.1L801.7 1573.4L802.7 1598.6L803.7 1576.3L804.7 1580.2L805.7 1593.5L806.7 1588.2L807.7 1623.1L808.7 1583.1L809.7 1587.3L810.7 1610.6L811.7 1575L812.7 1590.4L813.7 1581.4L814.7 1589.7L815.7 1583.1L816.7 1587.5L817.7 1591.4L818.7 1581.3L819.7 1577L820.7 1615.7L821.7 1585.2L822.7 1593.3L823.7 1599.5L824.7 1570.4L825.7 1573.6L826.7 1597.6L827.7 1599.6L828.7 1578L829.7 1597.3L830.7 1595.3L831.7 1618.5L832.7 1594L833.7 1580L834.7 1597.6L835.7 1593.3L836.7 1574.5L837.7 1584.1L838.7 1579.1L839.7 1587.3L840.7 1580.3L841.7 1613.1L842.7 1600.4L843.7 1611.2L844.7 1566.8L845.7 1589.3L846.7 1594.7L847.7 1605.3L848.7 1611.1L849.7 1637.1L850.7 1577L851.7 1600.4L852.7 1597L853.7 1614.6L854.7 1594.6L855.7 1588L856.7 1592.1L857.7 1585.1L858.7 1604.6L859.7 1592.6L860.7 1588.8L861.7 1593L862.7 1594.4L863.7 1598.3L864.7 1608.4L865.7 1587.8L866.7 1597.3" stroke="#EDB120"/>
<path d="M98.1 1342.3L101.1 1343.4L104.1 1344.5L107.1 1345.6L110.1 1346.6L113.1 1347.7L116.1 1348.8L119.1 1349.9L122.1 1350.9L125.1 1352L128.1 1353.1L131.1 1354.1L134.1 1355.2L137.1 1356.2L140.1 1357.3L143.1 1358.3L146.1 1359.4L149.1 1360.4L152.1 1361.5L155.1 1362.5L158.1 1363.5L161.1 1364.6L164.1 1365.6L167.1 1366.6L170.1 1367.7L173.1 1368.7L176.1 1369.7L179.1 1370.7L182.1 1371.7L185.1 1372.7L188.1 1373.8L191.1 1374.8L194.1 1375.8L197.1 1376.8L200.1 1377.8L203.1 1378.8L206.1 1379.8L209.1 1380.8L212.1 1381.8L215.1 1382.8L218.1 1383.8L221.1 1384.7L224.1 1385.7L227.1 1386.7L230.1 1387.7L233.1 1388.7L236.1 1389.7L239.1 1390.6L242.1 1391.6L245.1 1392.6L247.1 1393.2L249.1 1393.8L251.1 1394.5L253.1 1395.1L255.1 1395.7L257.1 1396.3L259.1 1397L261.1 1397.7L263.1 1398.2L265.1 1398.8L267.1 1399.5L269.1 1400.2L271.1 1401L273.1 1401.2L275.1 1402.1L277.1 1402.4L279.1 1403.2L281.1 1403.7L283.1 1404.3L285.1 1405.3L287.1 1405.1L289.1 1406.6L291.1 1406.9L293.1 1407.7L295.1 1408.2L297.1 1408.5L299.1 1409.9L301.1 1410.1L303.1 1410.5L305.1 1411.2L307.1 1411.8L309.1 1412.8L311.1 1413.7L313.1 1414.3L315.1 1414.6L317.1 1414.8L319.1 1415.7L321.1 1415.8L323.1 1417L325.1 1417.7L327.1 1418.4L329.1 1420L331.1 1419.6L333.1 1421.1L335.1 1421.3L337.1 1420.7L339.1 1423.1L341.1 1423L343.1 1423.6L345.1 1424.4L347.1 1425.1L349.1 1426.1L351.1 1425.2L353.1 1428.3L355.1 1428.2L357.1 1427.1L359.1 1428.3L361.1 1429.9L363.1 1430.7L365.1 1430.9L367.1 1429.6L369.1 1431.8L370.5 1433.6L371.9 1432.9L373.3 1434.1L374.7 1432.7L376.1 1434L377.5 1433.6L378.9 1434.8L380.3 1433.7L381.7 1435.5L383.1 1436.1L384.5 1438L385.9 1437.8L387.3 1437.5L388.7 1439L390.1 1436.6L391.5 1439.4L392.9 1440.8L394.3 1439.2L395.7 1441.2L397.1 1440.6L398.5 1441.7L399.9 1443.3L401.3 1441.5L402.7 1443.6L404.1 1443L405.5 1445.1L406.9 1447L408.3 1447.1L409.7 1446.4L411.1 1446.5L412.5 1446.8L413.9 1447L415.3 1450.3L416.7 1448.5L418.1 1451.3L419.5 1450.9L420.9 1446.7L422.3 1449L423.7 1452.1L425.1 1449.9L426.5 1451.2L427.9 1452.8L429.3 1452.7L430.7 1456L432.1 1456.3L433.5 1458.3L434.9 1456.1L436.3 1460.2L437.7 1459.3L439.1 1458.1L440.5 1460.5L441.9 1459.4L443.3 1457.4L444.7 1463.3L446.1 1459.3L447.5 1463.9L448.9 1465.1L450.3 1463.1L451.7 1462.2L453.1 1466.5L454.5 1467.2L455.9 1467.1L457.3 1468.5L458.7 1467L460.1 1469.7L461.5 1469.2L462.9 1468.4L464.3 1470.9L465.7 1468.2L467.1 1473.1L468.5 1474.2L469.9 1468.8L471.3 1470.4L472.7 1473.9L473.7 1472.8L474.7 1474.3L475.7 1477L476.7 1474.8L477.7 1476.3L478.7 1474.7L479.7 1482.9L480.7 1475.8L481.7 1476.9L482.7 1478.9L483.7 1478L484.7 1478.2L485.7 1481.3L486.7 1479.9L487.7 1477.1L488.7 1484L489.7 1481.2L490.7 1487.6L491.7 1482.7L492.7 1480.6L493.7 1482.2L494.7 1482.6L495.7 1486.7L496.7 1482.3L497.7 1486.7L498.7 1481.8L499.7 1483.6L500.7 1485.5L501.7 1481L502.7 1486.2L503.7 1482.7L504.7 1485.2L505.7 1485.8L506.7 1483.5L507.7 1485.3L508.7 1487.1L509.7 1488.2L510.7 1488.1L511.7 1489.1L512.7 1490.9L513.7 1493.5L514.7 1498.9L515.7 1490.5L516.7 1491.1L517.7 1487.2L518.7 1489.7L519.7 1488.3L520.7 1487.3L521.7 1493L522.7 1496.2L523.7 1491.6L524.7 1496.7L525.7 1496L526.7 1491.2L527.7 1493.6L528.7 1492L529.7 1500.2L530.7 1495.3L531.7 1492.6L532.7 1501.2L533.7 1496.4L534.7 1496.5L535.7 1507.1L536.7 1494L537.7 1501.8L538.7 1500.1L539.7 1494.9L540.7 1507.3L541.7 1498.9L542.7 1502L543.7 1499.8L544.7 1503L545.7 1495.5L546.7 1504.4L547.7 1498.9L548.7 1498.5L549.7 1500.9L550.7 1502L551.7 1502.3L552.7 1498.3L553.7 1500.6L554.7 1503.1L555.7 1508.3L556.7 1504.2L557.7 1503.9L558.7 1506.5L559.7 1502L560.7 1515.3L561.7 1498.4L562.7 1507.5L563.7 1511.7L564.7 1514.6L565.7 1503.9L566.7 1505L567.7 1508L568.7 1507.3L569.7 1506.6L570.7 1509.6L571.7 1504.3L572.7 1506.9L573.7 1510.5L574.7 1518.3L575.7 1505.6L576.7 1512.8L577.7 1515.4L578.7 1505.6L579.7 1508.9L580.7 1521.3L581.7 1520.4L582.7 1514.7L583.7 1519.3L584.7 1513.7L585.7 1502.5L586.7 1500.6L587.7 1512.2L588.7 1508.9L589.7 1508.9L590.7 1513.7L591.7 1521.7L592.7 1510.4L593.7 1516.3L594.7 1514L595.7 1513.3L596.7 1520.8L597.7 1509.6L598.7 1516.4L599.7 1515.9L600.7 1519.3L601.7 1514.3L602.7 1513.5L603.7 1521.8L604.7 1517.1L605.7 1523L606.7 1528.3L607.7 1523.6L608.7 1519.1L609.7 1519L610.7 1516L611.7 1524.2L612.7 1521.8L613.7 1519.8L614.7 1517.6L615.7 1521.5L616.7 1526.7L617.7 1530.5L618.7 1515.8L619.7 1516.6L620.7 1526.1L621.7 1515.5L622.7 1523.3L623.7 1520.6L624.7 1516.2L625.7 1524.4L626.7 1525.3L627.7 1530.9L628.7 1518.4L629.7 1518.5L630.7 1517.6L631.7 1520.3L632.7 1524.3L633.7 1520.4L634.7 1534.3L635.7 1526.4L636.7 1526.3L637.7 1529.9L638.7 1519.6L639.7 1525.6L640.7 1520.1L641.7 1522.3L642.7 1528.7L643.7 1518.3L644.7 1524.2L645.7 1531.4L646.7 1533.1L647.7 1540L648.7 1533.6L649.7 1534.3L650.7 1532.1L651.7 1537.8L652.7 1533.3L653.7 1538.9L654.7 1551.4L655.7 1543.8L656.7 1546.1L657.7 1547.8L658.7 1538.9L659.7 1531L660.7 1544.9L661.7 1552.3L662.7 1538.6L663.7 1519.6L664.7 1542.2L665.7 1535.3L666.7 1539.1L667.7 1529.6L668.7 1525.6L669.7 1536L670.7 1528.2L671.7 1545.7L672.7 1537L673.7 1550.1L674.7 1539.8L675.7 1547.4L676.7 1542L677.7 1554.3L678.7 1544.4L679.7 1546L680.7 1552.1L681.7 1554.1L682.7 1556.9L683.7 1549.1L684.7 1541.8L685.7 1544.7L686.7 1541.9L687.7 1534L688.7 1545.9L689.7 1541.6L690.7 1538.6L691.7 1541.4L692.7 1542.5L693.7 1544.6L694.7 1531.5L695.7 1546.4L696.7 1550.3L697.7 1544.2L698.7 1538.7L699.7 1542L700.7 1553.4L701.7 1548.1L702.7 1550.9L703.7 1554.3L704.7 1550.1L705.7 1550.4L706.7 1554.1L707.7 1542.1L708.7 1559.1L709.7 1544.1L710.7 1537.7L711.7 1536.6L712.7 1550.8L713.7 1555.1L714.7 1570.4L715.7 1555.4L716.7 1536.2L717.7 1573.4L718.7 1574.1L719.7 1550.9L720.7 1552.3L721.7 1576.8L722.7 1557.8L723.7 1554.9L724.7 1574.9L725.7 1550.9L726.7 1574.3L727.7 1550.3L728.7 1558.3L729.7 1568L730.7 1578.6L731.7 1564.7L732.7 1562.5L733.7 1563.4L734.7 1569L735.7 1564.6L736.7 1553.9L737.7 1571.7L738.7 1562.8L739.7 1556.3L740.7 1561L741.7 1553L742.7 1546.2L743.7 1564.1L744.7 1556.7L745.7 1593.9L746.7 1561.5L747.7 1551.2L748.7 1572.8L749.7 1547.6L750.7 1585.4L751.7 1549L752.7 1568.9L753.7 1576L754.7 1570.7L755.7 1570.6L756.7 1583.8L757.7 1592.2L758.7 1584.2L759.7 1570L760.7 1576.3L761.7 1566.1L762.7 1587.3L763.7 1582.9L764.7 1581.8L765.7 1575.6L766.7 1572.7L767.7 1560.2L768.7 1572.3L769.7 1578.9L770.7 1566.5L771.7 1589.4L772.7 1594.1L773.7 1567.2L774.7 1570.3L775.7 1569.8L776.7 1561.5L777.7 1576.1L778.7 1573.8L779.7 1569L780.7 1566.3L781.7 1562.3L782.7 1570.8L783.7 1569.6L784.7 1606.1L785.7 1563.1L786.7 1599.1L787.7 1580.9L788.7 1556L789.7 1587.5L790.7 1604.3L791.7 1565.9L792.7 1589.5L793.7 1584.5L794.7 1585.3L795.7 1576.6L796.7 1577.4L797.7 1588.1L798.7 1575.7L799.7 1599.1L800.7 1579.2L801.7 1593.9L802.7 1579L803.7 1596.7L804.7 1595.7L805.7 1576.7L806.7 1608.5L807.7 1609.5L808.7 1586.4L809.7 1593.3L810.7 1592.5L811.7 1586.7L812.7 1562.9L813.7 1600.1L814.7 1592.3L815.7 1590.1L816.7 1607.3L817.7 1597L818.7 1591.7L819.7 1607.6L820.7 1582L821.7 1606.6L822.7 1591.5L823.7 1584.7L824.7 1554.6L825.7 1611.1L826.7 1585.3L827.7 1562.6L828.7 1596.5L829.7 1577.2L830.7 1586.8L831.7 1609.8L832.7 1589L833.7 1606.9L834.7 1595L835.7 1615.9L836.7 1587.5L837.7 1626.5L838.7 1596L839.7 1580.8L840.7 1589.7L841.7 1601.2L842.7 1601L843.7 1604.2L844.7 1570.5L845.7 1599.1L846.7 1598.6L847.7 1608.9L848.7 1606.5L849.7 1594.2L850.7 1608L851.7 1609.5L852.7 1604.7L853.7 1601L854.7 1594L855.7 1602.1L856.7 1598.1L857.7 1605.3L858.7 1582.1L859.7 1593.2L860.7 1597.1L861.7 1588.7L862.7 1591.2L863.7 1611.1L864.7 1592.9L865.7 1574.7L866.7 1588.4" stroke="#7E2F8E"/>
<path d="M98.1 1347.1L101.1 1348.2L104.1 1349.3L107.1 1350.4L110.1 1351.4L113.1 1352.5L116.1 1353.6L119.1 1354.7L122.1 1355.7L125.1 1356.8L128.1 1357.8L131.1 1358.9L134.1 1360L137.1 1361L140.1 1362.1L143.1 1363.1L146.1 1364.1L149.1 1365.2L152.1 1366.2L155.1 1367.3L158.1 1368.3L161.1 1369.3L164.1 1370.3L167.1 1371.4L170.1 1372.4L173.1 1373.4L176.1 1374.4L179.1 1375.4L182.1 1376.5L185.1 1377.5L188.1 1378.5L191.1 1379.5L194.1 1380.5L197.1 1381.5L200.1 1382.5L203.1 1383.5L206.1 1384.5L209.1 1385.4L212.1 1386.4L215.1 1387.4L218.1 1388.4L221.1 1389.4L224.1 1390.4L227.1 1391.3L230.1 1392.3L233.1 1393.3L236.1 1394.2L239.1 1395.2L242.1 1396.2L245.1 1397.1L247.1 1397.8L249.1 1398.4L251.1 1399L253.1 1399.7L255.1 1400.3L257.1 1401L259.1 1401.5L261.1 1402.3L263.1 1402.7L265.1 1403.3L267.1 1404L269.1 1404.7L271.1 1405.2L273.1 1405.7L275.1 1406.3L277.1 1407.1L279.1 1407.4L281.1 1408.1L283.1 1408.7L285.1 1409.4L287.1 1410L289.1 1410.7L291.1 1411.1L293.1 1411.9L295.1 1412.2L297.1 1413L299.1 1413.6L301.1 1414.2L303.1 1414.9L305.1 1416L307.1 1415.8L309.1 1416.7L311.1 1417.6L313.1 1418.4L315.1 1419L317.1 1419.7L319.1 1420.1L321.1 1421.2L323.1 1421.5L325.1 1422.1L327.1 1423L329.1 1422.4L331.1 1423.9L333.1 1424.3L335.1 1425L337.1 1425.8L339.1 1426L341.1 1426.4L343.1 1427.7L345.1 1428.9L347.1 1428.8L349.1 1431.2L351.1 1430.2L353.1 1431L355.1 1431.3L357.1 1433.1L359.1 1432.9L361.1 1433.9L363.1 1434.2L365.1 1434L367.1 1435.3L369.1 1436.4L370.5 1435.5L371.9 1436.8L373.3 1439.2L374.7 1438.7L376.1 1437.7L377.5 1438.1L378.9 1438.6L380.3 1439L381.7 1440.6L383.1 1440.2L384.5 1441.9L385.9 1442.1L387.3 1442.7L388.7 1443.2L390.1 1443.1L391.5 1443.3L392.9 1444.4L394.3 1442.7L395.7 1444.8L397.1 1443.2L398.5 1444.2L399.9 1447.4L401.3 1445.5L402.7 1448.9L404.1 1445.8L405.5 1447.5L406.9 1449.7L408.3 1452L409.7 1450L411.1 1452.1L412.5 1449.4L413.9 1453.3L415.3 1452.3L416.7 1452L418.1 1453.2L419.5 1453.5L420.9 1454.8L422.3 1454.1L423.7 1457.4L425.1 1455.7L426.5 1459.3L427.9 1457.5L429.3 1460.5L430.7 1459.3L432.1 1458.5L433.5 1458L434.9 1463.9L436.3 1462.3L437.7 1463.3L439.1 1459.9L440.5 1464.3L441.9 1461.9L443.3 1464.7L444.7 1467.3L446.1 1464.5L447.5 1467.9L448.9 1464.8L450.3 1465.5L451.7 1465.4L453.1 1471.1L454.5 1466.4L455.9 1468L457.3 1474.6L458.7 1466.3L460.1 1467.6L461.5 1474L462.9 1471.4L464.3 1476.1L465.7 1473.5L467.1 1473.2L468.5 1472.6L469.9 1476.2L471.3 1474.4L472.7 1477.3L473.7 1474.7L474.7 1474.9L475.7 1477.3L476.7 1476.1L477.7 1478.1L478.7 1479.8L479.7 1478.7L480.7 1485.1L481.7 1482.1L482.7 1487.1L483.7 1482.3L484.7 1483.6L485.7 1480.5L486.7 1483.6L487.7 1484.2L488.7 1482.5L489.7 1482.5L490.7 1480.9L491.7 1484.9L492.7 1487.1L493.7 1487.9L494.7 1481.2L495.7 1488.6L496.7 1487.1L497.7 1489.8L498.7 1484.8L499.7 1488.8L500.7 1484.2L501.7 1489.4L502.7 1486.6L503.7 1485.8L504.7 1485.9L505.7 1492.7L506.7 1490.7L507.7 1490.3L508.7 1496.3L509.7 1488.6L510.7 1489.4L511.7 1489.3L512.7 1495.6L513.7 1490.9L514.7 1490.7L515.7 1489.6L516.7 1494.6L517.7 1491.6L518.7 1488.8L519.7 1496.1L520.7 1496.6L521.7 1496.8L522.7 1501.5L523.7 1498L524.7 1492.8L525.7 1501.2L526.7 1499.2L527.7 1495.7L528.7 1497.9L529.7 1498.9L530.7 1500.7L531.7 1499.8L532.7 1499.2L533.7 1497L534.7 1498.7L535.7 1496.1L536.7 1506.1L537.7 1496.8L538.7 1501.6L539.7 1500L540.7 1501.9L541.7 1498.5L542.7 1500.9L543.7 1498.6L544.7 1503.9L545.7 1500.6L546.7 1498.1L547.7 1499.2L548.7 1504.6L549.7 1503L550.7 1505L551.7 1504.1L552.7 1503.9L553.7 1500.8L554.7 1503.6L555.7 1501.3L556.7 1501.3L557.7 1511.6L558.7 1505L559.7 1508.1L560.7 1513.8L561.7 1512.4L562.7 1510.8L563.7 1503.7L564.7 1509.6L565.7 1511L566.7 1510.4L567.7 1513.7L568.7 1509.9L569.7 1511.4L570.7 1518.7L571.7 1513.8L572.7 1499.5L573.7 1509.2L574.7 1512L575.7 1509.3L576.7 1516.4L577.7 1511.6L578.7 1508.8L579.7 1520.2L580.7 1516.6L581.7 1515.9L582.7 1516.5L583.7 1518.9L584.7 1516.6L585.7 1514.8L586.7 1518L587.7 1516L588.7 1516.3L589.7 1523.8L590.7 1520.3L591.7 1523.9L592.7 1520L593.7 1524.8L594.7 1524L595.7 1515.8L596.7 1522.7L597.7 1529.1L598.7 1519.7L599.7 1518.7L600.7 1522.9L601.7 1520.6L602.7 1517.3L603.7 1524.8L604.7 1523.3L605.7 1526.3L606.7 1521.1L607.7 1523.6L608.7 1528.7L609.7 1525.1L610.7 1516.8L611.7 1534.7L612.7 1532.8L613.7 1523.1L614.7 1532.7L615.7 1516.5L616.7 1534.9L617.7 1534.8L618.7 1530.9L619.7 1523.3L620.7 1524.7L621.7 1525.9L622.7 1527.5L623.7 1523.3L624.7 1541.4L625.7 1530.1L626.7 1525.8L627.7 1540.4L628.7 1533.2L629.7 1529.5L630.7 1529.7L631.7 1536.6L632.7 1526.3L633.7 1532.4L634.7 1529L635.7 1541L636.7 1538.7L637.7 1538.8L638.7 1525.1L639.7 1550.1L640.7 1547.4L641.7 1531.8L642.7 1536L643.7 1557.8L644.7 1541.1L645.7 1540.9L646.7 1532.3L647.7 1551.5L648.7 1541.1L649.7 1530.8L650.7 1531.6L651.7 1541.9L652.7 1537.5L653.7 1546.3L654.7 1528.6L655.7 1539.8L656.7 1530L657.7 1532.9L658.7 1544L659.7 1538.9L660.7 1534.6L661.7 1536.5L662.7 1531.2L663.7 1534.9L664.7 1541L665.7 1540.5L666.7 1551.1L667.7 1550.6L668.7 1542L669.7 1543L670.7 1553L671.7 1544.6L672.7 1550.4L673.7 1549.3L674.7 1538L675.7 1554.6L676.7 1552.7L677.7 1543.6L678.7 1545.8L679.7 1543.9L680.7 1555.6L681.7 1542.8L682.7 1545.2L683.7 1549L684.7 1547.4L685.7 1545.8L686.7 1538.5L687.7 1532.6L688.7 1545.1L689.7 1536.5L690.7 1545.7L691.7 1559.3L692.7 1545.8L693.7 1537.8L694.7 1537.7L695.7 1556.3L696.7 1534.2L697.7 1558L698.7 1559.4L699.7 1558.7L700.7 1544.8L701.7 1553.7L702.7 1552.1L703.7 1581.6L704.7 1562.8L705.7 1563.9L706.7 1557.3L707.7 1565.9L708.7 1551.6L709.7 1566.4L710.7 1573.3L711.7 1576.3L712.7 1551.6L713.7 1556.3L714.7 1570.2L715.7 1554.2L716.7 1564.4L717.7 1564L718.7 1577.9L719.7 1568.8L720.7 1563L721.7 1563.1L722.7 1571.6L723.7 1559L724.7 1556.2L725.7 1576.8L726.7 1564.6L727.7 1583.1L728.7 1562.2L729.7 1575.2L730.7 1566.6L731.7 1564.6L732.7 1570.1L733.7 1560.4L734.7 1579.3L735.7 1576.6L736.7 1568.9L737.7 1571.7L738.7 1568.7L739.7 1573L740.7 1580.1L741.7 1565.4L742.7 1571.2L743.7 1564.3L744.7 1560.4L745.7 1576.1L746.7 1580L747.7 1576L748.7 1577.9L749.7 1594.4L750.7 1556L751.7 1568.6L752.7 1551.4L753.7 1581.1L754.7 1569.4L755.7 1573.4L756.7 1578.1L757.7 1569.8L758.7 1581.6L759.7 1584.3L760.7 1582.7L761.7 1612.7L762.7 1591.8L763.7 1590.1L764.7 1562.4L765.7 1571.2L766.7 1567.9L767.7 1569.1L768.7 1577.9L769.7 1559.8L770.7 1579.8L771.7 1597.3L772.7 1575.7L773.7 1573L774.7 1586.5L775.7 1586.6L776.7 1582.6L777.7 1577.3L778.7 1585.8L779.7 1573.1L780.7 1585L781.7 1565.7L782.7 1603L783.7 1575.4L784.7 1581.4L785.7 1582.8L786.7 1600.4L787.7 1573.7L788.7 1586.7L789.7 1597.1L790.7 1592.6L791.7 1587.5L792.7 1583.5L793.7 1595.7L794.7 1596L795.7 1580.9L796.7 1587L797.7 1568.1L798.7 1594L799.7 1581.7L800.7 1572L801.7 1592.1L802.7 1580.4L803.7 1587.6L804.7 1590.4L805.7 1575L806.7 1602.2L807.7 1595.3L808.7 1608.5L809.7 1586.7L810.7 1576.2L811.7 1591L812.7 1582.9L813.7 1604.2L814.7 1586.4L815.7 1600.6L816.7 1605.1L817.7 1581.4L818.7 1596L819.7 1588.7L820.7 1592L821.7 1585.3L822.7 1590.6L823.7 1607.2L824.7 1589.3L825.7 1587L826.7 1587.4L827.7 1593.6L828.7 1573.2L829.7 1601.2L830.7 1592.1L831.7 1592.5L832.7 1609.4L833.7 1611.9L834.7 1591.3L835.7 1591.5L836.7 1596.4L837.7 1617.1L838.7 1599.2L839.7 1593.3L840.7 1590.6L841.7 1586.5L842.7 1595.4L843.7 1592.1L844.7 1586.4L845.7 1633.1L846.7 1593.3L847.7 1608.2L848.7 1598.1L849.7 1601.5L850.7 1617.2L851.7 1615.6L852.7 1598.8L853.7 1604L854.7 1593.6L855.7 1605.1L856.7 1579L857.7 1603.3L858.7 1579.6L859.7 1609.3L860.7 1593.7L861.7 1587.3L862.7 1614.7L863.7 1610.9L864.7 1595.5L865.7 1588.8L866.7 1586.3" stroke="#77AC30"/>
</g>
<path d="M98.1 1775.7v-8M98.1 1340.3v8M160.6 1775.7v-5M160.6 1340.3v5M197.2 1775.7v-5M197.2 1340.3v5M223.1 1775.7v-5M223.1 1340.3v5M243.2 1775.7v-5M243.2 1340.3v5M259.7 1775.7v-5M259.7 1340.3v5M273.6 1775.7v-5M273.6 1340.3v5M285.6 1775.7v-5M285.6 1340.3v5M296.2 1775.7v-5M296.2 1340.3v5M305.7 1775.7v-8M305.7 1340.3v8M368.2 1775.7v-5M368.2 1340.3v5M404.8 1775.7v-5M404.8 1340.3v5M430.7 1775.7v-5M430.7 1340.3v5M450.8 1775.7v-5M450.8 1340.3v5M467.3 1775.7v-5M467.3 1340.3v5M481.2 1775.7v-5M481.2 1340.3v5M493.2 1775.7v-5M493.2 1340.3v5M503.9 1775.7v-5M503.9 1340.3v5M513.4 1775.7v-8M513.4 1340.3v8M575.9 1775.7v-5M575.9 1340.3v5M612.4 1775.7v-5M612.4 1340.3v5M638.4 1775.7v-5M638.4 1340.3v5M658.5 1775.7v-5M658.5 1340.3v5M674.9 1775.7v-5M674.9 1340.3v5M688.8 1775.7v-5M688.8 1340.3v5M700.9 1775.7v-5M700.9 1340.3v5M711.5 1775.7v-5M711.5 1340.3v5M721 1775.7v-8M721 1340.3v8M783.5 1775.7v-5M783.5 1340.3v5M820 1775.7v-5M820 1340.3v5M846 1775.7v-5M846 1340.3v5M866.1 1775.7v-5M866.1 1340.3v5M98.1 1775.7h8M866.1 1775.7h-8M98.1 1734.4h5M866.1 1734.4h-5M98.1 1710.2h5M866.1 1710.2h-5M98.1 1693.1h5M866.1 1693.1h-5M98.1 1679.8h5M866.1 1679.8h-5M98.1 1668.9h5M866.1 1668.9h-5M98.1 1659.8h5M866.1 1659.8h-5M98.1 1651.8h5M866.1 1651.8h-5M98.1 1644.8h5M866.1 1644.8h-5M98.1 1638.5h8M866.1 1638.5h-8M98.1 1597.2h5M866.1 1597.2h-5M98.1 1573h5M866.1 1573h-5M98.1 1555.9h5M866.1 1555.9h-5M98.1 1542.6h5M866.1 1542.6h-5M98.1 1531.7h5M866.1 1531.7h-5M98.1 1522.6h5M866.1 1522.6h-5M98.1 1514.6h5M866.1 1514.6h-5M98.1 1507.6h5M866.1 1507.6h-5M98.1 1501.3h8M866.1 1501.3h-8M98.1 1460h5M866.1 1460h-5M98.1 1435.8h5M866.1 1435.8h-5M98.1 1418.7h5M866.1 1418.7h-5M98.1 1405.4h5M866.1 1405.4h-5M98.1 1394.5h5M866.1 1394.5h-5M98.1 1385.4h5M866.1 1385.4h-5M98.1 1377.4h5M866.1 1377.4h-5M98.1 1370.4h5M866.1 1370.4h-5M98.1 1364.1h8M866.1 1364.1h-8" stroke="#000" stroke-width="1.9" fill="none"/>
<rect x="98.1" y="1340.3" width="768" height="435.4" fill="none" stroke="#000" stroke-width="2.1"/>
<text x="98.1" y="1811.2" font-size="24" text-anchor="middle">10<tspan font-size="17" dy="-10">−1</tspan></text>
<text x="305.7" y="1811.2" font-size="24" text-anchor="middle">10<tspan font-size="17" dy="-10">0</tspan></text>
<text x="513.4" y="1811.2" font-size="24" text-anchor="middle">10<tspan font-size="17" dy="-10">1</tspan></text>
<text x="721" y="1811.2" font-size="24" text-anchor="middle">10<tspan font-size="17" dy="-10">2</tspan></text>
<text x="86.6" y="1785.2" font-size="24" text-anchor="end">10<tspan font-size="17" dy="-10">−2</tspan></text>
<text x="86.6" y="1648" font-size="24" text-anchor="end">10<tspan font-size="17" dy="-10">−1</tspan></text>
<text x="86.6" y="1510.8" font-size="24" text-anchor="end">10<tspan font-size="17" dy="-10">0</tspan></text>
<text x="86.6" y="1373.6" font-size="24" text-anchor="end">10<tspan font-size="17" dy="-10">1</tspan></text>
<text x="482.1" y="1329" font-size="25" text-anchor="middle">Allan variation curve -MAX6001</text>
<text x="482.1" y="1851.3" font-size="25" text-anchor="middle">Time (s)</text>
<text transform="translate(21.5 1558) rotate(-90)" font-size="25" text-anchor="middle">Allan variation (°/h)</text>
<text x="615.2" y="1393.9" font-size="25">Mean = 0.187°/h</text>
<text x="615.2" y="1427.5" font-size="25">Std = 0.0058°/h</text>
<rect x="189.1" y="1704" width="579.7" height="28.7" fill="#fff" stroke="#a0a0a0" stroke-width="1.2"/>
<path d="M193.6 1718.3h27.5" stroke="#0072BD" stroke-width="1.7"/>
<text x="228.6" y="1724.1" font-size="16.4">Sample1</text>
<path d="M308.1 1718.3h27.5" stroke="#D95319" stroke-width="1.7"/>
<text x="343.1" y="1724.1" font-size="16.4">Sample2</text>
<path d="M422.6 1718.3h27.5" stroke="#EDB120" stroke-width="1.7"/>
<text x="457.6" y="1724.1" font-size="16.4">Sample3</text>
<path d="M537.1 1718.3h27.5" stroke="#7E2F8E" stroke-width="1.7"/>
<text x="572.1" y="1724.1" font-size="16.4">Sample4</text>
<path d="M651.6 1718.3h27.5" stroke="#77AC30" stroke-width="1.7"/>
<text x="686.6" y="1724.1" font-size="16.4">Sample5</text>
<text x="0.4" y="1329.4" font-size="42">f</text>
<clipPath id="clipg"><rect x="1017.1" y="1353.3" width="768.7" height="422.7"/></clipPath>
<path d="M1079.7 1353.3V1776M1116.3 1353.3V1776M1142.2 1353.3V1776M1162.4 1353.3V1776M1178.8 1353.3V1776M1192.7 1353.3V1776M1204.8 1353.3V1776M1215.4 1353.3V1776M1224.9 1353.3V1776M1287.5 1353.3V1776M1324.1 1353.3V1776M1350 1353.3V1776M1370.2 1353.3V1776M1386.6 1353.3V1776M1400.5 1353.3V1776M1412.6 1353.3V1776M1423.2 1353.3V1776M1432.7 1353.3V1776M1495.3 1353.3V1776M1531.9 1353.3V1776M1557.8 1353.3V1776M1578 1353.3V1776M1594.4 1353.3V1776M1608.4 1353.3V1776M1620.4 1353.3V1776M1631 1353.3V1776M1640.5 1353.3V1776M1703.1 1353.3V1776M1739.7 1353.3V1776M1765.7 1353.3V1776M1017.1 1735.8H1785.8M1017.1 1712.4H1785.8M1017.1 1695.7H1785.8M1017.1 1682.8H1785.8M1017.1 1672.2H1785.8M1017.1 1663.3H1785.8M1017.1 1655.5H1785.8M1017.1 1648.7H1785.8M1017.1 1642.6H1785.8M1017.1 1602.4H1785.8M1017.1 1579H1785.8M1017.1 1562.3H1785.8M1017.1 1549.4H1785.8M1017.1 1538.8H1785.8M1017.1 1529.9H1785.8M1017.1 1522.1H1785.8M1017.1 1515.3H1785.8M1017.1 1509.2H1785.8M1017.1 1469H1785.8M1017.1 1445.6H1785.8M1017.1 1428.9H1785.8M1017.1 1416H1785.8M1017.1 1405.4H1785.8M1017.1 1396.5H1785.8M1017.1 1388.7H1785.8M1017.1 1381.9H1785.8M1017.1 1375.8H1785.8" stroke="#c4c4c4" stroke-width="1.1" stroke-dasharray="5 2.6" fill="none"/>
<g clip-path="url(#clipg)" fill="none" stroke-width="1.9" stroke-linejoin="round">
<path d="M1017.1 1384.6L1020.1 1385.6L1023.1 1386.7L1026.1 1387.8L1029.1 1388.9L1032.1 1390L1035.1 1391L1038.1 1392.1L1041.1 1393.2L1044.1 1394.3L1047.1 1395.4L1050.1 1396.5L1053.1 1397.6L1056.1 1398.7L1059.1 1399.8L1062.1 1400.9L1065.1 1402L1068.1 1403.1L1071.1 1404.2L1074.1 1405.3L1077.1 1406.4L1080.1 1407.5L1083.1 1408.6L1086.1 1409.7L1089.1 1410.8L1092.1 1412L1095.1 1413.1L1098.1 1414.2L1101.1 1415.3L1104.1 1416.4L1107.1 1417.5L1110.1 1418.7L1113.1 1419.8L1116.1 1420.9L1119.1 1422L1122.1 1423.1L1125.1 1424.3L1128.1 1425.4L1131.1 1426.5L1134.1 1427.7L1137.1 1428.8L1140.1 1429.9L1143.1 1431L1146.1 1432.2L1149.1 1433.3L1152.1 1434.4L1155.1 1435.6L1158.1 1436.7L1161.1 1437.8L1164.1 1439L1166.1 1439.8L1168.1 1440.5L1170.1 1441.3L1172.1 1442.2L1174.1 1442.9L1176.1 1443.6L1178.1 1444.4L1180.1 1445.3L1182.1 1445.9L1184.1 1446.8L1186.1 1447.7L1188.1 1448.5L1190.1 1449L1192.1 1449.7L1194.1 1450.7L1196.1 1451.5L1198.1 1452.2L1200.1 1453.1L1202.1 1453.8L1204.1 1454.4L1206.1 1455.4L1208.1 1455.8L1210.1 1457L1212.1 1457.4L1214.1 1458.2L1216.1 1459.2L1218.1 1459.9L1220.1 1460.7L1222.1 1460.8L1224.1 1462.2L1226.1 1462.3L1228.1 1463L1230.1 1464.1L1232.1 1464.2L1234.1 1466.4L1236.1 1466.1L1238.1 1466.8L1240.1 1467.5L1242.1 1467.9L1244.1 1469.1L1246.1 1469.7L1248.1 1469.9L1250.1 1471.2L1252.1 1472.5L1254.1 1472.4L1256.1 1473.4L1258.1 1474.3L1260.1 1474.3L1262.1 1475.8L1264.1 1476.6L1266.1 1476.7L1268.1 1477.4L1270.1 1477.9L1272.1 1479.6L1274.1 1478.4L1276.1 1479.9L1278.1 1481.2L1280.1 1482L1282.1 1485.1L1284.1 1482.9L1286.1 1485.1L1288.1 1484.3L1289.5 1486.2L1290.9 1484.7L1292.3 1486.7L1293.7 1487.1L1295.1 1486.3L1296.5 1487.4L1297.9 1490.2L1299.3 1489.9L1300.7 1489.4L1302.1 1490.2L1303.5 1489.7L1304.9 1491.7L1306.3 1493.6L1307.7 1492.9L1309.1 1492.5L1310.5 1492.3L1311.9 1492.5L1313.3 1492.5L1314.7 1494L1316.1 1494.9L1317.5 1494.3L1318.9 1495.7L1320.3 1496.8L1321.7 1497.4L1323.1 1496.3L1324.5 1496.2L1325.9 1496.8L1327.3 1501.3L1328.7 1497.8L1330.1 1501.5L1331.5 1500.7L1332.9 1500L1334.3 1503.7L1335.7 1504.3L1337.1 1504.2L1338.5 1501.2L1339.9 1502.6L1341.3 1506.2L1342.7 1504.8L1344.1 1505.1L1345.5 1505.1L1346.9 1507.1L1348.3 1503.7L1349.7 1506.9L1351.1 1505.3L1352.5 1510.6L1353.9 1507.1L1355.3 1508.2L1356.7 1507L1358.1 1515.8L1359.5 1509.8L1360.9 1509.8L1362.3 1512.1L1363.7 1509.3L1365.1 1508L1366.5 1510.4L1367.9 1510.8L1369.3 1510.2L1370.7 1512.4L1372.1 1511.3L1373.5 1512.9L1374.9 1516.3L1376.3 1517.8L1377.7 1513.4L1379.1 1515.2L1380.5 1518.9L1381.9 1517.4L1383.3 1514.5L1384.7 1522.2L1386.1 1519.9L1387.5 1516L1388.9 1516L1390.3 1521.8L1391.7 1522.2L1392.7 1519.7L1393.7 1517.6L1394.7 1521.2L1395.7 1528.4L1396.7 1519.5L1397.7 1521.9L1398.7 1523.3L1399.7 1525.5L1400.7 1519.6L1401.7 1522.1L1402.7 1522.3L1403.7 1523.1L1404.7 1523.5L1405.7 1523L1406.7 1521.1L1407.7 1528.5L1408.7 1525.3L1409.7 1526.3L1410.7 1520.7L1411.7 1526L1412.7 1530.7L1413.7 1526.2L1414.7 1529.1L1415.7 1529.7L1416.7 1529.3L1417.7 1532.6L1418.7 1534.9L1419.7 1523.7L1420.7 1529.3L1421.7 1532.3L1422.7 1528L1423.7 1526.4L1424.7 1536L1425.7 1531.9L1426.7 1530L1427.7 1534.1L1428.7 1530.4L1429.7 1536.6L1430.7 1535.4L1431.7 1534.3L1432.7 1533.4L1433.7 1535L1434.7 1537.7L1435.7 1536.7L1436.7 1543.2L1437.7 1529.4L1438.7 1537L1439.7 1536.7L1440.7 1535.2L1441.7 1534.8L1442.7 1535.8L1443.7 1539.8L1444.7 1543.9L1445.7 1538.6L1446.7 1541.2L1447.7 1540.4L1448.7 1538.5L1449.7 1538.3L1450.7 1535.6L1451.7 1540.6L1452.7 1547.1L1453.7 1538.4L1454.7 1537.3L1455.7 1546.8L1456.7 1538.2L1457.7 1539.8L1458.7 1543.3L1459.7 1541.4L1460.7 1541.5L1461.7 1541.5L1462.7 1540.2L1463.7 1544.6L1464.7 1545L1465.7 1537.4L1466.7 1550.2L1467.7 1546.9L1468.7 1547.4L1469.7 1543.5L1470.7 1542.7L1471.7 1552.7L1472.7 1543.2L1473.7 1553.3L1474.7 1539.4L1475.7 1551.6L1476.7 1544.5L1477.7 1549.1L1478.7 1545.1L1479.7 1551.2L1480.7 1547.6L1481.7 1548.5L1482.7 1548.8L1483.7 1546.9L1484.7 1552.3L1485.7 1551.9L1486.7 1556.5L1487.7 1550.7L1488.7 1552.6L1489.7 1547.4L1490.7 1549.4L1491.7 1556.9L1492.7 1553L1493.7 1550.6L1494.7 1557.2L1495.7 1562.2L1496.7 1546.3L1497.7 1553.2L1498.7 1552L1499.7 1544.5L1500.7 1558.5L1501.7 1553.5L1502.7 1565.2L1503.7 1553.8L1504.7 1554.6L1505.7 1560.7L1506.7 1561.2L1507.7 1557.3L1508.7 1557.4L1509.7 1549.4L1510.7 1557.6L1511.7 1557.8L1512.7 1558.7L1513.7 1567L1514.7 1560.7L1515.7 1565.1L1516.7 1556.5L1517.7 1569.7L1518.7 1564.1L1519.7 1557.5L1520.7 1572L1521.7 1570L1522.7 1557L1523.7 1569.4L1524.7 1561.1L1525.7 1559.2L1526.7 1566.8L1527.7 1570.7L1528.7 1553.8L1529.7 1564.9L1530.7 1559.5L1531.7 1567L1532.7 1560.5L1533.7 1570.2L1534.7 1570.4L1535.7 1568.6L1536.7 1566.7L1537.7 1567.9L1538.7 1567.4L1539.7 1564.5L1540.7 1571.4L1541.7 1564L1542.7 1573.2L1543.7 1565.3L1544.7 1561.6L1545.7 1559.2L1546.7 1581.5L1547.7 1559.4L1548.7 1580.5L1549.7 1561.1L1550.7 1568.8L1551.7 1567.2L1552.7 1576.5L1553.7 1566.2L1554.7 1569.1L1555.7 1578.2L1556.7 1579.8L1557.7 1571.5L1558.7 1570.7L1559.7 1572.1L1560.7 1579L1561.7 1576L1562.7 1570.6L1563.7 1570.8L1564.7 1568.6L1565.7 1573.8L1566.7 1579.8L1567.7 1573.1L1568.7 1572.5L1569.7 1579.5L1570.7 1573L1571.7 1582.2L1572.7 1574.2L1573.7 1580.3L1574.7 1562.8L1575.7 1568.4L1576.7 1574.4L1577.7 1586.8L1578.7 1586.4L1579.7 1572.6L1580.7 1578.5L1581.7 1575.8L1582.7 1591.1L1583.7 1590.9L1584.7 1577.8L1585.7 1580.3L1586.7 1589.5L1587.7 1585L1588.7 1573L1589.7 1582.2L1590.7 1575.7L1591.7 1569.5L1592.7 1578.9L1593.7 1580.4L1594.7 1586.2L1595.7 1572.3L1596.7 1593L1597.7 1590.3L1598.7 1581.6L1599.7 1595.9L1600.7 1576.9L1601.7 1589.9L1602.7 1580.2L1603.7 1586.2L1604.7 1585.3L1605.7 1582.8L1606.7 1601.4L1607.7 1593.2L1608.7 1587.1L1609.7 1565.9L1610.7 1575.5L1611.7 1575.7L1612.7 1591L1613.7 1574.8L1614.7 1573.2L1615.7 1578.3L1616.7 1565.8L1617.7 1600.8L1618.7 1599.7L1619.7 1592.7L1620.7 1600.1L1621.7 1589L1622.7 1583.9L1623.7 1586.7L1624.7 1584.5L1625.7 1581.7L1626.7 1578.9L1627.7 1592L1628.7 1591.8L1629.7 1574.5L1630.7 1587.5L1631.7 1592.5L1632.7 1581L1633.7 1587.4L1634.7 1583.1L1635.7 1586L1636.7 1582L1637.7 1582.4L1638.7 1602.6L1639.7 1610L1640.7 1584.7L1641.7 1606.9L1642.7 1615.6L1643.7 1617.2L1644.7 1593.4L1645.7 1598.1L1646.7 1610.3L1647.7 1599.2L1648.7 1600.2L1649.7 1578.5L1650.7 1585.8L1651.7 1588.7L1652.7 1604.6L1653.7 1592.2L1654.7 1584.6L1655.7 1590L1656.7 1581.6L1657.7 1590.9L1658.7 1584.7L1659.7 1586.2L1660.7 1597.1L1661.7 1576.3L1662.7 1585.7L1663.7 1581.6L1664.7 1604.5L1665.7 1606.1L1666.7 1595.4L1667.7 1604.2L1668.7 1587.6L1669.7 1590L1670.7 1582.3L1671.7 1590.2L1672.7 1613.3L1673.7 1589.9L1674.7 1610.4L1675.7 1612.9L1676.7 1603.5L1677.7 1605.5L1678.7 1596L1679.7 1579L1680.7 1605.2L1681.7 1594.7L1682.7 1612L1683.7 1604.3L1684.7 1613.8L1685.7 1611.8L1686.7 1591.7L1687.7 1600.7L1688.7 1600.3L1689.7 1614.9L1690.7 1584.9L1691.7 1603.6L1692.7 1609L1693.7 1600.3L1694.7 1593.5L1695.7 1593.8L1696.7 1587.5L1697.7 1618.4L1698.7 1611.1L1699.7 1590L1700.7 1583.1L1701.7 1615.2L1702.7 1607.2L1703.7 1625.1L1704.7 1613.2L1705.7 1612.3L1706.7 1601.2L1707.7 1616.7L1708.7 1593.1L1709.7 1606.6L1710.7 1611.7L1711.7 1600.1L1712.7 1613.3L1713.7 1624.7L1714.7 1604.8L1715.7 1579.4L1716.7 1597.8L1717.7 1591L1718.7 1597.9L1719.7 1597.6L1720.7 1589L1721.7 1629.9L1722.7 1611.3L1723.7 1603.6L1724.7 1600.6L1725.7 1583.7L1726.7 1575.6L1727.7 1597.2L1728.7 1602.3L1729.7 1601.5L1730.7 1594.1L1731.7 1623.2L1732.7 1615.6L1733.7 1605.2L1734.7 1601.3L1735.7 1628L1736.7 1596.6L1737.7 1622.5L1738.7 1593.5L1739.7 1593.1L1740.7 1632.7L1741.7 1596.9L1742.7 1600.1L1743.7 1610.8L1744.7 1593.3L1745.7 1583.5L1746.7 1599.7L1747.7 1619.3L1748.7 1623.1L1749.7 1618.2L1750.7 1615.6L1751.7 1590.6L1752.7 1600.4L1753.7 1605.2L1754.7 1596.7L1755.7 1605.5L1756.7 1604.6L1757.7 1615.2L1758.7 1611.6L1759.7 1603L1760.7 1620.8L1761.7 1590.3L1762.7 1608.6L1763.7 1618.4L1764.7 1600.6L1765.7 1623.6L1766.7 1595.8L1767.7 1603.1L1768.7 1582.2L1769.7 1607.8L1770.7 1605.3L1771.7 1611.7L1772.7 1617.6L1773.7 1598.7L1774.7 1616.4L1775.7 1599.9L1776.7 1613.2L1777.7 1594.7L1778.7 1641.5L1779.7 1604L1780.7 1608.4L1781.7 1609.1L1782.7 1617.7L1783.7 1591.3L1784.7 1615.6L1785.7 1606.3L1786.7 1614.9" stroke="#0072BD"/>
<path d="M1017.1 1387.2L1020.1 1388.4L1023.1 1389.5L1026.1 1390.6L1029.1 1391.8L1032.1 1392.9L1035.1 1394L1038.1 1395.2L1041.1 1396.3L1044.1 1397.4L1047.1 1398.5L1050.1 1399.7L1053.1 1400.8L1056.1 1401.9L1059.1 1403.1L1062.1 1404.2L1065.1 1405.3L1068.1 1406.5L1071.1 1407.6L1074.1 1408.8L1077.1 1409.9L1080.1 1411L1083.1 1412.2L1086.1 1413.3L1089.1 1414.4L1092.1 1415.6L1095.1 1416.7L1098.1 1417.8L1101.1 1419L1104.1 1420.1L1107.1 1421.3L1110.1 1422.4L1113.1 1423.5L1116.1 1424.7L1119.1 1425.8L1122.1 1427L1125.1 1428.1L1128.1 1429.2L1131.1 1430.4L1134.1 1431.5L1137.1 1432.7L1140.1 1433.8L1143.1 1434.9L1146.1 1436.1L1149.1 1437.2L1152.1 1438.4L1155.1 1439.5L1158.1 1440.6L1161.1 1441.8L1164.1 1442.9L1166.1 1443.7L1168.1 1444.5L1170.1 1445.2L1172.1 1446.1L1174.1 1446.8L1176.1 1447.7L1178.1 1448.3L1180.1 1449.2L1182.1 1450L1184.1 1450.7L1186.1 1451.4L1188.1 1452.2L1190.1 1453L1192.1 1453.9L1194.1 1454.4L1196.1 1455.5L1198.1 1456.2L1200.1 1456.9L1202.1 1457.7L1204.1 1458.1L1206.1 1459L1208.1 1459.6L1210.1 1460.6L1212.1 1461.1L1214.1 1462.1L1216.1 1462.9L1218.1 1463.6L1220.1 1464.3L1222.1 1465.1L1224.1 1466L1226.1 1467.2L1228.1 1467.4L1230.1 1469L1232.1 1468.7L1234.1 1469.6L1236.1 1469.7L1238.1 1471.8L1240.1 1470.6L1242.1 1472.2L1244.1 1473.6L1246.1 1473.4L1248.1 1474.1L1250.1 1474.8L1252.1 1474.7L1254.1 1476.8L1256.1 1476.9L1258.1 1477.7L1260.1 1479L1262.1 1479.2L1264.1 1479.5L1266.1 1481.4L1268.1 1481.2L1270.1 1481.5L1272.1 1482.2L1274.1 1484.4L1276.1 1483.5L1278.1 1484.5L1280.1 1483.9L1282.1 1485.5L1284.1 1484.7L1286.1 1487.9L1288.1 1487.2L1289.5 1488.9L1290.9 1487.1L1292.3 1487.7L1293.7 1490.3L1295.1 1489.1L1296.5 1490.2L1297.9 1492.4L1299.3 1492.3L1300.7 1491.6L1302.1 1491.8L1303.5 1493.2L1304.9 1493L1306.3 1493.6L1307.7 1494.3L1309.1 1496.7L1310.5 1495.7L1311.9 1495.8L1313.3 1498.7L1314.7 1495.4L1316.1 1495.6L1317.5 1497.2L1318.9 1495.4L1320.3 1499.2L1321.7 1499.8L1323.1 1499.9L1324.5 1500.5L1325.9 1497.7L1327.3 1500.3L1328.7 1500.8L1330.1 1500.7L1331.5 1499.5L1332.9 1501.8L1334.3 1503.2L1335.7 1502.7L1337.1 1501.8L1338.5 1504.3L1339.9 1502.2L1341.3 1504L1342.7 1504.8L1344.1 1503.9L1345.5 1502L1346.9 1505.7L1348.3 1503.6L1349.7 1505.3L1351.1 1506.4L1352.5 1507.1L1353.9 1506.4L1355.3 1507.1L1356.7 1508L1358.1 1507.9L1359.5 1511.4L1360.9 1511.5L1362.3 1512.9L1363.7 1511.9L1365.1 1512.1L1366.5 1512.9L1367.9 1511.3L1369.3 1514.8L1370.7 1513.2L1372.1 1511.1L1373.5 1509.7L1374.9 1513.2L1376.3 1511.2L1377.7 1511.1L1379.1 1516.9L1380.5 1514.3L1381.9 1518L1383.3 1516.7L1384.7 1515.3L1386.1 1520.1L1387.5 1516L1388.9 1518.1L1390.3 1518.9L1391.7 1517.6L1392.7 1521.4L1393.7 1524.2L1394.7 1519.6L1395.7 1522L1396.7 1520.8L1397.7 1523.8L1398.7 1523.9L1399.7 1524.8L1400.7 1526.2L1401.7 1525.5L1402.7 1526L1403.7 1524.2L1404.7 1517.4L1405.7 1526.9L1406.7 1530.2L1407.7 1524.4L1408.7 1529.9L1409.7 1529.1L1410.7 1527.6L1411.7 1526.6L1412.7 1526.6L1413.7 1526.2L1414.7 1527.1L1415.7 1524L1416.7 1524.7L1417.7 1529L1418.7 1528.4L1419.7 1532.7L1420.7 1527.2L1421.7 1530L1422.7 1525L1423.7 1532.6L1424.7 1526.8L1425.7 1533.8L1426.7 1536.4L1427.7 1533.8L1428.7 1530.4L1429.7 1529.2L1430.7 1535.7L1431.7 1531.1L1432.7 1536.7L1433.7 1537.6L1434.7 1537.4L1435.7 1531.8L1436.7 1535.7L1437.7 1535.1L1438.7 1541.2L1439.7 1535.3L1440.7 1535.1L1441.7 1531.8L1442.7 1540.6L1443.7 1541.1L1444.7 1542.8L1445.7 1542.5L1446.7 1538.2L1447.7 1543L1448.7 1536L1449.7 1539.5L1450.7 1543.3L1451.7 1542.8L1452.7 1546.3L1453.7 1547.2L1454.7 1538.1L1455.7 1538.8L1456.7 1545.1L1457.7 1542.9L1458.7 1536.2L1459.7 1544.6L1460.7 1541.4L1461.7 1540.9L1462.7 1543.6L1463.7 1543.7L1464.7 1544.4L1465.7 1542.7L1466.7 1549.9L1467.7 1543.5L1468.7 1543.4L1469.7 1549.8L1470.7 1542.3L1471.7 1547.3L1472.7 1554.3L1473.7 1551.4L1474.7 1543.1L1475.7 1542.4L1476.7 1547.6L1477.7 1553.6L1478.7 1549.1L1479.7 1546.2L1480.7 1550.2L1481.7 1557L1482.7 1548.7L1483.7 1551.4L1484.7 1551.4L1485.7 1550.5L1486.7 1548.8L1487.7 1551.5L1488.7 1555.8L1489.7 1552.3L1490.7 1551.7L1491.7 1548.1L1492.7 1558.5L1493.7 1553L1494.7 1556.4L1495.7 1550.6L1496.7 1554L1497.7 1566.6L1498.7 1547.8L1499.7 1555.7L1500.7 1559.2L1501.7 1562.9L1502.7 1562.5L1503.7 1565.7L1504.7 1561.5L1505.7 1561.3L1506.7 1562.8L1507.7 1560.5L1508.7 1565.4L1509.7 1556.6L1510.7 1557.7L1511.7 1553.7L1512.7 1552L1513.7 1556.5L1514.7 1549.6L1515.7 1552.1L1516.7 1558.8L1517.7 1550L1518.7 1551.5L1519.7 1568.3L1520.7 1573L1521.7 1564.2L1522.7 1558.5L1523.7 1556.2L1524.7 1557.2L1525.7 1560.4L1526.7 1556.6L1527.7 1559.3L1528.7 1567.1L1529.7 1565.3L1530.7 1562.5L1531.7 1571.8L1532.7 1571.6L1533.7 1572.6L1534.7 1560.2L1535.7 1563.6L1536.7 1562.7L1537.7 1569.5L1538.7 1567.9L1539.7 1562.4L1540.7 1570.7L1541.7 1563.5L1542.7 1569.6L1543.7 1569.7L1544.7 1566.7L1545.7 1565L1546.7 1560.3L1547.7 1571.7L1548.7 1561.2L1549.7 1575.1L1550.7 1575.9L1551.7 1585.3L1552.7 1566.1L1553.7 1563L1554.7 1579.3L1555.7 1573.7L1556.7 1573.5L1557.7 1582.9L1558.7 1572.2L1559.7 1571.4L1560.7 1577.2L1561.7 1581.8L1562.7 1574.9L1563.7 1573.7L1564.7 1588.1L1565.7 1578.7L1566.7 1574.3L1567.7 1597.2L1568.7 1573.8L1569.7 1565.1L1570.7 1584.3L1571.7 1567.5L1572.7 1578.1L1573.7 1573.4L1574.7 1579.1L1575.7 1587.4L1576.7 1592.5L1577.7 1565.6L1578.7 1590.8L1579.7 1582.5L1580.7 1571.3L1581.7 1577.3L1582.7 1577.4L1583.7 1594.5L1584.7 1583.7L1585.7 1590.4L1586.7 1595.5L1587.7 1580L1588.7 1578.3L1589.7 1591L1590.7 1590.5L1591.7 1582.2L1592.7 1578.6L1593.7 1592.3L1594.7 1574.3L1595.7 1574L1596.7 1578.3L1597.7 1586.8L1598.7 1572.7L1599.7 1572L1600.7 1565.5L1601.7 1583.9L1602.7 1568.7L1603.7 1583.6L1604.7 1577L1605.7 1581.6L1606.7 1579.6L1607.7 1569.8L1608.7 1586.7L1609.7 1574.9L1610.7 1584.2L1611.7 1582.8L1612.7 1589.4L1613.7 1580.8L1614.7 1600.9L1615.7 1583.6L1616.7 1573L1617.7 1573.9L1618.7 1596.2L1619.7 1591.9L1620.7 1586.3L1621.7 1569.5L1622.7 1589.7L1623.7 1587L1624.7 1590.8L1625.7 1586.8L1626.7 1599.2L1627.7 1588.5L1628.7 1587.6L1629.7 1583.9L1630.7 1601.9L1631.7 1585L1632.7 1576L1633.7 1584.5L1634.7 1584.9L1635.7 1616.9L1636.7 1579.8L1637.7 1575.8L1638.7 1582.7L1639.7 1589.2L1640.7 1586.3L1641.7 1567.5L1642.7 1601.4L1643.7 1598.2L1644.7 1584.1L1645.7 1591.3L1646.7 1617.9L1647.7 1590.3L1648.7 1588.4L1649.7 1601.6L1650.7 1586.1L1651.7 1586.1L1652.7 1608.8L1653.7 1581.9L1654.7 1566.5L1655.7 1570.6L1656.7 1601.8L1657.7 1605.8L1658.7 1590.7L1659.7 1589.5L1660.7 1608.7L1661.7 1600.6L1662.7 1577.7L1663.7 1589.2L1664.7 1582.8L1665.7 1595L1666.7 1585.6L1667.7 1603.2L1668.7 1602.3L1669.7 1606L1670.7 1616.4L1671.7 1594.4L1672.7 1606.2L1673.7 1593.9L1674.7 1586.2L1675.7 1586.5L1676.7 1585L1677.7 1595.1L1678.7 1591L1679.7 1578.5L1680.7 1593.2L1681.7 1592L1682.7 1626.6L1683.7 1610.2L1684.7 1586.1L1685.7 1611.6L1686.7 1616.5L1687.7 1592.4L1688.7 1617.8L1689.7 1589.1L1690.7 1598.4L1691.7 1603.3L1692.7 1620.7L1693.7 1579L1694.7 1617.9L1695.7 1611.3L1696.7 1587.8L1697.7 1613.7L1698.7 1592.4L1699.7 1598.9L1700.7 1602.8L1701.7 1614L1702.7 1609.8L1703.7 1599.8L1704.7 1618.2L1705.7 1600.4L1706.7 1606.1L1707.7 1604.4L1708.7 1608.7L1709.7 1605.9L1710.7 1608L1711.7 1603.2L1712.7 1607.4L1713.7 1607.6L1714.7 1622.9L1715.7 1632.7L1716.7 1607.4L1717.7 1596.4L1718.7 1617.2L1719.7 1624.6L1720.7 1609.8L1721.7 1598.6L1722.7 1593.7L1723.7 1607.7L1724.7 1620.2L1725.7 1606.1L1726.7 1598.9L1727.7 1607.4L1728.7 1597.1L1729.7 1615.8L1730.7 1601.8L1731.7 1595.2L1732.7 1625.4L1733.7 1621.5L1734.7 1599.5L1735.7 1569.6L1736.7 1592.3L1737.7 1594.4L1738.7 1578.5L1739.7 1593.6L1740.7 1615.8L1741.7 1610.3L1742.7 1587.2L1743.7 1627L1744.7 1625.5L1745.7 1598.4L1746.7 1604.8L1747.7 1592.3L1748.7 1617.6L1749.7 1612L1750.7 1606.5L1751.7 1619.1L1752.7 1606.4L1753.7 1606L1754.7 1594.8L1755.7 1605.4L1756.7 1610.5L1757.7 1601.2L1758.7 1596.6L1759.7 1599.1L1760.7 1608.2L1761.7 1616.6L1762.7 1617.1L1763.7 1626.9L1764.7 1607L1765.7 1607.1L1766.7 1589.1L1767.7 1604L1768.7 1598.9L1769.7 1593.1L1770.7 1631.4L1771.7 1613.9L1772.7 1606.6L1773.7 1600.2L1774.7 1615.3L1775.7 1590.2L1776.7 1589.6L1777.7 1594.3L1778.7 1593.4L1779.7 1616.7L1780.7 1591.5L1781.7 1612.6L1782.7 1629.7L1783.7 1602L1784.7 1597.6L1785.7 1610.1L1786.7 1622.7" stroke="#D95319"/>
<path d="M1017.1 1389.2L1020.1 1390.4L1023.1 1391.5L1026.1 1392.6L1029.1 1393.7L1032.1 1394.8L1035.1 1395.9L1038.1 1397L1041.1 1398.2L1044.1 1399.3L1047.1 1400.4L1050.1 1401.5L1053.1 1402.6L1056.1 1403.8L1059.1 1404.9L1062.1 1406L1065.1 1407.1L1068.1 1408.2L1071.1 1409.4L1074.1 1410.5L1077.1 1411.6L1080.1 1412.7L1083.1 1413.9L1086.1 1415L1089.1 1416.1L1092.1 1417.2L1095.1 1418.3L1098.1 1419.5L1101.1 1420.6L1104.1 1421.7L1107.1 1422.9L1110.1 1424L1113.1 1425.1L1116.1 1426.2L1119.1 1427.4L1122.1 1428.5L1125.1 1429.6L1128.1 1430.8L1131.1 1431.9L1134.1 1433L1137.1 1434.1L1140.1 1435.3L1143.1 1436.4L1146.1 1437.5L1149.1 1438.7L1152.1 1439.8L1155.1 1440.9L1158.1 1442.1L1161.1 1443.2L1164.1 1444.4L1166.1 1445.1L1168.1 1445.9L1170.1 1446.7L1172.1 1447.5L1174.1 1448.2L1176.1 1449L1178.1 1449.9L1180.1 1450.5L1182.1 1451.3L1184.1 1452.1L1186.1 1452.8L1188.1 1453.5L1190.1 1454.1L1192.1 1455.1L1194.1 1456L1196.1 1456.7L1198.1 1457.4L1200.1 1458L1202.1 1458.9L1204.1 1459.7L1206.1 1460.6L1208.1 1461.5L1210.1 1462.1L1212.1 1463.2L1214.1 1463.4L1216.1 1464.2L1218.1 1464.9L1220.1 1465.9L1222.1 1466.5L1224.1 1467.4L1226.1 1467.9L1228.1 1468.8L1230.1 1469.4L1232.1 1470L1234.1 1470.7L1236.1 1472.3L1238.1 1472.7L1240.1 1473.8L1242.1 1473.6L1244.1 1475.1L1246.1 1474.8L1248.1 1476.2L1250.1 1476.2L1252.1 1477.5L1254.1 1478L1256.1 1478.5L1258.1 1479.2L1260.1 1480L1262.1 1480.2L1264.1 1480.5L1266.1 1481.3L1268.1 1482.8L1270.1 1484.5L1272.1 1483.8L1274.1 1486.8L1276.1 1485L1278.1 1485.7L1280.1 1487.9L1282.1 1487.1L1284.1 1488.8L1286.1 1488L1288.1 1490.3L1289.5 1491L1290.9 1491.4L1292.3 1491.1L1293.7 1492.9L1295.1 1490.6L1296.5 1493.4L1297.9 1492L1299.3 1494.3L1300.7 1494.7L1302.1 1495.5L1303.5 1495.7L1304.9 1494.6L1306.3 1493.9L1307.7 1495L1309.1 1496.5L1310.5 1495.5L1311.9 1497.3L1313.3 1500.5L1314.7 1497.5L1316.1 1500.7L1317.5 1499.9L1318.9 1499.5L1320.3 1500.7L1321.7 1501L1323.1 1499.3L1324.5 1500.3L1325.9 1499.8L1327.3 1501.5L1328.7 1501.5L1330.1 1499.7L1331.5 1503.2L1332.9 1502.2L1334.3 1502.9L1335.7 1503.3L1337.1 1503.4L1338.5 1504.5L1339.9 1504L1341.3 1507.2L1342.7 1505.7L1344.1 1509.2L1345.5 1506.4L1346.9 1507.2L1348.3 1509.5L1349.7 1510.3L1351.1 1509.6L1352.5 1508.8L1353.9 1513.1L1355.3 1512.5L1356.7 1509.4L1358.1 1511.9L1359.5 1514.7L1360.9 1517.5L1362.3 1514.3L1363.7 1518.1L1365.1 1514.6L1366.5 1515.5L1367.9 1512.3L1369.3 1518.9L1370.7 1514.8L1372.1 1519.1L1373.5 1518.8L1374.9 1517.1L1376.3 1519.1L1377.7 1513.8L1379.1 1517.9L1380.5 1520.1L1381.9 1513.8L1383.3 1520.9L1384.7 1520.3L1386.1 1520.5L1387.5 1522.7L1388.9 1520.2L1390.3 1519.8L1391.7 1526.5L1392.7 1524.8L1393.7 1524.8L1394.7 1527.9L1395.7 1527.8L1396.7 1525.3L1397.7 1526.8L1398.7 1523.5L1399.7 1522.2L1400.7 1523.6L1401.7 1523.6L1402.7 1527.4L1403.7 1527.3L1404.7 1525.7L1405.7 1526.3L1406.7 1529L1407.7 1528.4L1408.7 1531.1L1409.7 1534.5L1410.7 1530.6L1411.7 1532.8L1412.7 1536.6L1413.7 1529.1L1414.7 1530L1415.7 1529.2L1416.7 1532.8L1417.7 1528.2L1418.7 1531.5L1419.7 1531.2L1420.7 1536.4L1421.7 1535.6L1422.7 1531.3L1423.7 1534.3L1424.7 1533.7L1425.7 1529.6L1426.7 1530.3L1427.7 1533L1428.7 1529.2L1429.7 1539.8L1430.7 1535.5L1431.7 1537.2L1432.7 1531.3L1433.7 1530.6L1434.7 1536.4L1435.7 1534.6L1436.7 1533.2L1437.7 1535.3L1438.7 1537.1L1439.7 1536.2L1440.7 1534.3L1441.7 1539.5L1442.7 1543.7L1443.7 1539.7L1444.7 1539L1445.7 1539.9L1446.7 1536.2L1447.7 1536.2L1448.7 1536.1L1449.7 1538L1450.7 1539.3L1451.7 1544.5L1452.7 1542.4L1453.7 1544.9L1454.7 1541.2L1455.7 1543.4L1456.7 1543.8L1457.7 1542.8L1458.7 1546.4L1459.7 1542.7L1460.7 1543.2L1461.7 1550.5L1462.7 1542.8L1463.7 1548.5L1464.7 1550.2L1465.7 1548.8L1466.7 1552.9L1467.7 1546.7L1468.7 1544.1L1469.7 1554.5L1470.7 1546.7L1471.7 1546.1L1472.7 1545.7L1473.7 1545.8L1474.7 1546.8L1475.7 1551L1476.7 1546.9L1477.7 1549.8L1478.7 1549.1L1479.7 1551.5L1480.7 1554.2L1481.7 1553L1482.7 1550.2L1483.7 1548.2L1484.7 1560.4L1485.7 1557.8L1486.7 1560.1L1487.7 1555.9L1488.7 1557.3L1489.7 1554.1L1490.7 1557L1491.7 1551.3L1492.7 1559.6L1493.7 1560.5L1494.7 1561.5L1495.7 1559.1L1496.7 1556.8L1497.7 1559.1L1498.7 1560.4L1499.7 1562L1500.7 1554.6L1501.7 1558.7L1502.7 1561.9L1503.7 1559.7L1504.7 1558.2L1505.7 1552.3L1506.7 1554.2L1507.7 1565.1L1508.7 1562.6L1509.7 1570.3L1510.7 1570.6L1511.7 1570.7L1512.7 1558.1L1513.7 1563.6L1514.7 1571.6L1515.7 1568.1L1516.7 1567.8L1517.7 1568.9L1518.7 1559.2L1519.7 1576.1L1520.7 1568.1L1521.7 1564.4L1522.7 1563.4L1523.7 1577.9L1524.7 1565.2L1525.7 1574L1526.7 1571L1527.7 1577.7L1528.7 1565.9L1529.7 1555.9L1530.7 1565.3L1531.7 1571.2L1532.7 1578.9L1533.7 1563.4L1534.7 1561.2L1535.7 1573.3L1536.7 1562.5L1537.7 1578.5L1538.7 1576.3L1539.7 1568.5L1540.7 1578.3L1541.7 1566.2L1542.7 1562.7L1543.7 1568.9L1544.7 1566.3L1545.7 1560.5L1546.7 1565.4L1547.7 1561.3L1548.7 1560.7L1549.7 1575.1L1550.7 1557.7L1551.7 1563.3L1552.7 1569.1L1553.7 1566.5L1554.7 1569.8L1555.7 1570.8L1556.7 1579.3L1557.7 1575.8L1558.7 1575.9L1559.7 1568.5L1560.7 1572.1L1561.7 1572.7L1562.7 1575.9L1563.7 1568.6L1564.7 1593.2L1565.7 1582.9L1566.7 1571.7L1567.7 1580.4L1568.7 1574.2L1569.7 1569.1L1570.7 1573.1L1571.7 1587.8L1572.7 1578.2L1573.7 1584.7L1574.7 1573.5L1575.7 1570.6L1576.7 1579.4L1577.7 1576L1578.7 1582L1579.7 1570.2L1580.7 1581.2L1581.7 1580.4L1582.7 1577.7L1583.7 1573.9L1584.7 1575.2L1585.7 1578.9L1586.7 1578.1L1587.7 1575.5L1588.7 1575.3L1589.7 1582.3L1590.7 1584.3L1591.7 1582L1592.7 1577.7L1593.7 1585.2L1594.7 1591.4L1595.7 1586.1L1596.7 1588.1L1597.7 1580.6L1598.7 1589.5L1599.7 1589.2L1600.7 1573.7L1601.7 1583.6L1602.7 1594.9L1603.7 1578.9L1604.7 1590.1L1605.7 1593.8L1606.7 1582L1607.7 1598.9L1608.7 1587L1609.7 1582.8L1610.7 1581.5L1611.7 1591.2L1612.7 1590.7L1613.7 1586.5L1614.7 1576.9L1615.7 1602.5L1616.7 1580.5L1617.7 1585L1618.7 1578.1L1619.7 1599.5L1620.7 1580.6L1621.7 1597.5L1622.7 1587L1623.7 1593.1L1624.7 1613L1625.7 1589.2L1626.7 1585.3L1627.7 1581.4L1628.7 1594.5L1629.7 1600.5L1630.7 1584.1L1631.7 1594.8L1632.7 1585.3L1633.7 1585.1L1634.7 1601.4L1635.7 1602.4L1636.7 1608.8L1637.7 1622.1L1638.7 1599.4L1639.7 1591.6L1640.7 1587.2L1641.7 1595.1L1642.7 1579.3L1643.7 1601L1644.7 1596.6L1645.7 1603.6L1646.7 1604.4L1647.7 1604.8L1648.7 1611.2L1649.7 1609.2L1650.7 1602L1651.7 1602.3L1652.7 1613.2L1653.7 1594.5L1654.7 1606.7L1655.7 1592.2L1656.7 1595.4L1657.7 1619L1658.7 1609.1L1659.7 1588.9L1660.7 1606.9L1661.7 1609.7L1662.7 1609.9L1663.7 1606.2L1664.7 1603.6L1665.7 1613.7L1666.7 1594.6L1667.7 1617.9L1668.7 1616.7L1669.7 1612.9L1670.7 1608.5L1671.7 1594.8L1672.7 1584.4L1673.7 1609.9L1674.7 1606.1L1675.7 1597.1L1676.7 1605.5L1677.7 1597.1L1678.7 1620.8L1679.7 1599.5L1680.7 1635.9L1681.7 1602.4L1682.7 1601.2L1683.7 1583.7L1684.7 1620.4L1685.7 1601.9L1686.7 1602L1687.7 1619.6L1688.7 1603.5L1689.7 1615.5L1690.7 1618.9L1691.7 1623.9L1692.7 1609.3L1693.7 1622.8L1694.7 1639L1695.7 1612.3L1696.7 1639.7L1697.7 1612.3L1698.7 1617.5L1699.7 1630.5L1700.7 1639.6L1701.7 1629.7L1702.7 1634.1L1703.7 1620.2L1704.7 1618.9L1705.7 1588.3L1706.7 1638.9L1707.7 1618L1708.7 1604L1709.7 1599.1L1710.7 1596.5L1711.7 1624.1L1712.7 1605.1L1713.7 1652.2L1714.7 1618.4L1715.7 1606.5L1716.7 1606.4L1717.7 1629.8L1718.7 1620.1L1719.7 1635.9L1720.7 1617.1L1721.7 1626.2L1722.7 1607.7L1723.7 1623.4L1724.7 1610.8L1725.7 1621.6L1726.7 1627.4L1727.7 1607.6L1728.7 1615.3L1729.7 1645.3L1730.7 1613.7L1731.7 1618.2L1732.7 1609.5L1733.7 1614.8L1734.7 1639.3L1735.7 1617.6L1736.7 1642.1L1737.7 1626.8L1738.7 1616.3L1739.7 1593.5L1740.7 1605.8L1741.7 1604.7L1742.7 1600.8L1743.7 1622.8L1744.7 1603.3L1745.7 1615.9L1746.7 1633.5L1747.7 1629.8L1748.7 1626L1749.7 1616.4L1750.7 1606.9L1751.7 1623.7L1752.7 1621L1753.7 1598.6L1754.7 1584.2L1755.7 1598.5L1756.7 1615.5L1757.7 1623.2L1758.7 1612.5L1759.7 1617.2L1760.7 1631.3L1761.7 1607.2L1762.7 1595.5L1763.7 1632.5L1764.7 1631.4L1765.7 1626.5L1766.7 1634.3L1767.7 1606.6L1768.7 1631.3L1769.7 1603.5L1770.7 1605.2L1771.7 1601.8L1772.7 1630L1773.7 1610.1L1774.7 1610.2L1775.7 1605.5L1776.7 1612.4L1777.7 1625.3L1778.7 1607.1L1779.7 1605.4L1780.7 1606.2L1781.7 1630.1L1782.7 1614.8L1783.7 1632L1784.7 1621.9L1785.7 1611.6L1786.7 1637.3" stroke="#EDB120"/>
<path d="M1017.1 1381.2L1020.1 1382.5L1023.1 1383.8L1026.1 1385L1029.1 1386.3L1032.1 1387.6L1035.1 1388.8L1038.1 1390.1L1041.1 1391.4L1044.1 1392.7L1047.1 1393.9L1050.1 1395.2L1053.1 1396.5L1056.1 1397.8L1059.1 1399L1062.1 1400.3L1065.1 1401.6L1068.1 1402.9L1071.1 1404.1L1074.1 1405.4L1077.1 1406.7L1080.1 1408L1083.1 1409.2L1086.1 1410.5L1089.1 1411.8L1092.1 1413.1L1095.1 1414.4L1098.1 1415.6L1101.1 1416.9L1104.1 1418.2L1107.1 1419.5L1110.1 1420.8L1113.1 1422.1L1116.1 1423.3L1119.1 1424.6L1122.1 1425.9L1125.1 1427.2L1128.1 1428.5L1131.1 1429.8L1134.1 1431.1L1137.1 1432.4L1140.1 1433.7L1143.1 1435L1146.1 1436.3L1149.1 1437.7L1152.1 1439L1155.1 1440.3L1158.1 1441.6L1161.1 1442.9L1164.1 1444.2L1166.1 1445.1L1168.1 1446L1170.1 1446.9L1172.1 1447.8L1174.1 1448.7L1176.1 1449.6L1178.1 1450.5L1180.1 1451.2L1182.1 1452.2L1184.1 1453L1186.1 1454.1L1188.1 1455.1L1190.1 1456L1192.1 1456.5L1194.1 1457.4L1196.1 1458.6L1198.1 1459.2L1200.1 1460.1L1202.1 1461.1L1204.1 1461.8L1206.1 1462.4L1208.1 1463.3L1210.1 1464.1L1212.1 1465.1L1214.1 1466L1216.1 1466.7L1218.1 1467.6L1220.1 1468L1222.1 1469.1L1224.1 1469.8L1226.1 1470.7L1228.1 1471.7L1230.1 1472.2L1232.1 1473.1L1234.1 1474L1236.1 1474.1L1238.1 1474.5L1240.1 1475.8L1242.1 1476.7L1244.1 1477.7L1246.1 1478.9L1248.1 1478.6L1250.1 1479.4L1252.1 1480.9L1254.1 1481.2L1256.1 1482.5L1258.1 1482.1L1260.1 1483.4L1262.1 1483.9L1264.1 1483.9L1266.1 1487L1268.1 1485.9L1270.1 1486.6L1272.1 1487.7L1274.1 1488.2L1276.1 1488.2L1278.1 1490.3L1280.1 1491L1282.1 1490.1L1284.1 1491.3L1286.1 1492.4L1288.1 1492.8L1289.5 1493.7L1290.9 1494.4L1292.3 1494.6L1293.7 1494.6L1295.1 1495.8L1296.5 1497.4L1297.9 1496.4L1299.3 1496.5L1300.7 1497.5L1302.1 1497.4L1303.5 1498.5L1304.9 1498.5L1306.3 1499.9L1307.7 1500.7L1309.1 1500.4L1310.5 1500.5L1311.9 1502.3L1313.3 1503.3L1314.7 1501.2L1316.1 1503.7L1317.5 1503.1L1318.9 1504.8L1320.3 1504.5L1321.7 1503.8L1323.1 1504.1L1324.5 1508.3L1325.9 1508.9L1327.3 1512L1328.7 1506.2L1330.1 1505L1331.5 1506.7L1332.9 1507.8L1334.3 1506.7L1335.7 1509.9L1337.1 1508.2L1338.5 1507.9L1339.9 1508.8L1341.3 1510.2L1342.7 1512.8L1344.1 1513L1345.5 1514.5L1346.9 1510.4L1348.3 1511.6L1349.7 1513.9L1351.1 1514.3L1352.5 1514.2L1353.9 1516.3L1355.3 1514.6L1356.7 1515L1358.1 1515.5L1359.5 1516.6L1360.9 1522.9L1362.3 1518.5L1363.7 1522.1L1365.1 1523.6L1366.5 1516.4L1367.9 1522.3L1369.3 1522.1L1370.7 1522.8L1372.1 1524.5L1373.5 1519.5L1374.9 1527.5L1376.3 1522.1L1377.7 1524.8L1379.1 1521.1L1380.5 1522.4L1381.9 1524.4L1383.3 1529L1384.7 1523.9L1386.1 1523.9L1387.5 1525L1388.9 1527.5L1390.3 1525.7L1391.7 1529.3L1392.7 1526.6L1393.7 1526.2L1394.7 1527.5L1395.7 1529.7L1396.7 1527.8L1397.7 1530.3L1398.7 1532.2L1399.7 1527.6L1400.7 1531.5L1401.7 1533.5L1402.7 1534.1L1403.7 1531.9L1404.7 1533.8L1405.7 1534.9L1406.7 1532L1407.7 1532.2L1408.7 1535.2L1409.7 1535.8L1410.7 1529.5L1411.7 1533.8L1412.7 1530.6L1413.7 1532.9L1414.7 1535.7L1415.7 1537.5L1416.7 1534L1417.7 1541L1418.7 1540.6L1419.7 1542.1L1420.7 1539.7L1421.7 1541.8L1422.7 1537.9L1423.7 1542L1424.7 1536.3L1425.7 1536.9L1426.7 1537.4L1427.7 1540.2L1428.7 1535.2L1429.7 1533.8L1430.7 1540.3L1431.7 1543.2L1432.7 1539.6L1433.7 1542.8L1434.7 1542.2L1435.7 1541.3L1436.7 1548.2L1437.7 1541.6L1438.7 1547.8L1439.7 1549L1440.7 1546.5L1441.7 1541.6L1442.7 1548.7L1443.7 1545.7L1444.7 1551.1L1445.7 1546.4L1446.7 1547.6L1447.7 1545.3L1448.7 1548.2L1449.7 1548.6L1450.7 1555.9L1451.7 1547.8L1452.7 1546.7L1453.7 1548.8L1454.7 1549.2L1455.7 1548.2L1456.7 1547.2L1457.7 1553.3L1458.7 1550L1459.7 1548.5L1460.7 1549.5L1461.7 1554.9L1462.7 1560L1463.7 1551.6L1464.7 1551.1L1465.7 1548.7L1466.7 1553.3L1467.7 1558.7L1468.7 1553.9L1469.7 1556.3L1470.7 1559.2L1471.7 1563.1L1472.7 1565.4L1473.7 1560.9L1474.7 1560.1L1475.7 1558.4L1476.7 1559L1477.7 1558.8L1478.7 1553.6L1479.7 1561.1L1480.7 1556.2L1481.7 1564.5L1482.7 1563.7L1483.7 1562.2L1484.7 1567.7L1485.7 1553.3L1486.7 1558.9L1487.7 1558L1488.7 1555.2L1489.7 1560.6L1490.7 1556.6L1491.7 1574.3L1492.7 1558.2L1493.7 1562.4L1494.7 1567.1L1495.7 1561.2L1496.7 1566.1L1497.7 1570.4L1498.7 1577.2L1499.7 1560.7L1500.7 1581.4L1501.7 1568L1502.7 1562L1503.7 1565.4L1504.7 1570.7L1505.7 1568.2L1506.7 1569.5L1507.7 1565L1508.7 1566.8L1509.7 1574.3L1510.7 1576.5L1511.7 1565L1512.7 1577.8L1513.7 1578L1514.7 1562.7L1515.7 1578L1516.7 1581.1L1517.7 1579L1518.7 1569.8L1519.7 1577.1L1520.7 1573.3L1521.7 1585.9L1522.7 1576.5L1523.7 1573.3L1524.7 1574.1L1525.7 1568.4L1526.7 1573.4L1527.7 1593.5L1528.7 1586.5L1529.7 1582.5L1530.7 1579.4L1531.7 1577.7L1532.7 1575.2L1533.7 1589L1534.7 1592.7L1535.7 1575.6L1536.7 1586.6L1537.7 1596L1538.7 1587.6L1539.7 1584.4L1540.7 1589.2L1541.7 1588.6L1542.7 1575.4L1543.7 1587.5L1544.7 1578.6L1545.7 1579.2L1546.7 1583L1547.7 1568.4L1548.7 1589.5L1549.7 1566.6L1550.7 1586.6L1551.7 1581.7L1552.7 1577.9L1553.7 1573.4L1554.7 1575.6L1555.7 1582.3L1556.7 1583.2L1557.7 1575.7L1558.7 1575.5L1559.7 1589.8L1560.7 1580.5L1561.7 1584.8L1562.7 1586.3L1563.7 1595.1L1564.7 1595.5L1565.7 1582.7L1566.7 1605L1567.7 1587.2L1568.7 1580.4L1569.7 1595.6L1570.7 1573.9L1571.7 1574.7L1572.7 1594.2L1573.7 1588.6L1574.7 1590.5L1575.7 1595.3L1576.7 1596L1577.7 1589.9L1578.7 1583.1L1579.7 1593.1L1580.7 1593.3L1581.7 1593.3L1582.7 1599.9L1583.7 1590.4L1584.7 1598.6L1585.7 1602.7L1586.7 1589.9L1587.7 1609.1L1588.7 1597.1L1589.7 1596L1590.7 1594.4L1591.7 1607.5L1592.7 1603.7L1593.7 1597.6L1594.7 1592.7L1595.7 1597.6L1596.7 1597.6L1597.7 1602.3L1598.7 1594.4L1599.7 1620.4L1600.7 1592.7L1601.7 1592.4L1602.7 1600.7L1603.7 1610L1604.7 1591.3L1605.7 1605.8L1606.7 1588L1607.7 1598L1608.7 1600.8L1609.7 1594.9L1610.7 1599.5L1611.7 1595.5L1612.7 1591.6L1613.7 1599.7L1614.7 1603.7L1615.7 1600.7L1616.7 1597.8L1617.7 1600L1618.7 1594.5L1619.7 1593L1620.7 1595L1621.7 1592.5L1622.7 1599.9L1623.7 1593.5L1624.7 1601L1625.7 1598.1L1626.7 1606.1L1627.7 1617.3L1628.7 1605.1L1629.7 1598.3L1630.7 1594.7L1631.7 1598.1L1632.7 1586.4L1633.7 1613.8L1634.7 1620.1L1635.7 1603.7L1636.7 1609.6L1637.7 1602.2L1638.7 1597.3L1639.7 1580.6L1640.7 1619.7L1641.7 1619L1642.7 1610.2L1643.7 1628.7L1644.7 1622.5L1645.7 1603.3L1646.7 1615.1L1647.7 1614.2L1648.7 1603.7L1649.7 1633.8L1650.7 1613.2L1651.7 1615.5L1652.7 1613L1653.7 1627.6L1654.7 1621L1655.7 1616.8L1656.7 1608.3L1657.7 1623.8L1658.7 1609.7L1659.7 1642.7L1660.7 1613.5L1661.7 1610.7L1662.7 1630L1663.7 1623L1664.7 1620.1L1665.7 1618L1666.7 1609.7L1667.7 1620.1L1668.7 1624.7L1669.7 1623L1670.7 1615.4L1671.7 1607.2L1672.7 1609.8L1673.7 1617.9L1674.7 1614.8L1675.7 1621.9L1676.7 1625.2L1677.7 1623.2L1678.7 1627.2L1679.7 1613.9L1680.7 1638.9L1681.7 1623.2L1682.7 1639.4L1683.7 1615.2L1684.7 1618.9L1685.7 1607.7L1686.7 1613.7L1687.7 1632.2L1688.7 1618.6L1689.7 1627.8L1690.7 1627.3L1691.7 1634.6L1692.7 1625.4L1693.7 1620.4L1694.7 1618.8L1695.7 1595.4L1696.7 1622.1L1697.7 1619.1L1698.7 1622.1L1699.7 1626L1700.7 1628.7L1701.7 1625.7L1702.7 1629.2L1703.7 1618.5L1704.7 1620.4L1705.7 1634.6L1706.7 1621.7L1707.7 1618.7L1708.7 1627.2L1709.7 1629.4L1710.7 1630.5L1711.7 1624.6L1712.7 1628.7L1713.7 1636L1714.7 1627.8L1715.7 1613.5L1716.7 1637.8L1717.7 1619.4L1718.7 1630.3L1719.7 1591.4L1720.7 1623.5L1721.7 1629.9L1722.7 1631.4L1723.7 1648.9L1724.7 1635.3L1725.7 1608.4L1726.7 1625.3L1727.7 1633.6L1728.7 1631.3L1729.7 1632.5L1730.7 1647.3L1731.7 1635.5L1732.7 1632L1733.7 1655.8L1734.7 1638.8L1735.7 1669.9L1736.7 1655.1L1737.7 1623.9L1738.7 1619.2L1739.7 1612.4L1740.7 1647.2L1741.7 1631L1742.7 1633.2L1743.7 1617.1L1744.7 1623.6L1745.7 1626L1746.7 1621.8L1747.7 1634.8L1748.7 1620.4L1749.7 1635.3L1750.7 1620.3L1751.7 1628.7L1752.7 1627.1L1753.7 1643.2L1754.7 1648.9L1755.7 1650.9L1756.7 1628.1L1757.7 1663L1758.7 1623.5L1759.7 1642.2L1760.7 1655.3L1761.7 1633.7L1762.7 1651.7L1763.7 1633.9L1764.7 1636.6L1765.7 1620.5L1766.7 1623L1767.7 1622.7L1768.7 1638.2L1769.7 1620.1L1770.7 1633.9L1771.7 1632.4L1772.7 1629.4L1773.7 1631L1774.7 1650.5L1775.7 1626.8L1776.7 1654.1L1777.7 1630.2L1778.7 1636.8L1779.7 1635.8L1780.7 1650.3L1781.7 1625.3L1782.7 1635.1L1783.7 1623L1784.7 1639.7L1785.7 1639.3L1786.7 1629.9" stroke="#7E2F8E"/>
<path d="M1017.1 1388.6L1020.1 1389.7L1023.1 1390.7L1026.1 1391.8L1029.1 1392.9L1032.1 1394L1035.1 1395.1L1038.1 1396.2L1041.1 1397.2L1044.1 1398.3L1047.1 1399.4L1050.1 1400.5L1053.1 1401.6L1056.1 1402.6L1059.1 1403.7L1062.1 1404.8L1065.1 1405.9L1068.1 1407L1071.1 1408.1L1074.1 1409.1L1077.1 1410.2L1080.1 1411.3L1083.1 1412.4L1086.1 1413.5L1089.1 1414.6L1092.1 1415.6L1095.1 1416.7L1098.1 1417.8L1101.1 1418.9L1104.1 1420L1107.1 1421L1110.1 1422.1L1113.1 1423.2L1116.1 1424.3L1119.1 1425.4L1122.1 1426.4L1125.1 1427.5L1128.1 1428.6L1131.1 1429.7L1134.1 1430.8L1137.1 1431.8L1140.1 1432.9L1143.1 1434L1146.1 1435.1L1149.1 1436.2L1152.1 1437.2L1155.1 1438.3L1158.1 1439.4L1161.1 1440.5L1164.1 1441.6L1166.1 1442.3L1168.1 1443L1170.1 1443.8L1172.1 1444.4L1174.1 1445.2L1176.1 1445.9L1178.1 1446.7L1180.1 1447.5L1182.1 1448.3L1184.1 1449.1L1186.1 1449.5L1188.1 1450.3L1190.1 1451.1L1192.1 1452.1L1194.1 1452.5L1196.1 1453.1L1198.1 1453.9L1200.1 1455L1202.1 1455.5L1204.1 1456L1206.1 1456.8L1208.1 1457.3L1210.1 1458.4L1212.1 1459L1214.1 1460.2L1216.1 1460.1L1218.1 1460.9L1220.1 1461.9L1222.1 1463.1L1224.1 1463L1226.1 1464.5L1228.1 1465.2L1230.1 1466.2L1232.1 1466.7L1234.1 1467.2L1236.1 1467.9L1238.1 1467.7L1240.1 1468.5L1242.1 1469.3L1244.1 1470.2L1246.1 1470.6L1248.1 1471.9L1250.1 1471.6L1252.1 1473L1254.1 1473.4L1256.1 1473.6L1258.1 1475L1260.1 1476.1L1262.1 1475.4L1264.1 1477.8L1266.1 1478.2L1268.1 1478.7L1270.1 1479.1L1272.1 1479.3L1274.1 1482.4L1276.1 1480.9L1278.1 1480.2L1280.1 1481L1282.1 1481.8L1284.1 1483.1L1286.1 1483.5L1288.1 1484.8L1289.5 1486.3L1290.9 1484.7L1292.3 1484.6L1293.7 1485.6L1295.1 1486.4L1296.5 1486.2L1297.9 1487.2L1299.3 1487.1L1300.7 1489L1302.1 1491.1L1303.5 1488.8L1304.9 1488.7L1306.3 1490.7L1307.7 1489.7L1309.1 1489.5L1310.5 1494.2L1311.9 1488.6L1313.3 1490.7L1314.7 1492.2L1316.1 1493.9L1317.5 1494.8L1318.9 1489.1L1320.3 1493.5L1321.7 1492.5L1323.1 1494.6L1324.5 1494.5L1325.9 1493.7L1327.3 1496.5L1328.7 1495.7L1330.1 1496.6L1331.5 1496.3L1332.9 1496.2L1334.3 1498L1335.7 1496.1L1337.1 1499.1L1338.5 1499.2L1339.9 1498.8L1341.3 1499.9L1342.7 1498.8L1344.1 1506.1L1345.5 1504.7L1346.9 1506.2L1348.3 1500.1L1349.7 1501.4L1351.1 1504.6L1352.5 1503L1353.9 1508L1355.3 1505.3L1356.7 1502.5L1358.1 1504.2L1359.5 1501.7L1360.9 1506.8L1362.3 1503.7L1363.7 1505.9L1365.1 1505.9L1366.5 1506.6L1367.9 1506.3L1369.3 1506L1370.7 1509.1L1372.1 1508.8L1373.5 1509.9L1374.9 1509L1376.3 1511.7L1377.7 1507.5L1379.1 1508.4L1380.5 1509.6L1381.9 1510.9L1383.3 1513.4L1384.7 1514.9L1386.1 1516.1L1387.5 1515.9L1388.9 1512.4L1390.3 1514.1L1391.7 1519.6L1392.7 1518.3L1393.7 1512.2L1394.7 1511.2L1395.7 1513.1L1396.7 1510.4L1397.7 1517.6L1398.7 1515L1399.7 1518.3L1400.7 1511.6L1401.7 1515.9L1402.7 1516L1403.7 1516.3L1404.7 1519.5L1405.7 1517.9L1406.7 1525.2L1407.7 1519.7L1408.7 1521.9L1409.7 1517.2L1410.7 1516.2L1411.7 1518.8L1412.7 1522.6L1413.7 1522.6L1414.7 1517L1415.7 1519.8L1416.7 1520.2L1417.7 1523.6L1418.7 1520.4L1419.7 1521.4L1420.7 1520.4L1421.7 1526L1422.7 1523L1423.7 1527.8L1424.7 1522.7L1425.7 1523.7L1426.7 1525.5L1427.7 1522.3L1428.7 1529.4L1429.7 1520.6L1430.7 1523.4L1431.7 1522.5L1432.7 1523L1433.7 1526.2L1434.7 1526.1L1435.7 1522L1436.7 1525.4L1437.7 1525.1L1438.7 1527.8L1439.7 1524.4L1440.7 1525.2L1441.7 1532.5L1442.7 1522.7L1443.7 1526.5L1444.7 1528.3L1445.7 1530.6L1446.7 1532.1L1447.7 1529.3L1448.7 1523.8L1449.7 1531.7L1450.7 1535.7L1451.7 1531.8L1452.7 1531.9L1453.7 1529.7L1454.7 1538.3L1455.7 1535.5L1456.7 1535.2L1457.7 1530.9L1458.7 1530.4L1459.7 1533.4L1460.7 1530.8L1461.7 1534.1L1462.7 1534.3L1463.7 1544.4L1464.7 1538.7L1465.7 1540.1L1466.7 1534L1467.7 1535.4L1468.7 1540.6L1469.7 1536.1L1470.7 1537.2L1471.7 1535.9L1472.7 1540.2L1473.7 1541.5L1474.7 1534.7L1475.7 1540.7L1476.7 1536.3L1477.7 1544.1L1478.7 1541L1479.7 1541.7L1480.7 1545.1L1481.7 1538.5L1482.7 1547.9L1483.7 1541.2L1484.7 1552.5L1485.7 1539.6L1486.7 1541.7L1487.7 1537.4L1488.7 1534.3L1489.7 1545.9L1490.7 1543.5L1491.7 1551.1L1492.7 1547.8L1493.7 1545.9L1494.7 1546.2L1495.7 1543.3L1496.7 1544.6L1497.7 1543L1498.7 1550.8L1499.7 1547.1L1500.7 1553.2L1501.7 1548.5L1502.7 1561.8L1503.7 1547.9L1504.7 1547.3L1505.7 1550.4L1506.7 1550.7L1507.7 1558.1L1508.7 1552.4L1509.7 1551.8L1510.7 1547.2L1511.7 1545.9L1512.7 1550.2L1513.7 1548.7L1514.7 1546.8L1515.7 1554L1516.7 1545.2L1517.7 1541.3L1518.7 1548.9L1519.7 1553.3L1520.7 1549.1L1521.7 1544.3L1522.7 1543.2L1523.7 1556.6L1524.7 1547.3L1525.7 1553.7L1526.7 1552.9L1527.7 1550L1528.7 1549.9L1529.7 1555.1L1530.7 1559.8L1531.7 1556.8L1532.7 1562.7L1533.7 1548.3L1534.7 1566.4L1535.7 1553.6L1536.7 1555.7L1537.7 1556L1538.7 1562.5L1539.7 1559L1540.7 1558.2L1541.7 1559.5L1542.7 1557.6L1543.7 1555.6L1544.7 1559.3L1545.7 1554.4L1546.7 1553.5L1547.7 1561.5L1548.7 1554.7L1549.7 1558.9L1550.7 1563.6L1551.7 1557.9L1552.7 1555.2L1553.7 1564.1L1554.7 1575.6L1555.7 1559.6L1556.7 1559.3L1557.7 1573.6L1558.7 1567.1L1559.7 1563.3L1560.7 1582.2L1561.7 1559.5L1562.7 1558.6L1563.7 1557.1L1564.7 1552.7L1565.7 1568.9L1566.7 1556.1L1567.7 1549.2L1568.7 1580.5L1569.7 1567.3L1570.7 1561.5L1571.7 1572.3L1572.7 1581.5L1573.7 1565.6L1574.7 1566.2L1575.7 1572.3L1576.7 1564.4L1577.7 1559.9L1578.7 1559.3L1579.7 1563.3L1580.7 1576.7L1581.7 1570L1582.7 1586.5L1583.7 1576.5L1584.7 1566.2L1585.7 1562.8L1586.7 1565.3L1587.7 1564.1L1588.7 1580L1589.7 1574.5L1590.7 1574.2L1591.7 1570.7L1592.7 1572.1L1593.7 1553.6L1594.7 1562.7L1595.7 1579.6L1596.7 1577.4L1597.7 1577.1L1598.7 1578.4L1599.7 1578.7L1600.7 1592.9L1601.7 1566L1602.7 1568.9L1603.7 1568.6L1604.7 1571.8L1605.7 1568.9L1606.7 1575.5L1607.7 1590.7L1608.7 1571.5L1609.7 1573.1L1610.7 1586.8L1611.7 1596.4L1612.7 1566.8L1613.7 1585.9L1614.7 1578.4L1615.7 1583.6L1616.7 1564.2L1617.7 1592.7L1618.7 1570.6L1619.7 1605.4L1620.7 1573.8L1621.7 1587L1622.7 1605.6L1623.7 1582.2L1624.7 1583.1L1625.7 1598.2L1626.7 1577.4L1627.7 1580.2L1628.7 1576L1629.7 1596.3L1630.7 1591.5L1631.7 1596.3L1632.7 1586.8L1633.7 1595.3L1634.7 1601.2L1635.7 1578.3L1636.7 1595.2L1637.7 1578.4L1638.7 1578.6L1639.7 1592.3L1640.7 1603.9L1641.7 1581.1L1642.7 1578L1643.7 1576.1L1644.7 1586.6L1645.7 1590.1L1646.7 1604.8L1647.7 1607.9L1648.7 1570.5L1649.7 1589L1650.7 1615.3L1651.7 1596.3L1652.7 1595L1653.7 1621.3L1654.7 1602.6L1655.7 1592.9L1656.7 1581.2L1657.7 1579.9L1658.7 1598.3L1659.7 1596.4L1660.7 1597.3L1661.7 1589.3L1662.7 1584.3L1663.7 1607.7L1664.7 1597.6L1665.7 1603.9L1666.7 1607.2L1667.7 1604.2L1668.7 1578.8L1669.7 1579.9L1670.7 1583.2L1671.7 1620.9L1672.7 1594.7L1673.7 1572L1674.7 1591.8L1675.7 1605.2L1676.7 1588.6L1677.7 1598.8L1678.7 1601.3L1679.7 1593.5L1680.7 1591.4L1681.7 1598.3L1682.7 1595.3L1683.7 1608.8L1684.7 1596.2L1685.7 1589.4L1686.7 1597.9L1687.7 1603.5L1688.7 1622.4L1689.7 1591.4L1690.7 1619.1L1691.7 1595.6L1692.7 1607.5L1693.7 1593.9L1694.7 1591.1L1695.7 1605.7L1696.7 1642.1L1697.7 1627.9L1698.7 1612.3L1699.7 1610.6L1700.7 1594.2L1701.7 1576.4L1702.7 1590.6L1703.7 1600.1L1704.7 1585L1705.7 1603.6L1706.7 1593.9L1707.7 1601.1L1708.7 1633.2L1709.7 1597.5L1710.7 1589.3L1711.7 1612.2L1712.7 1598.5L1713.7 1600.5L1714.7 1609.1L1715.7 1610.5L1716.7 1595.1L1717.7 1615.1L1718.7 1614.7L1719.7 1599.5L1720.7 1599.8L1721.7 1594.3L1722.7 1619.7L1723.7 1630.3L1724.7 1599.8L1725.7 1630.7L1726.7 1613.1L1727.7 1607.9L1728.7 1583.8L1729.7 1598.8L1730.7 1613.8L1731.7 1597.6L1732.7 1584.3L1733.7 1624.3L1734.7 1618.5L1735.7 1589.6L1736.7 1598L1737.7 1611.6L1738.7 1599.3L1739.7 1595.4L1740.7 1612.9L1741.7 1607.3L1742.7 1587L1743.7 1601.3L1744.7 1594.5L1745.7 1607.6L1746.7 1615.1L1747.7 1604.3L1748.7 1620.2L1749.7 1604L1750.7 1612.3L1751.7 1612.3L1752.7 1612.2L1753.7 1622.3L1754.7 1596.6L1755.7 1634.1L1756.7 1614.2L1757.7 1636.7L1758.7 1612.2L1759.7 1626.2L1760.7 1621.8L1761.7 1618.4L1762.7 1618.1L1763.7 1618.4L1764.7 1615.5L1765.7 1615.2L1766.7 1624.7L1767.7 1622.1L1768.7 1620.9L1769.7 1626.7L1770.7 1623.9L1771.7 1602.6L1772.7 1636.2L1773.7 1599.5L1774.7 1625.4L1775.7 1612.5L1776.7 1619.9L1777.7 1623.4L1778.7 1615.9L1779.7 1604L1780.7 1622.9L1781.7 1620.7L1782.7 1626L1783.7 1595.4L1784.7 1602.7L1785.7 1602.8L1786.7 1615.3" stroke="#77AC30"/>
</g>
<path d="M1017.1 1776v-8M1017.1 1353.3v8M1079.7 1776v-5M1079.7 1353.3v5M1116.3 1776v-5M1116.3 1353.3v5M1142.2 1776v-5M1142.2 1353.3v5M1162.4 1776v-5M1162.4 1353.3v5M1178.8 1776v-5M1178.8 1353.3v5M1192.7 1776v-5M1192.7 1353.3v5M1204.8 1776v-5M1204.8 1353.3v5M1215.4 1776v-5M1215.4 1353.3v5M1224.9 1776v-8M1224.9 1353.3v8M1287.5 1776v-5M1287.5 1353.3v5M1324.1 1776v-5M1324.1 1353.3v5M1350 1776v-5M1350 1353.3v5M1370.2 1776v-5M1370.2 1353.3v5M1386.6 1776v-5M1386.6 1353.3v5M1400.5 1776v-5M1400.5 1353.3v5M1412.6 1776v-5M1412.6 1353.3v5M1423.2 1776v-5M1423.2 1353.3v5M1432.7 1776v-8M1432.7 1353.3v8M1495.3 1776v-5M1495.3 1353.3v5M1531.9 1776v-5M1531.9 1353.3v5M1557.8 1776v-5M1557.8 1353.3v5M1578 1776v-5M1578 1353.3v5M1594.4 1776v-5M1594.4 1353.3v5M1608.4 1776v-5M1608.4 1353.3v5M1620.4 1776v-5M1620.4 1353.3v5M1631 1776v-5M1631 1353.3v5M1640.5 1776v-8M1640.5 1353.3v8M1703.1 1776v-5M1703.1 1353.3v5M1739.7 1776v-5M1739.7 1353.3v5M1765.7 1776v-5M1765.7 1353.3v5M1785.8 1776v-5M1785.8 1353.3v5M1017.1 1776h8M1785.8 1776h-8M1017.1 1735.8h5M1785.8 1735.8h-5M1017.1 1712.4h5M1785.8 1712.4h-5M1017.1 1695.7h5M1785.8 1695.7h-5M1017.1 1682.8h5M1785.8 1682.8h-5M1017.1 1672.2h5M1785.8 1672.2h-5M1017.1 1663.3h5M1785.8 1663.3h-5M1017.1 1655.5h5M1785.8 1655.5h-5M1017.1 1648.7h5M1785.8 1648.7h-5M1017.1 1642.6h8M1785.8 1642.6h-8M1017.1 1602.4h5M1785.8 1602.4h-5M1017.1 1579h5M1785.8 1579h-5M1017.1 1562.3h5M1785.8 1562.3h-5M1017.1 1549.4h5M1785.8 1549.4h-5M1017.1 1538.8h5M1785.8 1538.8h-5M1017.1 1529.9h5M1785.8 1529.9h-5M1017.1 1522.1h5M1785.8 1522.1h-5M1017.1 1515.3h5M1785.8 1515.3h-5M1017.1 1509.2h8M1785.8 1509.2h-8M1017.1 1469h5M1785.8 1469h-5M1017.1 1445.6h5M1785.8 1445.6h-5M1017.1 1428.9h5M1785.8 1428.9h-5M1017.1 1416h5M1785.8 1416h-5M1017.1 1405.4h5M1785.8 1405.4h-5M1017.1 1396.5h5M1785.8 1396.5h-5M1017.1 1388.7h5M1785.8 1388.7h-5M1017.1 1381.9h5M1785.8 1381.9h-5M1017.1 1375.8h8M1785.8 1375.8h-8" stroke="#000" stroke-width="1.9" fill="none"/>
<rect x="1017.1" y="1353.3" width="768.7" height="422.7" fill="none" stroke="#000" stroke-width="2.1"/>
<path d="M1786.4 1352.3V1777" stroke="#000" stroke-width="2.4"/>
<text x="1017.1" y="1811" font-size="24" text-anchor="middle">10<tspan font-size="17" dy="-10">−1</tspan></text>
<text x="1224.9" y="1811" font-size="24" text-anchor="middle">10<tspan font-size="17" dy="-10">0</tspan></text>
<text x="1432.7" y="1811" font-size="24" text-anchor="middle">10<tspan font-size="17" dy="-10">1</tspan></text>
<text x="1640.5" y="1811" font-size="24" text-anchor="middle">10<tspan font-size="17" dy="-10">2</tspan></text>
<text x="1005.6" y="1785.5" font-size="24" text-anchor="end">10<tspan font-size="17" dy="-10">−2</tspan></text>
<text x="1005.6" y="1652.1" font-size="24" text-anchor="end">10<tspan font-size="17" dy="-10">−1</tspan></text>
<text x="1005.6" y="1518.7" font-size="24" text-anchor="end">10<tspan font-size="17" dy="-10">0</tspan></text>
<text x="1005.6" y="1385.3" font-size="24" text-anchor="end">10<tspan font-size="17" dy="-10">1</tspan></text>
<text x="1401.5" y="1338.2" font-size="25" text-anchor="middle">Allan variation curve -Proposed BGR</text>
<text x="1401.5" y="1849.1" font-size="25" text-anchor="middle">Time (s)</text>
<text transform="translate(934.7 1564.7) rotate(-90)" font-size="25" text-anchor="middle">Allan variation (°/h)</text>
<text x="1548" y="1394.3" font-size="25">Mean = 0.136°/h</text>
<text x="1548" y="1427.8" font-size="25">Std = 0.0215°/h</text>
<rect x="1108.6" y="1707.7" width="579" height="28" fill="#fff" stroke="#a0a0a0" stroke-width="1.2"/>
<path d="M1113.1 1721.7h27.5" stroke="#0072BD" stroke-width="1.7"/>
<text x="1148.1" y="1727.5" font-size="16.4">Sample1</text>
<path d="M1227.6 1721.7h27.5" stroke="#D95319" stroke-width="1.7"/>
<text x="1262.6" y="1727.5" font-size="16.4">Sample2</text>
<path d="M1342.1 1721.7h27.5" stroke="#EDB120" stroke-width="1.7"/>
<text x="1377.1" y="1727.5" font-size="16.4">Sample3</text>
<path d="M1456.6 1721.7h27.5" stroke="#7E2F8E" stroke-width="1.7"/>
<text x="1491.6" y="1727.5" font-size="16.4">Sample4</text>
<path d="M1571.1 1721.7h27.5" stroke="#77AC30" stroke-width="1.7"/>
<text x="1606.1" y="1727.5" font-size="16.4">Sample5</text>
<text x="913.5" y="1329.5" font-size="42">g</text>
<clipPath id="cliph"><rect x="580.5" y="1940.2" width="761.1" height="385"/></clipPath>
<path d="M580.5 2297.8L1341.6 1988.4" stroke="#ff0000" stroke-width="3" stroke-dasharray="11 9" fill="none" clip-path="url(#cliph)"/>
<path d="M669.7 2252.4V2287.6M666.8 2252.4h5.8M666.8 2287.6h5.8" stroke="#0000ff" stroke-width="3.6" fill="none"/>
<circle cx="669.7" cy="2270.1" r="4.6" fill="#0000ff"/>
<path d="M801.2 2186V2196.5M798.3 2186h5.8M798.3 2196.5h5.8" stroke="#0000ff" stroke-width="3.6" fill="none"/>
<circle cx="801.2" cy="2191.2" r="4.6" fill="#0000ff"/>
<path d="M1082.8 2097V2122.2M1079.9 2097h5.8M1079.9 2122.2h5.8" stroke="#0000ff" stroke-width="3.6" fill="none"/>
<circle cx="1082.8" cy="2109.6" r="4.6" fill="#0000ff"/>
<path d="M1285.1 1982.5V2026.9M1282.2 1982.5h5.8M1282.2 2026.9h5.8" stroke="#0000ff" stroke-width="3.6" fill="none"/>
<circle cx="1285.1" cy="2004.4" r="4.6" fill="#0000ff"/>
<path d="M580.5 2325.2v-8M580.5 1940.2v8M689.2 2325.2v-8M689.2 1940.2v8M798 2325.2v-8M798 1940.2v8M906.7 2325.2v-8M906.7 1940.2v8M1015.4 2325.2v-8M1015.4 1940.2v8M1124.1 2325.2v-8M1124.1 1940.2v8M1232.9 2325.2v-8M1232.9 1940.2v8M1341.6 2325.2v-8M1341.6 1940.2v8M580.5 2325.2h8M1341.6 2325.2h-8M580.5 2248.2h8M1341.6 2248.2h-8M580.5 2171.2h8M1341.6 2171.2h-8M580.5 2094.2h8M1341.6 2094.2h-8M580.5 2017.2h8M1341.6 2017.2h-8M580.5 1940.2h8M1341.6 1940.2h-8" stroke="#000" stroke-width="2" fill="none"/>
<rect x="580.5" y="1940.2" width="761.1" height="385" fill="none" stroke="#000" stroke-width="2.3"/>
<text x="580.5" y="2355.4" font-size="25" text-anchor="middle">0</text>
<text x="689.2" y="2355.4" font-size="25" text-anchor="middle">1</text>
<text x="798" y="2355.4" font-size="25" text-anchor="middle">2</text>
<text x="906.7" y="2355.4" font-size="25" text-anchor="middle">3</text>
<text x="1015.4" y="2355.4" font-size="25" text-anchor="middle">4</text>
<text x="1124.1" y="2355.4" font-size="25" text-anchor="middle">5</text>
<text x="1232.9" y="2355.4" font-size="25" text-anchor="middle">6</text>
<text x="1341.6" y="2355.4" font-size="25" text-anchor="middle">7</text>
<text x="572" y="2333.1" font-size="25" text-anchor="end">0.1</text>
<text x="572" y="2256.1" font-size="25" text-anchor="end">0.15</text>
<text x="572" y="2179.1" font-size="25" text-anchor="end">0.2</text>
<text x="572" y="2102.1" font-size="25" text-anchor="end">0.25</text>
<text x="572" y="2025.1" font-size="25" text-anchor="end">0.3</text>
<text x="572" y="1948.1" font-size="25" text-anchor="end">0.35</text>
<text x="961" y="1930" font-size="25" text-anchor="middle">BI-noise curve</text>
<text x="961" y="2393.8" font-size="25" text-anchor="middle">Integrated noise of BGR (μV)</text>
<text transform="translate(499.6 2132.7) rotate(-90)" font-size="25" text-anchor="middle">Bias instability (°/h)</text>
<text x="477" y="1937.1" font-size="42">h</text>
<path d="M611.2 2016.5H647.8" stroke="#ff0000" stroke-width="2" stroke-dasharray="8 6.5"/>
<text x="657.5" y="2023.3" font-size="25" font-style="italic">Fit</text>
<path d="M694 2016H711" stroke="#999" stroke-width="1.3"/><path d="M714.5 2016L707.5 2012.6L709.2 2016L707.5 2019.4Z" fill="#222"/>
<text x="720" y="2005.4" font-size="25"><tspan font-style="italic">y</tspan> = 0.0287<tspan font-style="italic">x</tspan>+0.1178</text>
<text x="719.5" y="2041.7" font-size="25"><tspan font-style="italic">R</tspan><tspan font-size="17" dy="-10">2</tspan><tspan dy="10"> = 0.9832</tspan></text>
</svg>
</body></html>
